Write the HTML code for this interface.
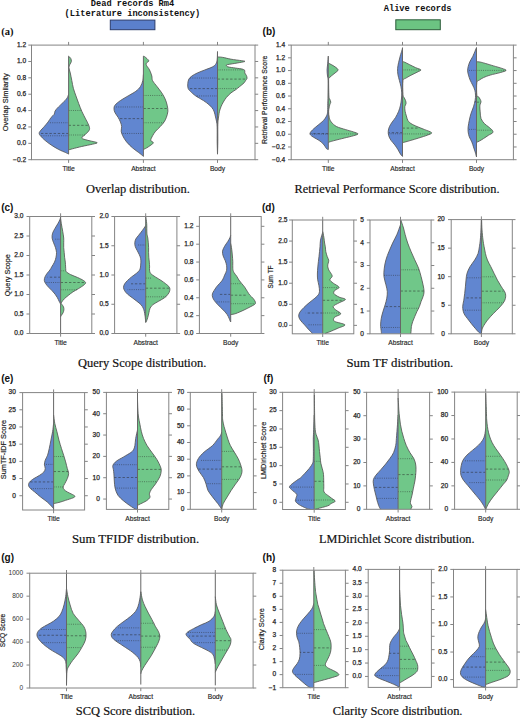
<!DOCTYPE html>
<html><head><meta charset="utf-8"><style>
html,body{margin:0;padding:0;background:#fff;width:520px;height:718px;overflow:hidden}
svg{display:block}
.tk{font-family:"Liberation Sans",sans-serif;font-size:6.6px;fill:#262626;stroke:#262626;stroke-width:0.25px}
.ct{font-family:"Liberation Sans",sans-serif;font-size:6.7px;fill:#262626;stroke:#262626;stroke-width:0.15px}
.tkl{font-family:"Liberation Sans",sans-serif;font-size:6.6px;fill:#333}
.yl{font-family:"Liberation Sans",sans-serif;font-size:7.2px;fill:#262626;stroke:#262626;stroke-width:0.2px}
.pl{font-family:"Liberation Sans",sans-serif;font-size:10px;font-weight:bold;fill:#111}
.pls{font-family:"Liberation Serif",serif;font-size:10.5px;font-weight:bold;fill:#111}
.cap{font-family:"Liberation Serif",serif;font-size:12.8px;fill:#111;stroke:#111;stroke-width:0.2px}
.hd{font-family:"Liberation Mono",monospace;font-size:8.7px;font-weight:bold;fill:#111}
</style></head><body>
<svg width="520" height="718" viewBox="0 0 520 718">
<rect width="520" height="718" fill="#fff"/>
<path d="M68.6,94.41 L68.6,94.41 C68.24,95.18 67.83,97.22 66.46,99 C65.08,100.79 61.86,103.6 60.33,105.13 C58.8,106.66 58.16,107.17 57.27,108.19 C56.37,109.21 55.48,110.23 54.97,111.26 C54.46,112.28 54.84,113.3 54.2,114.32 C53.57,115.34 52.16,116.11 51.14,117.38 C50.12,118.66 49.23,120.44 48.08,121.98 C46.93,123.51 45.58,125.04 44.25,126.57 C42.92,128.1 40.96,130.02 40.12,131.16 C39.27,132.31 39.15,132.7 39.2,133.46 C39.25,134.23 39.45,134.61 40.42,135.76 C41.39,136.91 43.23,138.82 45.02,140.35 C46.8,141.88 48.85,143.42 51.14,144.95 C53.44,146.48 56.37,148.26 58.8,149.54 C61.22,150.82 64.06,151.84 65.69,152.6 C67.32,153.37 68.12,153.88 68.6,154.13 L68.6,154.13 Z" fill="#6186d0"/>
<path d="M68.6,94.41 C68.24,95.18 67.83,97.22 66.46,99 C65.08,100.79 61.86,103.6 60.33,105.13 C58.8,106.66 58.16,107.17 57.27,108.19 C56.37,109.21 55.48,110.23 54.97,111.26 C54.46,112.28 54.84,113.3 54.2,114.32 C53.57,115.34 52.16,116.11 51.14,117.38 C50.12,118.66 49.23,120.44 48.08,121.98 C46.93,123.51 45.58,125.04 44.25,126.57 C42.92,128.1 40.96,130.02 40.12,131.16 C39.27,132.31 39.15,132.7 39.2,133.46 C39.25,134.23 39.45,134.61 40.42,135.76 C41.39,136.91 43.23,138.82 45.02,140.35 C46.8,141.88 48.85,143.42 51.14,144.95 C53.44,146.48 56.37,148.26 58.8,149.54 C61.22,150.82 64.06,151.84 65.69,152.6 C67.32,153.37 68.12,153.88 68.6,154.13" fill="none" stroke="#555555" stroke-width="0.85" stroke-linejoin="round"/>
<line x1="68.6" y1="122.74" x2="49.61" y2="122.74" stroke="#2a2a2a" stroke-opacity="0.62" stroke-width="0.85" stroke-dasharray="0.9,1.3"/>
<line x1="68.6" y1="133.46" x2="39.2" y2="133.46" stroke="#2a2a2a" stroke-opacity="0.62" stroke-width="0.85" stroke-dasharray="2.4,1.8"/>
<line x1="68.6" y1="135.76" x2="40.42" y2="135.76" stroke="#2a2a2a" stroke-opacity="0.62" stroke-width="0.85" stroke-dasharray="0.9,1.3"/>
<path d="M68.6,56.13 L68.6,56.13 C68.96,56.51 70.28,57.53 70.74,58.42 C71.2,59.32 71.51,60.46 71.36,61.49 C71.2,62.51 70.23,63.53 69.83,64.55 C69.42,65.57 68.83,66.21 68.91,67.61 C68.98,69.01 69.8,70.8 70.28,72.97 C70.77,75.14 71.31,78.08 71.82,80.63 C72.33,83.18 72.66,85.73 73.35,88.28 C74.04,90.84 75.06,93.39 75.95,95.94 C76.84,98.49 77.74,101.05 78.71,103.6 C79.68,106.15 80.62,108.7 81.77,111.26 C82.92,113.81 84.45,116.62 85.6,118.91 C86.75,121.21 88.02,123.25 88.66,125.04 C89.3,126.82 89.94,128.1 89.43,129.63 C88.92,131.16 86.87,132.82 85.6,134.23 C84.32,135.63 81.39,137.03 81.77,138.06 C82.15,139.08 85.34,139.59 87.9,140.35 C90.45,141.12 96.32,142.01 97.08,142.65 C97.85,143.29 95.04,143.54 92.49,144.18 C89.94,144.82 85.09,145.71 81.77,146.48 C78.45,147.24 74.78,148.21 72.58,148.77 C70.39,149.34 69.26,149.67 68.6,149.85 L68.6,149.85 Z" fill="#70c789"/>
<path d="M68.6,56.13 C68.96,56.51 70.28,57.53 70.74,58.42 C71.2,59.32 71.51,60.46 71.36,61.49 C71.2,62.51 70.23,63.53 69.83,64.55 C69.42,65.57 68.83,66.21 68.91,67.61 C68.98,69.01 69.8,70.8 70.28,72.97 C70.77,75.14 71.31,78.08 71.82,80.63 C72.33,83.18 72.66,85.73 73.35,88.28 C74.04,90.84 75.06,93.39 75.95,95.94 C76.84,98.49 77.74,101.05 78.71,103.6 C79.68,106.15 80.62,108.7 81.77,111.26 C82.92,113.81 84.45,116.62 85.6,118.91 C86.75,121.21 88.02,123.25 88.66,125.04 C89.3,126.82 89.94,128.1 89.43,129.63 C88.92,131.16 86.87,132.82 85.6,134.23 C84.32,135.63 81.39,137.03 81.77,138.06 C82.15,139.08 85.34,139.59 87.9,140.35 C90.45,141.12 96.32,142.01 97.08,142.65 C97.85,143.29 95.04,143.54 92.49,144.18 C89.94,144.82 85.09,145.71 81.77,146.48 C78.45,147.24 74.78,148.21 72.58,148.77 C70.39,149.34 69.26,149.67 68.6,149.85" fill="none" stroke="#555555" stroke-width="0.85" stroke-linejoin="round"/>
<line x1="68.6" y1="110.49" x2="81.46" y2="110.49" stroke="#2a2a2a" stroke-opacity="0.62" stroke-width="0.85" stroke-dasharray="0.9,1.3"/>
<line x1="68.6" y1="125.34" x2="88.66" y2="125.34" stroke="#2a2a2a" stroke-opacity="0.62" stroke-width="0.85" stroke-dasharray="2.4,1.8"/>
<line x1="68.6" y1="134.99" x2="85.14" y2="134.99" stroke="#2a2a2a" stroke-opacity="0.62" stroke-width="0.85" stroke-dasharray="0.9,1.3"/>
<line x1="68.6" y1="56.13" x2="68.6" y2="154.13" stroke="#666666" stroke-width="1"/>
<path d="M143.4,74.5 L143.4,74.5 C143.3,75.52 143.3,78.59 142.79,80.63 C142.28,82.67 141.51,84.97 140.34,86.75 C139.16,88.54 137.78,89.82 135.74,91.35 C133.7,92.88 130.64,94.41 128.09,95.94 C125.53,97.47 122.6,99 120.43,100.54 C118.26,102.07 116.14,103.73 115.07,105.13 C114,106.53 114,107.68 114,108.96 C114,110.23 114.38,111.38 115.07,112.79 C115.76,114.19 117.24,115.85 118.13,117.38 C119.03,118.91 119.84,120.44 120.43,121.98 C121.02,123.51 121.53,125.04 121.65,126.57 C121.78,128.1 121.02,129.63 121.19,131.16 C121.37,132.7 121.83,133.97 122.73,135.76 C123.62,137.54 124.9,139.84 126.55,141.88 C128.21,143.93 130.64,146.22 132.68,148.01 C134.72,149.8 137.15,151.33 138.81,152.6 C140.46,153.88 141.87,155.03 142.63,155.67 C143.4,156.3 143.27,156.3 143.4,156.43 L143.4,156.43 Z" fill="#6186d0"/>
<path d="M143.4,74.5 C143.3,75.52 143.3,78.59 142.79,80.63 C142.28,82.67 141.51,84.97 140.34,86.75 C139.16,88.54 137.78,89.82 135.74,91.35 C133.7,92.88 130.64,94.41 128.09,95.94 C125.53,97.47 122.6,99 120.43,100.54 C118.26,102.07 116.14,103.73 115.07,105.13 C114,106.53 114,107.68 114,108.96 C114,110.23 114.38,111.38 115.07,112.79 C115.76,114.19 117.24,115.85 118.13,117.38 C119.03,118.91 119.84,120.44 120.43,121.98 C121.02,123.51 121.53,125.04 121.65,126.57 C121.78,128.1 121.02,129.63 121.19,131.16 C121.37,132.7 121.83,133.97 122.73,135.76 C123.62,137.54 124.9,139.84 126.55,141.88 C128.21,143.93 130.64,146.22 132.68,148.01 C134.72,149.8 137.15,151.33 138.81,152.6 C140.46,153.88 141.87,155.03 142.63,155.67 C143.4,156.3 143.27,156.3 143.4,156.43" fill="none" stroke="#555555" stroke-width="0.85" stroke-linejoin="round"/>
<line x1="143.4" y1="106.97" x2="114.61" y2="106.97" stroke="#2a2a2a" stroke-opacity="0.62" stroke-width="0.85" stroke-dasharray="0.9,1.3"/>
<line x1="143.4" y1="118.61" x2="119.2" y2="118.61" stroke="#2a2a2a" stroke-opacity="0.62" stroke-width="0.85" stroke-dasharray="2.4,1.8"/>
<line x1="143.4" y1="133.46" x2="121.35" y2="133.46" stroke="#2a2a2a" stroke-opacity="0.62" stroke-width="0.85" stroke-dasharray="0.9,1.3"/>
<path d="M143.4,56.13 L143.4,56.13 C143.66,56.25 144.04,56.13 144.93,56.89 C145.82,57.66 148.5,59.7 148.76,60.72 C149.02,61.74 146.85,62.25 146.46,63.02 C146.08,63.78 145.95,64.17 146.46,65.31 C146.97,66.46 148.63,68.12 149.53,69.91 C150.42,71.69 151.31,74.25 151.82,76.03 C152.33,77.82 151.7,78.84 152.59,80.63 C153.48,82.41 155.65,84.71 157.18,86.75 C158.71,88.8 160.45,90.84 161.78,92.88 C163.1,94.92 164.25,96.96 165.15,99 C166.04,101.05 166.68,103.09 167.14,105.13 C167.6,107.17 168.03,109.21 167.9,111.26 C167.77,113.3 167.01,115.59 166.37,117.38 C165.73,119.17 165.09,120.44 164.07,121.98 C163.05,123.51 161.65,125.04 160.25,126.57 C158.84,128.1 156.93,129.63 155.65,131.16 C154.37,132.7 153.41,134.23 152.59,135.76 C151.77,137.29 150.62,139.2 150.75,140.35 C150.88,141.5 153.3,141.88 153.35,142.65 C153.41,143.42 152.21,144.05 151.06,144.95 C149.91,145.84 147.74,147.24 146.46,148.01 C145.19,148.77 143.91,149.29 143.4,149.54 L143.4,149.54 Z" fill="#70c789"/>
<path d="M143.4,56.13 C143.66,56.25 144.04,56.13 144.93,56.89 C145.82,57.66 148.5,59.7 148.76,60.72 C149.02,61.74 146.85,62.25 146.46,63.02 C146.08,63.78 145.95,64.17 146.46,65.31 C146.97,66.46 148.63,68.12 149.53,69.91 C150.42,71.69 151.31,74.25 151.82,76.03 C152.33,77.82 151.7,78.84 152.59,80.63 C153.48,82.41 155.65,84.71 157.18,86.75 C158.71,88.8 160.45,90.84 161.78,92.88 C163.1,94.92 164.25,96.96 165.15,99 C166.04,101.05 166.68,103.09 167.14,105.13 C167.6,107.17 168.03,109.21 167.9,111.26 C167.77,113.3 167.01,115.59 166.37,117.38 C165.73,119.17 165.09,120.44 164.07,121.98 C163.05,123.51 161.65,125.04 160.25,126.57 C158.84,128.1 156.93,129.63 155.65,131.16 C154.37,132.7 153.41,134.23 152.59,135.76 C151.77,137.29 150.62,139.2 150.75,140.35 C150.88,141.5 153.3,141.88 153.35,142.65 C153.41,143.42 152.21,144.05 151.06,144.95 C149.91,145.84 147.74,147.24 146.46,148.01 C145.19,148.77 143.91,149.29 143.4,149.54" fill="none" stroke="#555555" stroke-width="0.85" stroke-linejoin="round"/>
<line x1="143.4" y1="95.48" x2="163.31" y2="95.48" stroke="#2a2a2a" stroke-opacity="0.62" stroke-width="0.85" stroke-dasharray="0.9,1.3"/>
<line x1="143.4" y1="108.5" x2="167.6" y2="108.5" stroke="#2a2a2a" stroke-opacity="0.62" stroke-width="0.85" stroke-dasharray="2.4,1.8"/>
<line x1="143.4" y1="122.74" x2="163.61" y2="122.74" stroke="#2a2a2a" stroke-opacity="0.62" stroke-width="0.85" stroke-dasharray="0.9,1.3"/>
<line x1="143.4" y1="56.13" x2="143.4" y2="156.43" stroke="#666666" stroke-width="1"/>
<path d="M217.5,51.53 L217.5,51.53 C217.45,52.81 217.45,57.15 217.19,59.19 C216.94,61.23 216.73,62.51 215.97,63.78 C215.2,65.06 214.44,65.82 212.6,66.85 C210.76,67.87 207.49,68.89 204.94,69.91 C202.39,70.93 199.46,71.95 197.29,72.97 C195.12,73.99 193.33,75.01 191.93,76.03 C190.52,77.05 189.55,77.82 188.86,79.1 C188.17,80.37 187.92,82.16 187.79,83.69 C187.66,85.22 187.66,87.01 188.1,88.28 C188.53,89.56 189.12,90.07 190.39,91.35 C191.67,92.62 193.58,94.41 195.75,95.94 C197.92,97.47 201.11,99 203.41,100.54 C205.71,102.07 207.88,103.6 209.54,105.13 C211.2,106.66 212.47,108.19 213.37,109.72 C214.26,111.26 214.46,112.79 214.9,114.32 C215.33,115.85 215.64,117.38 215.97,118.91 C216.3,120.44 216.68,121.72 216.89,123.51 C217.09,125.29 217.14,126.57 217.19,129.63 C217.24,132.7 217.14,137.8 217.19,141.88 C217.24,145.97 217.45,152.09 217.5,154.13 L217.5,154.13 Z" fill="#6186d0"/>
<path d="M217.5,51.53 C217.45,52.81 217.45,57.15 217.19,59.19 C216.94,61.23 216.73,62.51 215.97,63.78 C215.2,65.06 214.44,65.82 212.6,66.85 C210.76,67.87 207.49,68.89 204.94,69.91 C202.39,70.93 199.46,71.95 197.29,72.97 C195.12,73.99 193.33,75.01 191.93,76.03 C190.52,77.05 189.55,77.82 188.86,79.1 C188.17,80.37 187.92,82.16 187.79,83.69 C187.66,85.22 187.66,87.01 188.1,88.28 C188.53,89.56 189.12,90.07 190.39,91.35 C191.67,92.62 193.58,94.41 195.75,95.94 C197.92,97.47 201.11,99 203.41,100.54 C205.71,102.07 207.88,103.6 209.54,105.13 C211.2,106.66 212.47,108.19 213.37,109.72 C214.26,111.26 214.46,112.79 214.9,114.32 C215.33,115.85 215.64,117.38 215.97,118.91 C216.3,120.44 216.68,121.72 216.89,123.51 C217.09,125.29 217.14,126.57 217.19,129.63 C217.24,132.7 217.14,137.8 217.19,141.88 C217.24,145.97 217.45,152.09 217.5,154.13" fill="none" stroke="#555555" stroke-width="0.85" stroke-linejoin="round"/>
<line x1="217.5" y1="78.02" x2="189.02" y2="78.02" stroke="#2a2a2a" stroke-opacity="0.62" stroke-width="0.85" stroke-dasharray="0.9,1.3"/>
<line x1="217.5" y1="88.59" x2="188.1" y2="88.59" stroke="#2a2a2a" stroke-opacity="0.62" stroke-width="0.85" stroke-dasharray="2.4,1.8"/>
<line x1="217.5" y1="95.94" x2="196.52" y2="95.94" stroke="#2a2a2a" stroke-opacity="0.62" stroke-width="0.85" stroke-dasharray="0.9,1.3"/>
<path d="M217.5,56.89 L217.5,56.89 C218.34,56.97 220.31,56.97 222.55,57.35 C224.8,57.73 227.79,58.63 230.98,59.19 C234.17,59.75 239.4,60.34 241.7,60.72 C243.99,61.1 245.52,61.1 244.76,61.49 C243.99,61.87 239.91,62.51 237.1,63.02 C234.29,63.53 229.7,64.17 227.91,64.55 C226.13,64.93 226.38,64.93 226.38,65.31 C226.38,65.7 226.38,66.39 227.91,66.85 C229.44,67.3 233.15,67.69 235.57,68.07 C238,68.45 240.93,68.71 242.46,69.14 C243.99,69.58 244.38,70.04 244.76,70.67 C245.14,71.31 244.5,72.21 244.76,72.97 C245.01,73.74 245.91,74.37 246.29,75.27 C246.67,76.16 247.18,77.44 247.06,78.33 C246.93,79.22 246.03,79.86 245.52,80.63 C245.01,81.39 245.01,81.9 243.99,82.92 C242.97,83.95 240.8,85.6 239.4,86.75 C238,87.9 236.97,88.8 235.57,89.82 C234.17,90.84 232.51,91.6 230.98,92.88 C229.44,94.16 227.66,95.94 226.38,97.47 C225.11,99 224.21,100.54 223.32,102.07 C222.43,103.6 221.66,105.13 221.02,106.66 C220.38,108.19 219.87,109.72 219.49,111.26 C219.11,112.79 218.95,114.32 218.73,115.85 C218.5,117.38 218.27,118.66 218.11,120.44 C217.96,122.23 217.86,123 217.81,126.57 C217.76,130.14 217.86,137.29 217.81,141.88 C217.76,146.48 217.55,152.09 217.5,154.13 L217.5,154.13 Z" fill="#70c789"/>
<path d="M217.5,56.89 C218.34,56.97 220.31,56.97 222.55,57.35 C224.8,57.73 227.79,58.63 230.98,59.19 C234.17,59.75 239.4,60.34 241.7,60.72 C243.99,61.1 245.52,61.1 244.76,61.49 C243.99,61.87 239.91,62.51 237.1,63.02 C234.29,63.53 229.7,64.17 227.91,64.55 C226.13,64.93 226.38,64.93 226.38,65.31 C226.38,65.7 226.38,66.39 227.91,66.85 C229.44,67.3 233.15,67.69 235.57,68.07 C238,68.45 240.93,68.71 242.46,69.14 C243.99,69.58 244.38,70.04 244.76,70.67 C245.14,71.31 244.5,72.21 244.76,72.97 C245.01,73.74 245.91,74.37 246.29,75.27 C246.67,76.16 247.18,77.44 247.06,78.33 C246.93,79.22 246.03,79.86 245.52,80.63 C245.01,81.39 245.01,81.9 243.99,82.92 C242.97,83.95 240.8,85.6 239.4,86.75 C238,87.9 236.97,88.8 235.57,89.82 C234.17,90.84 232.51,91.6 230.98,92.88 C229.44,94.16 227.66,95.94 226.38,97.47 C225.11,99 224.21,100.54 223.32,102.07 C222.43,103.6 221.66,105.13 221.02,106.66 C220.38,108.19 219.87,109.72 219.49,111.26 C219.11,112.79 218.95,114.32 218.73,115.85 C218.5,117.38 218.27,118.66 218.11,120.44 C217.96,122.23 217.86,123 217.81,126.57 C217.76,130.14 217.86,137.29 217.81,141.88 C217.76,146.48 217.55,152.09 217.5,154.13" fill="none" stroke="#555555" stroke-width="0.85" stroke-linejoin="round"/>
<line x1="217.5" y1="69.91" x2="244.45" y2="69.91" stroke="#2a2a2a" stroke-opacity="0.62" stroke-width="0.85" stroke-dasharray="0.9,1.3"/>
<line x1="217.5" y1="79.1" x2="246.6" y2="79.1" stroke="#2a2a2a" stroke-opacity="0.62" stroke-width="0.85" stroke-dasharray="2.4,1.8"/>
<line x1="217.5" y1="88.59" x2="236.34" y2="88.59" stroke="#2a2a2a" stroke-opacity="0.62" stroke-width="0.85" stroke-dasharray="0.9,1.3"/>
<line x1="217.5" y1="51.53" x2="217.5" y2="154.13" stroke="#666666" stroke-width="1"/>
<path d="M328.3,56.13 L328.3,56.13 C328.2,57.4 327.89,61.49 327.69,63.78 C327.48,66.08 327.1,67.87 327.07,69.91 C327.05,71.95 327.33,74.25 327.53,76.03 C327.74,77.82 328.2,77.31 328.3,80.63 C328.4,83.95 328.22,92.11 328.15,95.94 C328.07,99.77 327.92,101.05 327.84,103.6 C327.76,106.15 327.89,109.21 327.69,111.26 C327.48,113.3 327.3,114.32 326.62,115.85 C325.93,117.38 324.96,118.91 323.55,120.44 C322.15,121.98 319.85,123.63 318.19,125.04 C316.53,126.44 314.93,127.59 313.6,128.87 C312.27,130.14 310.74,131.67 310.23,132.7 C309.72,133.72 309.97,134.23 310.54,134.99 C311.1,135.76 312.19,136.4 313.6,137.29 C315,138.18 317.43,139.33 318.96,140.35 C320.49,141.37 321.77,142.39 322.79,143.42 C323.81,144.44 324.45,145.58 325.08,146.48 C325.72,147.37 326.08,148.26 326.62,148.77 C327.15,149.29 328.02,149.41 328.3,149.54 L328.3,149.54 Z" fill="#6186d0"/>
<path d="M328.3,56.13 C328.2,57.4 327.89,61.49 327.69,63.78 C327.48,66.08 327.1,67.87 327.07,69.91 C327.05,71.95 327.33,74.25 327.53,76.03 C327.74,77.82 328.2,77.31 328.3,80.63 C328.4,83.95 328.22,92.11 328.15,95.94 C328.07,99.77 327.92,101.05 327.84,103.6 C327.76,106.15 327.89,109.21 327.69,111.26 C327.48,113.3 327.3,114.32 326.62,115.85 C325.93,117.38 324.96,118.91 323.55,120.44 C322.15,121.98 319.85,123.63 318.19,125.04 C316.53,126.44 314.93,127.59 313.6,128.87 C312.27,130.14 310.74,131.67 310.23,132.7 C309.72,133.72 309.97,134.23 310.54,134.99 C311.1,135.76 312.19,136.4 313.6,137.29 C315,138.18 317.43,139.33 318.96,140.35 C320.49,141.37 321.77,142.39 322.79,143.42 C323.81,144.44 324.45,145.58 325.08,146.48 C325.72,147.37 326.08,148.26 326.62,148.77 C327.15,149.29 328.02,149.41 328.3,149.54" fill="none" stroke="#555555" stroke-width="0.85" stroke-linejoin="round"/>
<line x1="328.3" y1="133.61" x2="310.54" y2="133.61" stroke="#2a2a2a" stroke-opacity="0.62" stroke-width="0.85" stroke-dasharray="2.4,1.8"/>
<line x1="328.3" y1="134.07" x2="310.84" y2="134.07" stroke="#2a2a2a" stroke-opacity="0.62" stroke-width="0.85" stroke-dasharray="0.9,1.3"/>
<path d="M328.3,63.02 L328.3,63.02 C328.78,63.27 330.09,63.91 331.21,64.55 C332.33,65.19 333.89,65.95 335.04,66.85 C336.19,67.74 338.1,68.89 338.1,69.91 C338.1,70.93 336.19,71.95 335.04,72.97 C333.89,73.99 332.23,75.14 331.21,76.03 C330.19,76.93 329.35,77.57 328.91,78.33 C328.48,79.1 328.61,77.69 328.61,80.63 C328.61,83.56 328.73,92.88 328.91,95.94 C329.09,99 329.37,97.98 329.68,99 C329.98,100.03 330.75,101.05 330.75,102.07 C330.75,103.09 330.04,103.6 329.68,105.13 C329.32,106.66 328.68,109.21 328.61,111.26 C328.53,113.3 328.78,115.59 329.22,117.38 C329.65,119.17 329.98,120.44 331.21,121.98 C332.43,123.51 334.14,125.29 336.57,126.57 C338.99,127.85 342.95,128.74 345.76,129.63 C348.57,130.53 351.37,131.21 353.41,131.93 C355.46,132.64 358.01,133.28 358.01,133.92 C358.01,134.56 355.71,135.07 353.41,135.76 C351.12,136.45 347.29,137.29 344.23,138.06 C341.16,138.82 337.46,139.71 335.04,140.35 C332.61,140.99 330.8,141.5 329.68,141.88 C328.56,142.27 328.53,142.52 328.3,142.65 L328.3,142.65 Z" fill="#70c789"/>
<path d="M328.3,63.02 C328.78,63.27 330.09,63.91 331.21,64.55 C332.33,65.19 333.89,65.95 335.04,66.85 C336.19,67.74 338.1,68.89 338.1,69.91 C338.1,70.93 336.19,71.95 335.04,72.97 C333.89,73.99 332.23,75.14 331.21,76.03 C330.19,76.93 329.35,77.57 328.91,78.33 C328.48,79.1 328.61,77.69 328.61,80.63 C328.61,83.56 328.73,92.88 328.91,95.94 C329.09,99 329.37,97.98 329.68,99 C329.98,100.03 330.75,101.05 330.75,102.07 C330.75,103.09 330.04,103.6 329.68,105.13 C329.32,106.66 328.68,109.21 328.61,111.26 C328.53,113.3 328.78,115.59 329.22,117.38 C329.65,119.17 329.98,120.44 331.21,121.98 C332.43,123.51 334.14,125.29 336.57,126.57 C338.99,127.85 342.95,128.74 345.76,129.63 C348.57,130.53 351.37,131.21 353.41,131.93 C355.46,132.64 358.01,133.28 358.01,133.92 C358.01,134.56 355.71,135.07 353.41,135.76 C351.12,136.45 347.29,137.29 344.23,138.06 C341.16,138.82 337.46,139.71 335.04,140.35 C332.61,140.99 330.8,141.5 329.68,141.88 C328.56,142.27 328.53,142.52 328.3,142.65" fill="none" stroke="#555555" stroke-width="0.85" stroke-linejoin="round"/>
<line x1="328.3" y1="133.92" x2="357.24" y2="133.92" stroke="#2a2a2a" stroke-opacity="0.62" stroke-width="0.85" stroke-dasharray="0.9,1.3"/>
<line x1="328.3" y1="56.13" x2="328.3" y2="149.54" stroke="#666666" stroke-width="1"/>
<path d="M402.5,47.7 L402.5,47.7 C402.42,48.09 402.42,48.6 402.04,50 C401.66,51.4 400.76,54.08 400.2,56.13 C399.64,58.17 399.11,60.21 398.67,62.25 C398.24,64.29 397.73,66.33 397.6,68.38 C397.47,70.42 397.6,72.46 397.91,74.5 C398.21,76.54 398.93,78.59 399.44,80.63 C399.95,82.67 400.59,84.71 400.97,86.75 C401.35,88.8 401.66,90.84 401.73,92.88 C401.81,94.92 401.63,96.96 401.43,99 C401.22,101.05 400.97,103.09 400.51,105.13 C400.05,107.17 399.49,109.21 398.67,111.26 C397.85,113.3 396.68,115.59 395.61,117.38 C394.54,119.17 393.26,120.44 392.24,121.98 C391.22,123.51 390.15,125.04 389.48,126.57 C388.82,128.1 388.39,129.63 388.26,131.16 C388.13,132.7 388.26,134.23 388.72,135.76 C389.18,137.29 389.99,138.82 391.01,140.35 C392.04,141.88 393.69,143.42 394.84,144.95 C395.99,146.48 396.96,148.01 397.91,149.54 C398.85,151.07 399.74,152.99 400.51,154.13 C401.27,155.28 402.17,156.05 402.5,156.43 L402.5,156.43 Z" fill="#6186d0"/>
<path d="M402.5,47.7 C402.42,48.09 402.42,48.6 402.04,50 C401.66,51.4 400.76,54.08 400.2,56.13 C399.64,58.17 399.11,60.21 398.67,62.25 C398.24,64.29 397.73,66.33 397.6,68.38 C397.47,70.42 397.6,72.46 397.91,74.5 C398.21,76.54 398.93,78.59 399.44,80.63 C399.95,82.67 400.59,84.71 400.97,86.75 C401.35,88.8 401.66,90.84 401.73,92.88 C401.81,94.92 401.63,96.96 401.43,99 C401.22,101.05 400.97,103.09 400.51,105.13 C400.05,107.17 399.49,109.21 398.67,111.26 C397.85,113.3 396.68,115.59 395.61,117.38 C394.54,119.17 393.26,120.44 392.24,121.98 C391.22,123.51 390.15,125.04 389.48,126.57 C388.82,128.1 388.39,129.63 388.26,131.16 C388.13,132.7 388.26,134.23 388.72,135.76 C389.18,137.29 389.99,138.82 391.01,140.35 C392.04,141.88 393.69,143.42 394.84,144.95 C395.99,146.48 396.96,148.01 397.91,149.54 C398.85,151.07 399.74,152.99 400.51,154.13 C401.27,155.28 402.17,156.05 402.5,156.43" fill="none" stroke="#555555" stroke-width="0.85" stroke-linejoin="round"/>
<line x1="402.5" y1="132.7" x2="388.72" y2="132.7" stroke="#2a2a2a" stroke-opacity="0.62" stroke-width="0.85" stroke-dasharray="2.4,1.8"/>
<line x1="402.5" y1="133.77" x2="388.56" y2="133.77" stroke="#2a2a2a" stroke-opacity="0.62" stroke-width="0.85" stroke-dasharray="0.9,1.3"/>
<path d="M402.5,61.49 L402.5,61.49 C402.88,61.61 403.65,61.74 404.8,62.25 C405.95,62.76 407.6,63.65 409.39,64.55 C411.18,65.44 413.6,66.72 415.52,67.61 C417.43,68.5 420.62,69.14 420.88,69.91 C421.13,70.67 418.71,71.31 417.05,72.21 C415.39,73.1 412.84,74.25 410.92,75.27 C409.01,76.29 406.89,77.44 405.56,78.33 C404.24,79.22 403.39,77.95 402.96,80.63 C402.53,83.31 402.78,91.6 402.96,94.41 C403.14,97.22 403.6,96.45 404.03,97.47 C404.47,98.49 405.23,99.52 405.56,100.54 C405.89,101.56 406.15,102.58 406.02,103.6 C405.89,104.62 404.95,105.39 404.8,106.66 C404.64,107.94 404.85,109.72 405.1,111.26 C405.36,112.79 405.87,114.32 406.33,115.85 C406.79,117.38 407.09,119.17 407.86,120.44 C408.63,121.72 409.39,122.49 410.92,123.51 C412.45,124.53 414.75,125.55 417.05,126.57 C419.35,127.59 422.28,128.61 424.71,129.63 C427.13,130.65 431.09,131.8 431.6,132.7 C432.11,133.59 429.94,134.1 427.77,134.99 C425.6,135.89 421.39,137.16 418.58,138.06 C415.77,138.95 413.09,139.71 410.92,140.35 C408.75,140.99 406.97,141.5 405.56,141.88 C404.16,142.27 403.01,142.52 402.5,142.65 L402.5,142.65 Z" fill="#70c789"/>
<path d="M402.5,61.49 C402.88,61.61 403.65,61.74 404.8,62.25 C405.95,62.76 407.6,63.65 409.39,64.55 C411.18,65.44 413.6,66.72 415.52,67.61 C417.43,68.5 420.62,69.14 420.88,69.91 C421.13,70.67 418.71,71.31 417.05,72.21 C415.39,73.1 412.84,74.25 410.92,75.27 C409.01,76.29 406.89,77.44 405.56,78.33 C404.24,79.22 403.39,77.95 402.96,80.63 C402.53,83.31 402.78,91.6 402.96,94.41 C403.14,97.22 403.6,96.45 404.03,97.47 C404.47,98.49 405.23,99.52 405.56,100.54 C405.89,101.56 406.15,102.58 406.02,103.6 C405.89,104.62 404.95,105.39 404.8,106.66 C404.64,107.94 404.85,109.72 405.1,111.26 C405.36,112.79 405.87,114.32 406.33,115.85 C406.79,117.38 407.09,119.17 407.86,120.44 C408.63,121.72 409.39,122.49 410.92,123.51 C412.45,124.53 414.75,125.55 417.05,126.57 C419.35,127.59 422.28,128.61 424.71,129.63 C427.13,130.65 431.09,131.8 431.6,132.7 C432.11,133.59 429.94,134.1 427.77,134.99 C425.6,135.89 421.39,137.16 418.58,138.06 C415.77,138.95 413.09,139.71 410.92,140.35 C408.75,140.99 406.97,141.5 405.56,141.88 C404.16,142.27 403.01,142.52 402.5,142.65" fill="none" stroke="#555555" stroke-width="0.85" stroke-linejoin="round"/>
<line x1="402.5" y1="69.91" x2="420.11" y2="69.91" stroke="#2a2a2a" stroke-opacity="0.62" stroke-width="0.85" stroke-dasharray="0.9,1.3"/>
<line x1="402.5" y1="128.1" x2="418.58" y2="128.1" stroke="#2a2a2a" stroke-opacity="0.62" stroke-width="0.85" stroke-dasharray="2.4,1.8"/>
<line x1="402.5" y1="133.92" x2="430.07" y2="133.92" stroke="#2a2a2a" stroke-opacity="0.62" stroke-width="0.85" stroke-dasharray="0.9,1.3"/>
<line x1="402.5" y1="47.7" x2="402.5" y2="156.43" stroke="#666666" stroke-width="1"/>
<path d="M476.5,47.52 L476.5,47.52 C476.33,47.94 476.14,48.49 475.5,50.02 C474.86,51.55 473.6,54.76 472.66,56.71 C471.71,58.65 470.57,60.05 469.82,61.72 C469.07,63.39 468.51,65.2 468.15,66.73 C467.79,68.26 467.59,69.51 467.65,70.91 C467.7,72.3 468.06,73.55 468.48,75.08 C468.9,76.61 469.46,78.42 470.15,80.09 C470.85,81.76 471.88,83.43 472.66,85.11 C473.44,86.78 474.36,88.45 474.83,90.12 C475.3,91.79 475.44,93.46 475.5,95.13 C475.55,96.8 475.5,98.19 475.16,100.14 C474.83,102.09 474.19,104.6 473.49,106.82 C472.8,109.05 471.68,111.28 470.99,113.5 C470.29,115.73 469.79,117.96 469.32,120.19 C468.84,122.41 468.34,124.92 468.15,126.87 C467.95,128.82 467.95,130.21 468.15,131.88 C468.34,133.55 468.7,135.22 469.32,136.89 C469.93,138.56 471.13,140.23 471.82,141.9 C472.52,143.58 472.94,145.25 473.49,146.92 C474.05,148.59 474.66,150.26 475.16,151.93 C475.66,153.6 476.28,156.1 476.5,156.94 L476.5,156.94 Z" fill="#6186d0"/>
<path d="M476.5,47.52 C476.33,47.94 476.14,48.49 475.5,50.02 C474.86,51.55 473.6,54.76 472.66,56.71 C471.71,58.65 470.57,60.05 469.82,61.72 C469.07,63.39 468.51,65.2 468.15,66.73 C467.79,68.26 467.59,69.51 467.65,70.91 C467.7,72.3 468.06,73.55 468.48,75.08 C468.9,76.61 469.46,78.42 470.15,80.09 C470.85,81.76 471.88,83.43 472.66,85.11 C473.44,86.78 474.36,88.45 474.83,90.12 C475.3,91.79 475.44,93.46 475.5,95.13 C475.55,96.8 475.5,98.19 475.16,100.14 C474.83,102.09 474.19,104.6 473.49,106.82 C472.8,109.05 471.68,111.28 470.99,113.5 C470.29,115.73 469.79,117.96 469.32,120.19 C468.84,122.41 468.34,124.92 468.15,126.87 C467.95,128.82 467.95,130.21 468.15,131.88 C468.34,133.55 468.7,135.22 469.32,136.89 C469.93,138.56 471.13,140.23 471.82,141.9 C472.52,143.58 472.94,145.25 473.49,146.92 C474.05,148.59 474.66,150.26 475.16,151.93 C475.66,153.6 476.28,156.1 476.5,156.94" fill="none" stroke="#555555" stroke-width="0.85" stroke-linejoin="round"/>
<line x1="476.5" y1="70.4" x2="467.81" y2="70.4" stroke="#2a2a2a" stroke-opacity="0.62" stroke-width="0.85" stroke-dasharray="0.9,1.3"/>
<line x1="476.5" y1="101.81" x2="474.83" y2="101.81" stroke="#2a2a2a" stroke-opacity="0.62" stroke-width="0.85" stroke-dasharray="2.4,1.8"/>
<line x1="476.5" y1="129.38" x2="468.15" y2="129.38" stroke="#2a2a2a" stroke-opacity="0.62" stroke-width="0.85" stroke-dasharray="0.9,1.3"/>
<path d="M476.5,61.72 L476.5,61.72 C477.11,61.77 478.73,61.77 480.18,62.05 C481.62,62.33 482.96,62.75 485.19,63.39 C487.41,64.03 490.76,65.06 493.54,65.89 C496.32,66.73 499.8,67.65 501.89,68.4 C503.98,69.15 506.35,69.71 506.07,70.4 C505.79,71.1 502.87,71.8 500.22,72.58 C497.58,73.36 492.98,74.25 490.2,75.08 C487.41,75.92 485.33,76.75 483.52,77.59 C481.71,78.42 480.45,79.26 479.34,80.09 C478.23,80.93 477.25,80.09 476.83,82.6 C476.42,85.11 476.56,92.76 476.83,95.13 C477.11,97.5 477.95,96.1 478.5,96.8 C479.06,97.5 479.76,98.47 480.18,99.31 C480.59,100.14 481.01,100.98 481.01,101.81 C481.01,102.65 480.37,103.48 480.18,104.32 C479.98,105.15 479.84,105.57 479.84,106.82 C479.84,108.08 479.98,109.89 480.18,111.83 C480.37,113.78 480.31,116.57 481.01,118.52 C481.71,120.47 483.1,122.14 484.35,123.53 C485.6,124.92 487.22,125.76 488.53,126.87 C489.84,127.98 491.51,129.24 492.2,130.21 C492.9,131.18 493.32,131.88 492.7,132.72 C492.09,133.55 490.06,134.25 488.53,135.22 C487,136.2 485.05,137.59 483.52,138.56 C481.99,139.54 480.45,140.46 479.34,141.07 C478.23,141.68 477.25,142.04 476.83,142.24 L476.5,142.24 Z" fill="#70c789"/>
<path d="M476.5,61.72 C477.11,61.77 478.73,61.77 480.18,62.05 C481.62,62.33 482.96,62.75 485.19,63.39 C487.41,64.03 490.76,65.06 493.54,65.89 C496.32,66.73 499.8,67.65 501.89,68.4 C503.98,69.15 506.35,69.71 506.07,70.4 C505.79,71.1 502.87,71.8 500.22,72.58 C497.58,73.36 492.98,74.25 490.2,75.08 C487.41,75.92 485.33,76.75 483.52,77.59 C481.71,78.42 480.45,79.26 479.34,80.09 C478.23,80.93 477.25,80.09 476.83,82.6 C476.42,85.11 476.56,92.76 476.83,95.13 C477.11,97.5 477.95,96.1 478.5,96.8 C479.06,97.5 479.76,98.47 480.18,99.31 C480.59,100.14 481.01,100.98 481.01,101.81 C481.01,102.65 480.37,103.48 480.18,104.32 C479.98,105.15 479.84,105.57 479.84,106.82 C479.84,108.08 479.98,109.89 480.18,111.83 C480.37,113.78 480.31,116.57 481.01,118.52 C481.71,120.47 483.1,122.14 484.35,123.53 C485.6,124.92 487.22,125.76 488.53,126.87 C489.84,127.98 491.51,129.24 492.2,130.21 C492.9,131.18 493.32,131.88 492.7,132.72 C492.09,133.55 490.06,134.25 488.53,135.22 C487,136.2 485.05,137.59 483.52,138.56 C481.99,139.54 480.45,140.46 479.34,141.07 C478.23,141.68 477.25,142.04 476.83,142.24" fill="none" stroke="#555555" stroke-width="0.85" stroke-linejoin="round"/>
<line x1="476.5" y1="70.4" x2="505.57" y2="70.4" stroke="#2a2a2a" stroke-opacity="0.62" stroke-width="0.85" stroke-dasharray="0.9,1.3"/>
<line x1="476.5" y1="102.15" x2="480.18" y2="102.15" stroke="#2a2a2a" stroke-opacity="0.62" stroke-width="0.85" stroke-dasharray="2.4,1.8"/>
<line x1="476.5" y1="130.21" x2="492.2" y2="130.21" stroke="#2a2a2a" stroke-opacity="0.62" stroke-width="0.85" stroke-dasharray="0.9,1.3"/>
<line x1="476.5" y1="47.52" x2="476.5" y2="156.94" stroke="#666666" stroke-width="1"/>
<path d="M60.6,217.4 L60.6,217.4 C60.47,217.8 60.25,218.77 59.8,219.8 C59.35,220.83 58.7,222.17 57.9,223.6 C57.1,225.03 55.88,226.8 55,228.4 C54.12,230 53.08,231.6 52.6,233.2 C52.12,234.8 51.93,236.4 52.1,238 C52.27,239.6 53.03,241.18 53.6,242.8 C54.17,244.42 55.02,246.08 55.5,247.7 C55.98,249.32 56.42,250.9 56.5,252.5 C56.58,254.1 56.33,255.7 56,257.3 C55.67,258.9 55.22,260.5 54.5,262.1 C53.78,263.7 52.47,265.58 51.7,266.9 C50.93,268.22 50.68,268.9 49.9,270 C49.12,271.1 47.82,272.35 47,273.5 C46.18,274.65 45.45,275.75 45,276.9 C44.55,278.05 44.17,279.25 44.3,280.4 C44.43,281.55 45.07,282.65 45.8,283.8 C46.53,284.95 47.63,286.13 48.7,287.3 C49.77,288.47 51.13,289.65 52.2,290.8 C53.27,291.95 54.23,293.05 55.1,294.2 C55.97,295.35 56.73,296.53 57.4,297.7 C58.07,298.87 58.62,300.23 59.1,301.2 C59.58,302.17 60.05,303.03 60.3,303.5 C60.55,303.97 60.55,303.92 60.6,304 L60.6,304 Z" fill="#6186d0"/>
<path d="M60.6,217.4 C60.47,217.8 60.25,218.77 59.8,219.8 C59.35,220.83 58.7,222.17 57.9,223.6 C57.1,225.03 55.88,226.8 55,228.4 C54.12,230 53.08,231.6 52.6,233.2 C52.12,234.8 51.93,236.4 52.1,238 C52.27,239.6 53.03,241.18 53.6,242.8 C54.17,244.42 55.02,246.08 55.5,247.7 C55.98,249.32 56.42,250.9 56.5,252.5 C56.58,254.1 56.33,255.7 56,257.3 C55.67,258.9 55.22,260.5 54.5,262.1 C53.78,263.7 52.47,265.58 51.7,266.9 C50.93,268.22 50.68,268.9 49.9,270 C49.12,271.1 47.82,272.35 47,273.5 C46.18,274.65 45.45,275.75 45,276.9 C44.55,278.05 44.17,279.25 44.3,280.4 C44.43,281.55 45.07,282.65 45.8,283.8 C46.53,284.95 47.63,286.13 48.7,287.3 C49.77,288.47 51.13,289.65 52.2,290.8 C53.27,291.95 54.23,293.05 55.1,294.2 C55.97,295.35 56.73,296.53 57.4,297.7 C58.07,298.87 58.62,300.23 59.1,301.2 C59.58,302.17 60.05,303.03 60.3,303.5 C60.55,303.97 60.55,303.92 60.6,304" fill="none" stroke="#555555" stroke-width="0.85" stroke-linejoin="round"/>
<line x1="60.6" y1="239.2" x2="54.6" y2="239.2" stroke="#2a2a2a" stroke-opacity="0.62" stroke-width="0.85" stroke-dasharray="0.9,1.3"/>
<line x1="60.6" y1="277.2" x2="47.6" y2="277.2" stroke="#2a2a2a" stroke-opacity="0.62" stroke-width="0.85" stroke-dasharray="2.4,1.8"/>
<line x1="60.6" y1="282.5" x2="45.1" y2="282.5" stroke="#2a2a2a" stroke-opacity="0.62" stroke-width="0.85" stroke-dasharray="0.9,1.3"/>
<path d="M60.6,218.8 L60.6,218.8 C60.72,219.6 60.95,221.52 61.3,223.6 C61.65,225.68 62.3,228.9 62.7,231.3 C63.1,233.7 63.53,236.08 63.7,238 C63.87,239.92 63.7,241.18 63.7,242.8 C63.7,244.42 63.62,246.08 63.7,247.7 C63.78,249.32 64.05,250.9 64.2,252.5 C64.35,254.1 64.42,255.7 64.6,257.3 C64.78,258.9 65.13,260.5 65.3,262.1 C65.47,263.7 65.52,265.58 65.6,266.9 C65.68,268.22 65.7,269.2 65.8,270 C65.9,270.8 65.4,270.93 66.2,271.7 C67,272.47 68.7,273.63 70.6,274.6 C72.5,275.57 75.48,276.53 77.6,277.5 C79.72,278.47 81.97,279.53 83.3,280.4 C84.63,281.27 85.5,281.93 85.6,282.7 C85.7,283.47 85.05,284.03 83.9,285 C82.75,285.97 80.53,287.35 78.7,288.5 C76.87,289.65 74.63,290.75 72.9,291.9 C71.17,293.05 69.73,294.25 68.3,295.4 C66.87,296.55 65.35,297.75 64.3,298.8 C63.25,299.85 62.52,300.92 62,301.7 C61.48,302.48 61.2,303.02 61.2,303.5 C61.2,303.98 61.62,304.03 62,304.6 C62.38,305.17 63.18,306.03 63.5,306.9 C63.82,307.77 63.97,308.83 63.9,309.8 C63.83,310.77 63.48,311.83 63.1,312.7 C62.72,313.57 61.98,314.42 61.6,315 C61.22,315.58 60.97,315.87 60.8,316.2 C60.63,316.53 60.63,316.87 60.6,317 L60.6,317 Z" fill="#70c789"/>
<path d="M60.6,218.8 C60.72,219.6 60.95,221.52 61.3,223.6 C61.65,225.68 62.3,228.9 62.7,231.3 C63.1,233.7 63.53,236.08 63.7,238 C63.87,239.92 63.7,241.18 63.7,242.8 C63.7,244.42 63.62,246.08 63.7,247.7 C63.78,249.32 64.05,250.9 64.2,252.5 C64.35,254.1 64.42,255.7 64.6,257.3 C64.78,258.9 65.13,260.5 65.3,262.1 C65.47,263.7 65.52,265.58 65.6,266.9 C65.68,268.22 65.7,269.2 65.8,270 C65.9,270.8 65.4,270.93 66.2,271.7 C67,272.47 68.7,273.63 70.6,274.6 C72.5,275.57 75.48,276.53 77.6,277.5 C79.72,278.47 81.97,279.53 83.3,280.4 C84.63,281.27 85.5,281.93 85.6,282.7 C85.7,283.47 85.05,284.03 83.9,285 C82.75,285.97 80.53,287.35 78.7,288.5 C76.87,289.65 74.63,290.75 72.9,291.9 C71.17,293.05 69.73,294.25 68.3,295.4 C66.87,296.55 65.35,297.75 64.3,298.8 C63.25,299.85 62.52,300.92 62,301.7 C61.48,302.48 61.2,303.02 61.2,303.5 C61.2,303.98 61.62,304.03 62,304.6 C62.38,305.17 63.18,306.03 63.5,306.9 C63.82,307.77 63.97,308.83 63.9,309.8 C63.83,310.77 63.48,311.83 63.1,312.7 C62.72,313.57 61.98,314.42 61.6,315 C61.22,315.58 60.97,315.87 60.8,316.2 C60.63,316.53 60.63,316.87 60.6,317" fill="none" stroke="#555555" stroke-width="0.85" stroke-linejoin="round"/>
<line x1="60.6" y1="270.8" x2="65.4" y2="270.8" stroke="#2a2a2a" stroke-opacity="0.62" stroke-width="0.85" stroke-dasharray="0.9,1.3"/>
<line x1="60.6" y1="282.5" x2="85.1" y2="282.5" stroke="#2a2a2a" stroke-opacity="0.62" stroke-width="0.85" stroke-dasharray="2.4,1.8"/>
<line x1="60.6" y1="289.8" x2="77.6" y2="289.8" stroke="#2a2a2a" stroke-opacity="0.62" stroke-width="0.85" stroke-dasharray="0.9,1.3"/>
<line x1="60.6" y1="216.5" x2="60.6" y2="333.5" stroke="#666666" stroke-width="1"/>
<path d="M145.7,225.5 L145.7,225.5 C145.6,225.67 145.63,225.7 145.1,226.5 C144.57,227.3 143.57,228.85 142.5,230.3 C141.43,231.75 139.82,233.75 138.7,235.2 C137.58,236.65 136.45,237.73 135.8,239 C135.15,240.27 134.88,241.52 134.8,242.8 C134.72,244.08 134.9,245.42 135.3,246.7 C135.7,247.98 136.55,249.22 137.2,250.5 C137.85,251.78 138.63,253.12 139.2,254.4 C139.77,255.68 140.32,256.92 140.6,258.2 C140.88,259.48 140.9,260.82 140.9,262.1 C140.9,263.38 140.8,264.58 140.6,265.9 C140.4,267.22 140.43,268.73 139.7,270 C138.97,271.27 137.55,272.35 136.2,273.5 C134.85,274.65 133.03,275.75 131.6,276.9 C130.17,278.05 128.75,279.25 127.6,280.4 C126.45,281.55 125.38,282.65 124.7,283.8 C124.02,284.95 123.5,286.13 123.5,287.3 C123.5,288.47 124.02,289.65 124.7,290.8 C125.38,291.95 126.35,293.05 127.6,294.2 C128.85,295.35 130.67,296.53 132.2,297.7 C133.73,298.87 135.35,300.05 136.8,301.2 C138.25,302.35 139.83,303.45 140.9,304.6 C141.97,305.75 142.63,306.95 143.2,308.1 C143.77,309.25 143.98,310.15 144.3,311.5 C144.62,312.85 144.87,314.47 145.1,316.2 C145.33,317.93 145.6,320.95 145.7,321.9 L145.7,321.9 Z" fill="#6186d0"/>
<path d="M145.7,225.5 C145.6,225.67 145.63,225.7 145.1,226.5 C144.57,227.3 143.57,228.85 142.5,230.3 C141.43,231.75 139.82,233.75 138.7,235.2 C137.58,236.65 136.45,237.73 135.8,239 C135.15,240.27 134.88,241.52 134.8,242.8 C134.72,244.08 134.9,245.42 135.3,246.7 C135.7,247.98 136.55,249.22 137.2,250.5 C137.85,251.78 138.63,253.12 139.2,254.4 C139.77,255.68 140.32,256.92 140.6,258.2 C140.88,259.48 140.9,260.82 140.9,262.1 C140.9,263.38 140.8,264.58 140.6,265.9 C140.4,267.22 140.43,268.73 139.7,270 C138.97,271.27 137.55,272.35 136.2,273.5 C134.85,274.65 133.03,275.75 131.6,276.9 C130.17,278.05 128.75,279.25 127.6,280.4 C126.45,281.55 125.38,282.65 124.7,283.8 C124.02,284.95 123.5,286.13 123.5,287.3 C123.5,288.47 124.02,289.65 124.7,290.8 C125.38,291.95 126.35,293.05 127.6,294.2 C128.85,295.35 130.67,296.53 132.2,297.7 C133.73,298.87 135.35,300.05 136.8,301.2 C138.25,302.35 139.83,303.45 140.9,304.6 C141.97,305.75 142.63,306.95 143.2,308.1 C143.77,309.25 143.98,310.15 144.3,311.5 C144.62,312.85 144.87,314.47 145.1,316.2 C145.33,317.93 145.6,320.95 145.7,321.9" fill="none" stroke="#555555" stroke-width="0.85" stroke-linejoin="round"/>
<line x1="145.7" y1="245" x2="137.2" y2="245" stroke="#2a2a2a" stroke-opacity="0.62" stroke-width="0.85" stroke-dasharray="0.9,1.3"/>
<line x1="145.7" y1="283.8" x2="131" y2="283.8" stroke="#2a2a2a" stroke-opacity="0.62" stroke-width="0.85" stroke-dasharray="2.4,1.8"/>
<line x1="145.7" y1="289.6" x2="127.7" y2="289.6" stroke="#2a2a2a" stroke-opacity="0.62" stroke-width="0.85" stroke-dasharray="0.9,1.3"/>
<path d="M145.7,216.9 L145.7,216.9 C145.87,218.02 146.5,220.88 146.7,223.6 C146.9,226.32 146.72,230.8 146.9,233.2 C147.08,235.6 147.57,236.4 147.8,238 C148.03,239.6 148.17,241.18 148.3,242.8 C148.43,244.42 148.55,246.08 148.6,247.7 C148.65,249.32 148.57,250.9 148.6,252.5 C148.63,254.1 148.68,255.7 148.8,257.3 C148.92,258.9 149.17,260.5 149.3,262.1 C149.43,263.7 149.57,265.58 149.6,266.9 C149.63,268.22 149.32,268.9 149.5,270 C149.68,271.1 149.73,272.35 150.7,273.5 C151.67,274.65 153.58,275.75 155.3,276.9 C157.02,278.05 159.27,279.25 161,280.4 C162.73,281.55 164.3,282.65 165.7,283.8 C167.1,284.95 168.73,286.13 169.4,287.3 C170.07,288.47 169.93,289.65 169.7,290.8 C169.47,291.95 168.87,293.05 168,294.2 C167.13,295.35 166.05,296.53 164.5,297.7 C162.95,298.87 160.62,300.05 158.7,301.2 C156.78,302.35 154.43,303.45 153,304.6 C151.57,305.75 150.78,306.75 150.1,308.1 C149.42,309.45 149.28,311.17 148.9,312.7 C148.52,314.23 148.18,315.95 147.8,317.3 C147.42,318.65 146.95,319.93 146.6,320.8 C146.25,321.67 145.85,322.22 145.7,322.5 L145.7,322.5 Z" fill="#70c789"/>
<path d="M145.7,216.9 C145.87,218.02 146.5,220.88 146.7,223.6 C146.9,226.32 146.72,230.8 146.9,233.2 C147.08,235.6 147.57,236.4 147.8,238 C148.03,239.6 148.17,241.18 148.3,242.8 C148.43,244.42 148.55,246.08 148.6,247.7 C148.65,249.32 148.57,250.9 148.6,252.5 C148.63,254.1 148.68,255.7 148.8,257.3 C148.92,258.9 149.17,260.5 149.3,262.1 C149.43,263.7 149.57,265.58 149.6,266.9 C149.63,268.22 149.32,268.9 149.5,270 C149.68,271.1 149.73,272.35 150.7,273.5 C151.67,274.65 153.58,275.75 155.3,276.9 C157.02,278.05 159.27,279.25 161,280.4 C162.73,281.55 164.3,282.65 165.7,283.8 C167.1,284.95 168.73,286.13 169.4,287.3 C170.07,288.47 169.93,289.65 169.7,290.8 C169.47,291.95 168.87,293.05 168,294.2 C167.13,295.35 166.05,296.53 164.5,297.7 C162.95,298.87 160.62,300.05 158.7,301.2 C156.78,302.35 154.43,303.45 153,304.6 C151.57,305.75 150.78,306.75 150.1,308.1 C149.42,309.45 149.28,311.17 148.9,312.7 C148.52,314.23 148.18,315.95 147.8,317.3 C147.42,318.65 146.95,319.93 146.6,320.8 C146.25,321.67 145.85,322.22 145.7,322.5" fill="none" stroke="#555555" stroke-width="0.85" stroke-linejoin="round"/>
<line x1="145.7" y1="278.1" x2="151.7" y2="278.1" stroke="#2a2a2a" stroke-opacity="0.62" stroke-width="0.85" stroke-dasharray="0.9,1.3"/>
<line x1="145.7" y1="288.2" x2="169.7" y2="288.2" stroke="#2a2a2a" stroke-opacity="0.62" stroke-width="0.85" stroke-dasharray="2.4,1.8"/>
<line x1="145.7" y1="296.8" x2="166.7" y2="296.8" stroke="#2a2a2a" stroke-opacity="0.62" stroke-width="0.85" stroke-dasharray="0.9,1.3"/>
<line x1="145.7" y1="216.5" x2="145.7" y2="322.5" stroke="#666666" stroke-width="1"/>
<path d="M230.7,235.3 L230.7,235.3 C230.57,235.7 230.38,236.67 229.9,237.7 C229.42,238.73 228.68,240.07 227.8,241.5 C226.92,242.93 225.48,244.68 224.6,246.3 C223.72,247.92 222.73,249.58 222.5,251.2 C222.27,252.82 222.73,254.4 223.2,256 C223.67,257.6 224.73,259.2 225.3,260.8 C225.87,262.4 226.38,264 226.6,265.6 C226.82,267.2 226.93,268.8 226.6,270.4 C226.27,272 225.28,273.6 224.6,275.2 C223.92,276.8 223.35,278.62 222.5,280 C221.65,281.38 220.5,282.35 219.5,283.5 C218.5,284.65 217.38,285.75 216.5,286.9 C215.62,288.05 214.88,289.25 214.2,290.4 C213.52,291.55 212.67,292.65 212.4,293.8 C212.13,294.95 212.25,296.13 212.6,297.3 C212.95,298.47 213.7,299.65 214.5,300.8 C215.3,301.95 216.33,303.05 217.4,304.2 C218.47,305.35 219.73,306.53 220.9,307.7 C222.07,308.87 223.35,310.05 224.4,311.2 C225.45,312.35 226.43,313.45 227.2,314.6 C227.97,315.75 228.55,317.13 229,318.1 C229.45,319.07 229.62,319.75 229.9,320.4 C230.18,321.05 230.57,321.73 230.7,322 L230.7,322 Z" fill="#6186d0"/>
<path d="M230.7,235.3 C230.57,235.7 230.38,236.67 229.9,237.7 C229.42,238.73 228.68,240.07 227.8,241.5 C226.92,242.93 225.48,244.68 224.6,246.3 C223.72,247.92 222.73,249.58 222.5,251.2 C222.27,252.82 222.73,254.4 223.2,256 C223.67,257.6 224.73,259.2 225.3,260.8 C225.87,262.4 226.38,264 226.6,265.6 C226.82,267.2 226.93,268.8 226.6,270.4 C226.27,272 225.28,273.6 224.6,275.2 C223.92,276.8 223.35,278.62 222.5,280 C221.65,281.38 220.5,282.35 219.5,283.5 C218.5,284.65 217.38,285.75 216.5,286.9 C215.62,288.05 214.88,289.25 214.2,290.4 C213.52,291.55 212.67,292.65 212.4,293.8 C212.13,294.95 212.25,296.13 212.6,297.3 C212.95,298.47 213.7,299.65 214.5,300.8 C215.3,301.95 216.33,303.05 217.4,304.2 C218.47,305.35 219.73,306.53 220.9,307.7 C222.07,308.87 223.35,310.05 224.4,311.2 C225.45,312.35 226.43,313.45 227.2,314.6 C227.97,315.75 228.55,317.13 229,318.1 C229.45,319.07 229.62,319.75 229.9,320.4 C230.18,321.05 230.57,321.73 230.7,322" fill="none" stroke="#555555" stroke-width="0.85" stroke-linejoin="round"/>
<line x1="230.7" y1="294.4" x2="218.7" y2="294.4" stroke="#2a2a2a" stroke-opacity="0.62" stroke-width="0.85" stroke-dasharray="2.4,1.8"/>
<line x1="230.7" y1="301.9" x2="216.7" y2="301.9" stroke="#2a2a2a" stroke-opacity="0.62" stroke-width="0.85" stroke-dasharray="0.9,1.3"/>
<path d="M230.7,243.5 L230.7,243.5 C230.87,244.45 231.43,247.28 231.7,249.2 C231.97,251.12 232.12,252.92 232.3,255 C232.48,257.08 232.72,259.45 232.8,261.7 C232.88,263.95 232.63,266.73 232.8,268.5 C232.97,270.27 233.15,271.02 233.8,272.3 C234.45,273.58 235.85,274.92 236.7,276.2 C237.55,277.48 238.07,278.78 238.9,280 C239.73,281.22 240.77,282.35 241.7,283.5 C242.63,284.65 243.55,285.57 244.5,286.9 C245.45,288.23 246.53,290.15 247.4,291.5 C248.27,292.85 248.73,293.83 249.7,295 C250.67,296.17 252.27,297.35 253.2,298.5 C254.13,299.65 255.02,300.95 255.3,301.9 C255.58,302.85 255.63,303.43 254.9,304.2 C254.17,304.97 252.72,305.53 250.9,306.5 C249.08,307.47 246.5,308.83 244,310 C241.5,311.17 238.07,312.73 235.9,313.5 C233.73,314.27 231.87,314.35 231,314.6 C230.13,314.85 230.75,314.93 230.7,315 L230.7,315 Z" fill="#70c789"/>
<path d="M230.7,243.5 C230.87,244.45 231.43,247.28 231.7,249.2 C231.97,251.12 232.12,252.92 232.3,255 C232.48,257.08 232.72,259.45 232.8,261.7 C232.88,263.95 232.63,266.73 232.8,268.5 C232.97,270.27 233.15,271.02 233.8,272.3 C234.45,273.58 235.85,274.92 236.7,276.2 C237.55,277.48 238.07,278.78 238.9,280 C239.73,281.22 240.77,282.35 241.7,283.5 C242.63,284.65 243.55,285.57 244.5,286.9 C245.45,288.23 246.53,290.15 247.4,291.5 C248.27,292.85 248.73,293.83 249.7,295 C250.67,296.17 252.27,297.35 253.2,298.5 C254.13,299.65 255.02,300.95 255.3,301.9 C255.58,302.85 255.63,303.43 254.9,304.2 C254.17,304.97 252.72,305.53 250.9,306.5 C249.08,307.47 246.5,308.83 244,310 C241.5,311.17 238.07,312.73 235.9,313.5 C233.73,314.27 231.87,314.35 231,314.6 C230.13,314.85 230.75,314.93 230.7,315" fill="none" stroke="#555555" stroke-width="0.85" stroke-linejoin="round"/>
<line x1="230.7" y1="283.7" x2="240.7" y2="283.7" stroke="#2a2a2a" stroke-opacity="0.62" stroke-width="0.85" stroke-dasharray="0.9,1.3"/>
<line x1="230.7" y1="295.2" x2="245.7" y2="295.2" stroke="#2a2a2a" stroke-opacity="0.62" stroke-width="0.85" stroke-dasharray="2.4,1.8"/>
<line x1="230.7" y1="303.7" x2="253.7" y2="303.7" stroke="#2a2a2a" stroke-opacity="0.62" stroke-width="0.85" stroke-dasharray="0.9,1.3"/>
<line x1="230.7" y1="216.5" x2="230.7" y2="322" stroke="#666666" stroke-width="1"/>
<path d="M322.7,232.4 L322.7,232.4 C322.33,233.68 320.95,237.7 320.5,240.1 C320.05,242.5 320.25,244.07 320,246.8 C319.75,249.53 319.35,253.28 319,256.5 C318.65,259.72 318.17,263.18 317.9,266.1 C317.63,269.02 317.43,271.72 317.4,274 C317.37,276.28 317.45,277.88 317.7,279.8 C317.95,281.72 318.6,283.58 318.9,285.5 C319.2,287.42 319.6,289.75 319.5,291.3 C319.4,292.85 319.07,293.65 318.3,294.8 C317.53,295.95 316.43,296.87 314.9,298.2 C313.37,299.53 310.93,301.25 309.1,302.8 C307.27,304.35 305.43,305.95 303.9,307.5 C302.37,309.05 300.77,310.67 299.9,312.1 C299.03,313.53 298.62,314.75 298.7,316.1 C298.78,317.45 299.43,318.75 300.4,320.2 C301.37,321.65 303.15,323.27 304.5,324.8 C305.85,326.33 307.17,327.97 308.5,329.4 C309.83,330.83 311.83,332.73 312.5,333.4 L322.7,333.4 Z" fill="#6186d0"/>
<path d="M322.7,232.4 C322.33,233.68 320.95,237.7 320.5,240.1 C320.05,242.5 320.25,244.07 320,246.8 C319.75,249.53 319.35,253.28 319,256.5 C318.65,259.72 318.17,263.18 317.9,266.1 C317.63,269.02 317.43,271.72 317.4,274 C317.37,276.28 317.45,277.88 317.7,279.8 C317.95,281.72 318.6,283.58 318.9,285.5 C319.2,287.42 319.6,289.75 319.5,291.3 C319.4,292.85 319.07,293.65 318.3,294.8 C317.53,295.95 316.43,296.87 314.9,298.2 C313.37,299.53 310.93,301.25 309.1,302.8 C307.27,304.35 305.43,305.95 303.9,307.5 C302.37,309.05 300.77,310.67 299.9,312.1 C299.03,313.53 298.62,314.75 298.7,316.1 C298.78,317.45 299.43,318.75 300.4,320.2 C301.37,321.65 303.15,323.27 304.5,324.8 C305.85,326.33 307.17,327.97 308.5,329.4 C309.83,330.83 311.83,332.73 312.5,333.4" fill="none" stroke="#555555" stroke-width="0.85" stroke-linejoin="round"/>
<line x1="322.7" y1="313" x2="305.7" y2="313" stroke="#2a2a2a" stroke-opacity="0.62" stroke-width="0.85" stroke-dasharray="2.4,1.8"/>
<line x1="322.7" y1="324.8" x2="307.4" y2="324.8" stroke="#2a2a2a" stroke-opacity="0.62" stroke-width="0.85" stroke-dasharray="0.9,1.3"/>
<path d="M322.7,231.5 L322.7,231.5 C322.89,232.45 323.53,235.28 323.85,237.2 C324.17,239.12 324.36,241.4 324.6,243 C324.84,244.6 325.1,245.35 325.3,246.8 C325.5,248.25 325.48,250.08 325.8,251.7 C326.12,253.32 326.72,255.07 327.2,256.5 C327.68,257.93 328.53,259.18 328.7,260.3 C328.87,261.42 328.37,262.23 328.2,263.2 C328.03,264.17 327.62,264.98 327.7,266.1 C327.78,267.22 328.22,268.78 328.7,269.9 C329.18,271.02 330.02,271.73 330.6,272.8 C331.18,273.87 332.32,275.13 332.2,276.3 C332.08,277.47 329.72,278.65 329.9,279.8 C330.08,280.95 331.77,281.95 333.3,283.2 C334.83,284.45 338.82,286.13 339.1,287.3 C339.38,288.47 335.87,289.15 335,290.2 C334.13,291.25 333.22,292.45 333.9,293.6 C334.58,294.75 337.18,296.13 339.1,297.1 C341.02,298.07 345.4,298.45 345.4,299.4 C345.4,300.35 341.12,301.65 339.1,302.8 C337.08,303.95 333.88,305.13 333.3,306.3 C332.72,307.47 334.35,308.55 335.6,309.8 C336.85,311.05 340.98,312.55 340.8,313.8 C340.62,315.05 335.55,316.05 334.5,317.3 C333.45,318.55 332.77,320.05 334.5,321.3 C336.23,322.55 344.33,323.65 344.9,324.8 C345.47,325.95 340.4,327.05 337.9,328.2 C335.4,329.35 332.02,330.83 329.9,331.7 C327.78,332.57 325.98,333.12 325.2,333.4 L322.7,333.4 Z" fill="#70c789"/>
<path d="M322.7,231.5 C322.89,232.45 323.53,235.28 323.85,237.2 C324.17,239.12 324.36,241.4 324.6,243 C324.84,244.6 325.1,245.35 325.3,246.8 C325.5,248.25 325.48,250.08 325.8,251.7 C326.12,253.32 326.72,255.07 327.2,256.5 C327.68,257.93 328.53,259.18 328.7,260.3 C328.87,261.42 328.37,262.23 328.2,263.2 C328.03,264.17 327.62,264.98 327.7,266.1 C327.78,267.22 328.22,268.78 328.7,269.9 C329.18,271.02 330.02,271.73 330.6,272.8 C331.18,273.87 332.32,275.13 332.2,276.3 C332.08,277.47 329.72,278.65 329.9,279.8 C330.08,280.95 331.77,281.95 333.3,283.2 C334.83,284.45 338.82,286.13 339.1,287.3 C339.38,288.47 335.87,289.15 335,290.2 C334.13,291.25 333.22,292.45 333.9,293.6 C334.58,294.75 337.18,296.13 339.1,297.1 C341.02,298.07 345.4,298.45 345.4,299.4 C345.4,300.35 341.12,301.65 339.1,302.8 C337.08,303.95 333.88,305.13 333.3,306.3 C332.72,307.47 334.35,308.55 335.6,309.8 C336.85,311.05 340.98,312.55 340.8,313.8 C340.62,315.05 335.55,316.05 334.5,317.3 C333.45,318.55 332.77,320.05 334.5,321.3 C336.23,322.55 344.33,323.65 344.9,324.8 C345.47,325.95 340.4,327.05 337.9,328.2 C335.4,329.35 332.02,330.83 329.9,331.7 C327.78,332.57 325.98,333.12 325.2,333.4" fill="none" stroke="#555555" stroke-width="0.85" stroke-linejoin="round"/>
<line x1="322.7" y1="287.6" x2="337.2" y2="287.6" stroke="#2a2a2a" stroke-opacity="0.62" stroke-width="0.85" stroke-dasharray="0.9,1.3"/>
<line x1="322.7" y1="300.3" x2="341.7" y2="300.3" stroke="#2a2a2a" stroke-opacity="0.62" stroke-width="0.85" stroke-dasharray="2.4,1.8"/>
<line x1="322.7" y1="313" x2="339.2" y2="313" stroke="#2a2a2a" stroke-opacity="0.62" stroke-width="0.85" stroke-dasharray="0.9,1.3"/>
<line x1="322.7" y1="220" x2="322.7" y2="333.8" stroke="#666666" stroke-width="1"/>
<path d="M400.5,224.69 L400.5,224.69 C400.31,225.24 399.94,226.36 399.33,228.03 C398.72,229.7 397.94,232.21 396.82,234.71 C395.71,237.22 393.95,240.29 392.64,243.07 C391.34,245.86 390.08,248.64 388.97,251.43 C387.85,254.21 386.74,257 385.96,259.79 C385.18,262.57 384.62,265.36 384.29,268.14 C383.95,270.93 383.67,273.71 383.95,276.5 C384.23,279.28 385.4,282.35 385.96,284.86 C386.52,287.36 387.16,289.31 387.3,291.54 C387.44,293.77 387.16,296 386.79,298.23 C386.43,300.46 385.76,302.68 385.12,304.91 C384.48,307.14 383.59,309.37 382.95,311.6 C382.31,313.83 381.67,316.06 381.28,318.28 C380.89,320.51 380.61,322.74 380.61,324.97 C380.61,327.2 381.14,330.18 381.28,331.66 C381.42,333.13 381.42,333.47 381.45,333.83 L400.5,333.83 Z" fill="#6186d0"/>
<path d="M400.5,224.69 C400.31,225.24 399.94,226.36 399.33,228.03 C398.72,229.7 397.94,232.21 396.82,234.71 C395.71,237.22 393.95,240.29 392.64,243.07 C391.34,245.86 390.08,248.64 388.97,251.43 C387.85,254.21 386.74,257 385.96,259.79 C385.18,262.57 384.62,265.36 384.29,268.14 C383.95,270.93 383.67,273.71 383.95,276.5 C384.23,279.28 385.4,282.35 385.96,284.86 C386.52,287.36 387.16,289.31 387.3,291.54 C387.44,293.77 387.16,296 386.79,298.23 C386.43,300.46 385.76,302.68 385.12,304.91 C384.48,307.14 383.59,309.37 382.95,311.6 C382.31,313.83 381.67,316.06 381.28,318.28 C380.89,320.51 380.61,322.74 380.61,324.97 C380.61,327.2 381.14,330.18 381.28,331.66 C381.42,333.13 381.42,333.47 381.45,333.83" fill="none" stroke="#555555" stroke-width="0.85" stroke-linejoin="round"/>
<line x1="400.5" y1="275.33" x2="384.12" y2="275.33" stroke="#2a2a2a" stroke-opacity="0.62" stroke-width="0.85" stroke-dasharray="0.9,1.3"/>
<line x1="400.5" y1="306.58" x2="385.62" y2="306.58" stroke="#2a2a2a" stroke-opacity="0.62" stroke-width="0.85" stroke-dasharray="2.4,1.8"/>
<line x1="400.5" y1="327.48" x2="380.61" y2="327.48" stroke="#2a2a2a" stroke-opacity="0.62" stroke-width="0.85" stroke-dasharray="0.9,1.3"/>
<path d="M400.5,220.01 L401,220.01 C401.14,220.51 401.42,221.68 401.84,223.01 C402.25,224.35 402.95,226.08 403.51,228.03 C404.07,229.98 404.48,232.21 405.18,234.71 C405.88,237.22 406.71,240.29 407.69,243.07 C408.66,245.86 409.86,248.64 411.03,251.43 C412.2,254.21 413.45,257 414.71,259.79 C415.96,262.57 417.49,265.36 418.55,268.14 C419.61,270.93 420.31,273.71 421.06,276.5 C421.81,279.28 422.56,282.35 423.06,284.86 C423.57,287.36 424.07,289.59 424.07,291.54 C424.07,293.49 423.57,294.88 423.06,296.56 C422.56,298.23 421.67,299.9 421.06,301.57 C420.45,303.24 420.08,304.91 419.39,306.58 C418.69,308.26 417.66,309.93 416.88,311.6 C416.1,313.27 415.4,314.94 414.71,316.61 C414.01,318.28 413.26,319.96 412.7,321.63 C412.14,323.3 411.64,324.97 411.36,326.64 C411.09,328.31 411.14,330.46 411.03,331.66 C410.92,332.85 410.75,333.47 410.7,333.83 L400.5,333.83 Z" fill="#70c789"/>
<path d="M401,220.01 C401.14,220.51 401.42,221.68 401.84,223.01 C402.25,224.35 402.95,226.08 403.51,228.03 C404.07,229.98 404.48,232.21 405.18,234.71 C405.88,237.22 406.71,240.29 407.69,243.07 C408.66,245.86 409.86,248.64 411.03,251.43 C412.2,254.21 413.45,257 414.71,259.79 C415.96,262.57 417.49,265.36 418.55,268.14 C419.61,270.93 420.31,273.71 421.06,276.5 C421.81,279.28 422.56,282.35 423.06,284.86 C423.57,287.36 424.07,289.59 424.07,291.54 C424.07,293.49 423.57,294.88 423.06,296.56 C422.56,298.23 421.67,299.9 421.06,301.57 C420.45,303.24 420.08,304.91 419.39,306.58 C418.69,308.26 417.66,309.93 416.88,311.6 C416.1,313.27 415.4,314.94 414.71,316.61 C414.01,318.28 413.26,319.96 412.7,321.63 C412.14,323.3 411.64,324.97 411.36,326.64 C411.09,328.31 411.14,330.46 411.03,331.66 C410.92,332.85 410.75,333.47 410.7,333.83" fill="none" stroke="#555555" stroke-width="0.85" stroke-linejoin="round"/>
<line x1="400.5" y1="269.81" x2="419.05" y2="269.81" stroke="#2a2a2a" stroke-opacity="0.62" stroke-width="0.85" stroke-dasharray="0.9,1.3"/>
<line x1="400.5" y1="291.04" x2="423.9" y2="291.04" stroke="#2a2a2a" stroke-opacity="0.62" stroke-width="0.85" stroke-dasharray="2.4,1.8"/>
<line x1="400.5" y1="308.26" x2="418.55" y2="308.26" stroke="#2a2a2a" stroke-opacity="0.62" stroke-width="0.85" stroke-dasharray="0.9,1.3"/>
<line x1="400.5" y1="220.01" x2="400.5" y2="333.8" stroke="#666666" stroke-width="1"/>
<path d="M481.4,219.7 L481.4,219.7 C481.33,221.42 481.18,226.62 481,230 C480.82,233.38 480.57,237.22 480.3,240 C480.03,242.78 479.77,244.47 479.4,246.7 C479.03,248.93 478.88,251.18 478.1,253.4 C477.32,255.62 476.05,257.78 474.7,260 C473.35,262.22 471.28,264.47 470,266.7 C468.72,268.93 467.67,271.17 467,273.4 C466.33,275.63 466.27,277.87 466,280.1 C465.73,282.33 465.62,284.57 465.4,286.8 C465.18,289.03 464.97,291.27 464.7,293.5 C464.43,295.73 464.13,297.98 463.8,300.2 C463.47,302.42 462.67,304.58 462.7,306.8 C462.73,309.02 463,311.27 464,313.5 C465,315.73 467.03,317.97 468.7,320.2 C470.37,322.43 472.33,324.9 474,326.9 C475.67,328.9 477.58,331.08 478.7,332.2 C479.82,333.32 480.25,333.33 480.7,333.6 C481.15,333.87 481.28,333.77 481.4,333.8 L481.4,333.8 Z" fill="#6186d0"/>
<path d="M481.4,219.7 C481.33,221.42 481.18,226.62 481,230 C480.82,233.38 480.57,237.22 480.3,240 C480.03,242.78 479.77,244.47 479.4,246.7 C479.03,248.93 478.88,251.18 478.1,253.4 C477.32,255.62 476.05,257.78 474.7,260 C473.35,262.22 471.28,264.47 470,266.7 C468.72,268.93 467.67,271.17 467,273.4 C466.33,275.63 466.27,277.87 466,280.1 C465.73,282.33 465.62,284.57 465.4,286.8 C465.18,289.03 464.97,291.27 464.7,293.5 C464.43,295.73 464.13,297.98 463.8,300.2 C463.47,302.42 462.67,304.58 462.7,306.8 C462.73,309.02 463,311.27 464,313.5 C465,315.73 467.03,317.97 468.7,320.2 C470.37,322.43 472.33,324.9 474,326.9 C475.67,328.9 477.58,331.08 478.7,332.2 C479.82,333.32 480.25,333.33 480.7,333.6 C481.15,333.87 481.28,333.77 481.4,333.8" fill="none" stroke="#555555" stroke-width="0.85" stroke-linejoin="round"/>
<line x1="481.4" y1="277.8" x2="466.6" y2="277.8" stroke="#2a2a2a" stroke-opacity="0.62" stroke-width="0.85" stroke-dasharray="0.9,1.3"/>
<line x1="481.4" y1="297.9" x2="464.7" y2="297.9" stroke="#2a2a2a" stroke-opacity="0.62" stroke-width="0.85" stroke-dasharray="2.4,1.8"/>
<line x1="481.4" y1="310.2" x2="463.4" y2="310.2" stroke="#2a2a2a" stroke-opacity="0.62" stroke-width="0.85" stroke-dasharray="0.9,1.3"/>
<path d="M481.4,219.7 L481.6,219.7 C481.67,221.42 481.77,226.62 482,230 C482.23,233.38 482.65,237.22 483,240 C483.35,242.78 483.7,244.47 484.1,246.7 C484.5,248.93 484.85,251.18 485.4,253.4 C485.95,255.62 486.5,257.78 487.4,260 C488.3,262.22 489.68,264.47 490.8,266.7 C491.92,268.93 493,271.17 494.1,273.4 C495.2,275.63 496.18,277.87 497.4,280.1 C498.62,282.33 500.07,284.57 501.4,286.8 C502.73,289.03 504.83,291.27 505.4,293.5 C505.97,295.73 505.68,297.98 504.8,300.2 C503.92,302.42 502,304.58 500.1,306.8 C498.2,309.02 495.52,311.27 493.4,313.5 C491.28,315.73 489.13,317.97 487.4,320.2 C485.67,322.43 483.95,325.12 483,326.9 C482.05,328.68 481.97,329.75 481.7,330.9 C481.43,332.05 481.45,333.32 481.4,333.8 L481.4,333.8 Z" fill="#70c789"/>
<path d="M481.6,219.7 C481.67,221.42 481.77,226.62 482,230 C482.23,233.38 482.65,237.22 483,240 C483.35,242.78 483.7,244.47 484.1,246.7 C484.5,248.93 484.85,251.18 485.4,253.4 C485.95,255.62 486.5,257.78 487.4,260 C488.3,262.22 489.68,264.47 490.8,266.7 C491.92,268.93 493,271.17 494.1,273.4 C495.2,275.63 496.18,277.87 497.4,280.1 C498.62,282.33 500.07,284.57 501.4,286.8 C502.73,289.03 504.83,291.27 505.4,293.5 C505.97,295.73 505.68,297.98 504.8,300.2 C503.92,302.42 502,304.58 500.1,306.8 C498.2,309.02 495.52,311.27 493.4,313.5 C491.28,315.73 489.13,317.97 487.4,320.2 C485.67,322.43 483.95,325.12 483,326.9 C482.05,328.68 481.97,329.75 481.7,330.9 C481.43,332.05 481.45,333.32 481.4,333.8" fill="none" stroke="#555555" stroke-width="0.85" stroke-linejoin="round"/>
<line x1="481.4" y1="276.8" x2="494.4" y2="276.8" stroke="#2a2a2a" stroke-opacity="0.62" stroke-width="0.85" stroke-dasharray="0.9,1.3"/>
<line x1="481.4" y1="291.2" x2="503.4" y2="291.2" stroke="#2a2a2a" stroke-opacity="0.62" stroke-width="0.85" stroke-dasharray="2.4,1.8"/>
<line x1="481.4" y1="302.8" x2="503.4" y2="302.8" stroke="#2a2a2a" stroke-opacity="0.62" stroke-width="0.85" stroke-dasharray="0.9,1.3"/>
<line x1="481.4" y1="219.6" x2="481.4" y2="333.8" stroke="#666666" stroke-width="1"/>
<path d="M53.6,423.43 L53.6,423.43 C53.43,424.82 53.04,429 52.6,431.79 C52.15,434.57 51.48,437.36 50.93,440.14 C50.37,442.93 49.81,445.99 49.25,448.5 C48.7,451.01 48.25,453.23 47.58,455.18 C46.91,457.13 45.77,458.67 45.24,460.2 C44.71,461.73 44.41,462.98 44.41,464.38 C44.41,465.77 45.33,467.3 45.24,468.56 C45.16,469.81 44.83,470.78 43.91,471.9 C42.99,473.01 41.4,474.13 39.73,475.24 C38.06,476.36 35.55,477.47 33.88,478.58 C32.21,479.7 30.59,480.81 29.7,481.93 C28.81,483.04 28.39,484.16 28.53,485.27 C28.67,486.38 29.5,487.5 30.53,488.61 C31.57,489.73 33.04,490.56 34.71,491.96 C36.38,493.35 38.47,495.3 40.56,496.97 C42.65,498.64 45.44,500.45 47.25,501.98 C49.06,503.52 50.37,505.05 51.43,506.16 C52.49,507.28 53.24,508.25 53.6,508.67 L53.6,508.67 Z" fill="#6186d0"/>
<path d="M53.6,423.43 C53.43,424.82 53.04,429 52.6,431.79 C52.15,434.57 51.48,437.36 50.93,440.14 C50.37,442.93 49.81,445.99 49.25,448.5 C48.7,451.01 48.25,453.23 47.58,455.18 C46.91,457.13 45.77,458.67 45.24,460.2 C44.71,461.73 44.41,462.98 44.41,464.38 C44.41,465.77 45.33,467.3 45.24,468.56 C45.16,469.81 44.83,470.78 43.91,471.9 C42.99,473.01 41.4,474.13 39.73,475.24 C38.06,476.36 35.55,477.47 33.88,478.58 C32.21,479.7 30.59,480.81 29.7,481.93 C28.81,483.04 28.39,484.16 28.53,485.27 C28.67,486.38 29.5,487.5 30.53,488.61 C31.57,489.73 33.04,490.56 34.71,491.96 C36.38,493.35 38.47,495.3 40.56,496.97 C42.65,498.64 45.44,500.45 47.25,501.98 C49.06,503.52 50.37,505.05 51.43,506.16 C52.49,507.28 53.24,508.25 53.6,508.67" fill="none" stroke="#555555" stroke-width="0.85" stroke-linejoin="round"/>
<line x1="53.6" y1="464.38" x2="44.41" y2="464.38" stroke="#2a2a2a" stroke-opacity="0.62" stroke-width="0.85" stroke-dasharray="0.9,1.3"/>
<line x1="53.6" y1="481.93" x2="29.7" y2="481.93" stroke="#2a2a2a" stroke-opacity="0.62" stroke-width="0.85" stroke-dasharray="2.4,1.8"/>
<line x1="53.6" y1="488.61" x2="30.53" y2="488.61" stroke="#2a2a2a" stroke-opacity="0.62" stroke-width="0.85" stroke-dasharray="0.9,1.3"/>
<path d="M53.6,415.07 L53.6,415.07 C53.79,416.46 54.21,420.64 54.77,423.43 C55.33,426.21 56.25,429 56.94,431.79 C57.64,434.57 58.2,437.36 58.95,440.14 C59.7,442.93 60.68,445.99 61.46,448.5 C62.24,451.01 62.93,452.96 63.63,455.18 C64.32,457.41 65.02,459.64 65.63,461.87 C66.25,464.1 66.8,466.61 67.31,468.56 C67.81,470.51 68.64,471.9 68.64,473.57 C68.64,475.24 67.95,476.91 67.31,478.58 C66.66,480.26 65.49,482.21 64.8,483.6 C64.1,484.99 63.27,485.97 63.13,486.94 C62.99,487.92 63.27,488.61 63.96,489.45 C64.66,490.28 65.91,491.12 67.31,491.96 C68.7,492.79 71.07,493.77 72.32,494.46 C73.57,495.16 74.69,495.58 74.83,496.13 C74.97,496.69 74.69,497.11 73.16,497.81 C71.62,498.5 67.72,499.62 65.63,500.31 C63.54,501.01 62.01,501.57 60.62,501.98 C59.23,502.4 58.45,502.54 57.28,502.82 C56.11,503.1 54.21,503.52 53.6,503.66 L53.6,503.66 Z" fill="#70c789"/>
<path d="M53.6,415.07 C53.79,416.46 54.21,420.64 54.77,423.43 C55.33,426.21 56.25,429 56.94,431.79 C57.64,434.57 58.2,437.36 58.95,440.14 C59.7,442.93 60.68,445.99 61.46,448.5 C62.24,451.01 62.93,452.96 63.63,455.18 C64.32,457.41 65.02,459.64 65.63,461.87 C66.25,464.1 66.8,466.61 67.31,468.56 C67.81,470.51 68.64,471.9 68.64,473.57 C68.64,475.24 67.95,476.91 67.31,478.58 C66.66,480.26 65.49,482.21 64.8,483.6 C64.1,484.99 63.27,485.97 63.13,486.94 C62.99,487.92 63.27,488.61 63.96,489.45 C64.66,490.28 65.91,491.12 67.31,491.96 C68.7,492.79 71.07,493.77 72.32,494.46 C73.57,495.16 74.69,495.58 74.83,496.13 C74.97,496.69 74.69,497.11 73.16,497.81 C71.62,498.5 67.72,499.62 65.63,500.31 C63.54,501.01 62.01,501.57 60.62,501.98 C59.23,502.4 58.45,502.54 57.28,502.82 C56.11,503.1 54.21,503.52 53.6,503.66" fill="none" stroke="#555555" stroke-width="0.85" stroke-linejoin="round"/>
<line x1="53.6" y1="456.52" x2="63.96" y2="456.52" stroke="#2a2a2a" stroke-opacity="0.62" stroke-width="0.85" stroke-dasharray="0.9,1.3"/>
<line x1="53.6" y1="471.56" x2="68.31" y2="471.56" stroke="#2a2a2a" stroke-opacity="0.62" stroke-width="0.85" stroke-dasharray="2.4,1.8"/>
<line x1="53.6" y1="486.94" x2="63.13" y2="486.94" stroke="#2a2a2a" stroke-opacity="0.62" stroke-width="0.85" stroke-dasharray="0.9,1.3"/>
<line x1="53.6" y1="392.6" x2="53.6" y2="510" stroke="#666666" stroke-width="1"/>
<path d="M137.5,430 L137.5,430 C137.2,431.4 136.13,435.82 135.7,438.4 C135.27,440.98 135.27,443.6 134.9,445.5 C134.53,447.4 134.2,448.62 133.5,449.8 C132.8,450.98 132.35,451.42 130.7,452.6 C129.05,453.78 125.97,455.48 123.6,456.9 C121.23,458.32 118.28,459.68 116.5,461.1 C114.72,462.52 113.42,463.97 112.9,465.4 C112.38,466.83 113.23,468.28 113.4,469.7 C113.57,471.12 113.75,472.02 113.9,473.9 C114.05,475.78 114.1,478.63 114.3,481 C114.5,483.37 114.5,485.73 115.1,488.1 C115.7,490.47 116.48,493.07 117.9,495.2 C119.32,497.33 121.7,499.23 123.6,500.9 C125.5,502.57 127.65,504.02 129.3,505.2 C130.95,506.38 132.32,507.3 133.5,508 C134.68,508.7 135.73,509.13 136.4,509.4 C137.07,509.67 137.32,509.57 137.5,509.6 L137.5,509.6 Z" fill="#6186d0"/>
<path d="M137.5,430 C137.2,431.4 136.13,435.82 135.7,438.4 C135.27,440.98 135.27,443.6 134.9,445.5 C134.53,447.4 134.2,448.62 133.5,449.8 C132.8,450.98 132.35,451.42 130.7,452.6 C129.05,453.78 125.97,455.48 123.6,456.9 C121.23,458.32 118.28,459.68 116.5,461.1 C114.72,462.52 113.42,463.97 112.9,465.4 C112.38,466.83 113.23,468.28 113.4,469.7 C113.57,471.12 113.75,472.02 113.9,473.9 C114.05,475.78 114.1,478.63 114.3,481 C114.5,483.37 114.5,485.73 115.1,488.1 C115.7,490.47 116.48,493.07 117.9,495.2 C119.32,497.33 121.7,499.23 123.6,500.9 C125.5,502.57 127.65,504.02 129.3,505.2 C130.95,506.38 132.32,507.3 133.5,508 C134.68,508.7 135.73,509.13 136.4,509.4 C137.07,509.67 137.32,509.57 137.5,509.6" fill="none" stroke="#555555" stroke-width="0.85" stroke-linejoin="round"/>
<line x1="137.5" y1="464.7" x2="113" y2="464.7" stroke="#2a2a2a" stroke-opacity="0.62" stroke-width="0.85" stroke-dasharray="0.9,1.3"/>
<line x1="137.5" y1="477.5" x2="114.2" y2="477.5" stroke="#2a2a2a" stroke-opacity="0.62" stroke-width="0.85" stroke-dasharray="2.4,1.8"/>
<line x1="137.5" y1="488.1" x2="115.1" y2="488.1" stroke="#2a2a2a" stroke-opacity="0.62" stroke-width="0.85" stroke-dasharray="0.9,1.3"/>
<path d="M137.5,400 L137.5,400 C137.57,401.67 137.73,407.15 137.9,410 C138.07,412.85 138.17,414.73 138.5,417.1 C138.83,419.47 139.43,421.83 139.9,424.2 C140.37,426.57 140.7,428.93 141.3,431.3 C141.9,433.67 142.55,436.03 143.5,438.4 C144.45,440.77 145.58,443.13 147,445.5 C148.42,447.87 150.33,450.23 152,452.6 C153.67,454.97 155.58,457.33 157,459.7 C158.42,462.07 159.8,464.9 160.5,466.8 C161.2,468.7 161.32,469.43 161.2,471.1 C161.08,472.77 160.75,474.67 159.8,476.8 C158.85,478.93 156.92,481.78 155.5,483.9 C154.08,486.02 152.32,487.85 151.3,489.5 C150.28,491.15 149.63,492.48 149.4,493.8 C149.17,495.12 150.42,496.22 149.9,497.4 C149.38,498.58 147.85,499.83 146.3,500.9 C144.75,501.97 142.02,503.08 140.6,503.8 C139.18,504.52 138.32,504.92 137.8,505.2 C137.28,505.48 137.55,505.45 137.5,505.5 L137.5,505.5 Z" fill="#70c789"/>
<path d="M137.5,400 C137.57,401.67 137.73,407.15 137.9,410 C138.07,412.85 138.17,414.73 138.5,417.1 C138.83,419.47 139.43,421.83 139.9,424.2 C140.37,426.57 140.7,428.93 141.3,431.3 C141.9,433.67 142.55,436.03 143.5,438.4 C144.45,440.77 145.58,443.13 147,445.5 C148.42,447.87 150.33,450.23 152,452.6 C153.67,454.97 155.58,457.33 157,459.7 C158.42,462.07 159.8,464.9 160.5,466.8 C161.2,468.7 161.32,469.43 161.2,471.1 C161.08,472.77 160.75,474.67 159.8,476.8 C158.85,478.93 156.92,481.78 155.5,483.9 C154.08,486.02 152.32,487.85 151.3,489.5 C150.28,491.15 149.63,492.48 149.4,493.8 C149.17,495.12 150.42,496.22 149.9,497.4 C149.38,498.58 147.85,499.83 146.3,500.9 C144.75,501.97 142.02,503.08 140.6,503.8 C139.18,504.52 138.32,504.92 137.8,505.2 C137.28,505.48 137.55,505.45 137.5,505.5" fill="none" stroke="#555555" stroke-width="0.85" stroke-linejoin="round"/>
<line x1="137.5" y1="456.6" x2="154.5" y2="456.6" stroke="#2a2a2a" stroke-opacity="0.62" stroke-width="0.85" stroke-dasharray="0.9,1.3"/>
<line x1="137.5" y1="469.4" x2="161" y2="469.4" stroke="#2a2a2a" stroke-opacity="0.62" stroke-width="0.85" stroke-dasharray="2.4,1.8"/>
<line x1="137.5" y1="481.7" x2="157" y2="481.7" stroke="#2a2a2a" stroke-opacity="0.62" stroke-width="0.85" stroke-dasharray="0.9,1.3"/>
<line x1="137.5" y1="392.4" x2="137.5" y2="509.4" stroke="#666666" stroke-width="1"/>
<path d="M221.7,432 L221.7,432 C221.62,432.35 221.53,433.32 221.2,434.1 C220.87,434.88 220.3,435.85 219.7,436.7 C219.1,437.55 218.8,437.72 217.6,439.2 C216.4,440.68 214.75,443.45 212.5,445.6 C210.25,447.75 206.45,449.95 204.1,452.1 C201.75,454.25 199.68,456.37 198.4,458.5 C197.12,460.63 196.3,462.77 196.4,464.9 C196.5,467.03 197.82,469.17 199,471.3 C200.18,473.43 202.32,475.57 203.5,477.7 C204.68,479.83 205.35,481.97 206.1,484.1 C206.85,486.23 206.93,488.37 208,490.5 C209.07,492.63 210.9,494.77 212.5,496.9 C214.1,499.03 216.15,501.37 217.6,503.3 C219.05,505.23 220.52,507.52 221.2,508.5 C221.88,509.48 221.62,509.08 221.7,509.2 L221.7,509.2 Z" fill="#6186d0"/>
<path d="M221.7,432 C221.62,432.35 221.53,433.32 221.2,434.1 C220.87,434.88 220.3,435.85 219.7,436.7 C219.1,437.55 218.8,437.72 217.6,439.2 C216.4,440.68 214.75,443.45 212.5,445.6 C210.25,447.75 206.45,449.95 204.1,452.1 C201.75,454.25 199.68,456.37 198.4,458.5 C197.12,460.63 196.3,462.77 196.4,464.9 C196.5,467.03 197.82,469.17 199,471.3 C200.18,473.43 202.32,475.57 203.5,477.7 C204.68,479.83 205.35,481.97 206.1,484.1 C206.85,486.23 206.93,488.37 208,490.5 C209.07,492.63 210.9,494.77 212.5,496.9 C214.1,499.03 216.15,501.37 217.6,503.3 C219.05,505.23 220.52,507.52 221.2,508.5 C221.88,509.48 221.62,509.08 221.7,509.2" fill="none" stroke="#555555" stroke-width="0.85" stroke-linejoin="round"/>
<line x1="221.7" y1="460.4" x2="199.7" y2="460.4" stroke="#2a2a2a" stroke-opacity="0.62" stroke-width="0.85" stroke-dasharray="0.9,1.3"/>
<line x1="221.7" y1="469.1" x2="198.2" y2="469.1" stroke="#2a2a2a" stroke-opacity="0.62" stroke-width="0.85" stroke-dasharray="2.4,1.8"/>
<line x1="221.7" y1="483.7" x2="206.2" y2="483.7" stroke="#2a2a2a" stroke-opacity="0.62" stroke-width="0.85" stroke-dasharray="0.9,1.3"/>
<path d="M221.7,393.3 L222,393.3 C222.05,395.53 222.22,403.08 222.3,406.7 C222.38,410.32 222.43,412.78 222.5,415 C222.57,417.22 222.45,418.1 222.7,420 C222.95,421.9 223.47,424.27 224,426.4 C224.53,428.53 225.25,430.67 225.9,432.8 C226.55,434.93 227.15,437.07 227.9,439.2 C228.65,441.33 229.33,443.45 230.4,445.6 C231.47,447.75 233.02,449.95 234.3,452.1 C235.58,454.25 237.03,456.37 238.1,458.5 C239.17,460.63 240.05,462.77 240.7,464.9 C241.35,467.03 242.12,469.17 242,471.3 C241.88,473.43 241.08,475.57 240,477.7 C238.92,479.83 236.98,481.97 235.5,484.1 C234.02,486.23 232.48,488.37 231.1,490.5 C229.72,492.63 228.48,494.77 227.2,496.9 C225.92,499.03 224.3,501.37 223.4,503.3 C222.5,505.23 222.08,507.52 221.8,508.5 C221.52,509.48 221.72,509.08 221.7,509.2 L221.7,509.2 Z" fill="#70c789"/>
<path d="M222,393.3 C222.05,395.53 222.22,403.08 222.3,406.7 C222.38,410.32 222.43,412.78 222.5,415 C222.57,417.22 222.45,418.1 222.7,420 C222.95,421.9 223.47,424.27 224,426.4 C224.53,428.53 225.25,430.67 225.9,432.8 C226.55,434.93 227.15,437.07 227.9,439.2 C228.65,441.33 229.33,443.45 230.4,445.6 C231.47,447.75 233.02,449.95 234.3,452.1 C235.58,454.25 237.03,456.37 238.1,458.5 C239.17,460.63 240.05,462.77 240.7,464.9 C241.35,467.03 242.12,469.17 242,471.3 C241.88,473.43 241.08,475.57 240,477.7 C238.92,479.83 236.98,481.97 235.5,484.1 C234.02,486.23 232.48,488.37 231.1,490.5 C229.72,492.63 228.48,494.77 227.2,496.9 C225.92,499.03 224.3,501.37 223.4,503.3 C222.5,505.23 222.08,507.52 221.8,508.5 C221.52,509.48 221.72,509.08 221.7,509.2" fill="none" stroke="#555555" stroke-width="0.85" stroke-linejoin="round"/>
<line x1="221.7" y1="451.4" x2="234.9" y2="451.4" stroke="#2a2a2a" stroke-opacity="0.62" stroke-width="0.85" stroke-dasharray="0.9,1.3"/>
<line x1="221.7" y1="466.8" x2="241.2" y2="466.8" stroke="#2a2a2a" stroke-opacity="0.62" stroke-width="0.85" stroke-dasharray="2.4,1.8"/>
<line x1="221.7" y1="479.4" x2="239.2" y2="479.4" stroke="#2a2a2a" stroke-opacity="0.62" stroke-width="0.85" stroke-dasharray="0.9,1.3"/>
<line x1="221.7" y1="392.4" x2="221.7" y2="509.3" stroke="#666666" stroke-width="1"/>
<path d="M314.2,415 L314.2,415 C314.12,417.43 313.85,425.57 313.7,429.6 C313.55,433.63 313.35,436 313.3,439.2 C313.25,442.4 313.4,445.58 313.4,448.8 C313.4,452.02 313.42,456.1 313.3,458.5 C313.18,460.9 313.38,461.53 312.7,463.2 C312.02,464.87 310.53,466.78 309.2,468.5 C307.87,470.22 306.12,471.97 304.7,473.5 C303.28,475.03 302.03,476.55 300.7,477.7 C299.37,478.85 298.53,478.98 296.7,480.4 C294.87,481.82 290.57,484.67 289.7,486.2 C288.83,487.73 290.33,488.27 291.5,489.6 C292.67,490.93 295.93,492.85 296.7,494.2 C297.47,495.55 296.3,496.53 296.1,497.7 C295.9,498.87 295.02,500.05 295.5,501.2 C295.98,502.35 297.27,503.45 299,504.6 C300.73,505.75 303.98,507.3 305.9,508.1 C307.82,508.9 309.73,509.18 310.5,509.4 L314.2,509.4 Z" fill="#6186d0"/>
<path d="M314.2,415 C314.12,417.43 313.85,425.57 313.7,429.6 C313.55,433.63 313.35,436 313.3,439.2 C313.25,442.4 313.4,445.58 313.4,448.8 C313.4,452.02 313.42,456.1 313.3,458.5 C313.18,460.9 313.38,461.53 312.7,463.2 C312.02,464.87 310.53,466.78 309.2,468.5 C307.87,470.22 306.12,471.97 304.7,473.5 C303.28,475.03 302.03,476.55 300.7,477.7 C299.37,478.85 298.53,478.98 296.7,480.4 C294.87,481.82 290.57,484.67 289.7,486.2 C288.83,487.73 290.33,488.27 291.5,489.6 C292.67,490.93 295.93,492.85 296.7,494.2 C297.47,495.55 296.3,496.53 296.1,497.7 C295.9,498.87 295.02,500.05 295.5,501.2 C295.98,502.35 297.27,503.45 299,504.6 C300.73,505.75 303.98,507.3 305.9,508.1 C307.82,508.9 309.73,509.18 310.5,509.4" fill="none" stroke="#555555" stroke-width="0.85" stroke-linejoin="round"/>
<line x1="314.2" y1="487.1" x2="290.2" y2="487.1" stroke="#2a2a2a" stroke-opacity="0.62" stroke-width="0.85" stroke-dasharray="0.9,1.3"/>
<line x1="314.2" y1="500.2" x2="295.5" y2="500.2" stroke="#2a2a2a" stroke-opacity="0.62" stroke-width="0.85" stroke-dasharray="0.9,1.3"/>
<path d="M314.2,395 L314.4,395 C314.42,396.95 314.47,403.53 314.5,406.7 C314.53,409.87 314.57,411.78 314.6,414 C314.63,416.22 314.6,417.4 314.7,420 C314.8,422.6 314.97,427.2 315.2,429.6 C315.43,432 315.62,432.67 316.1,434.4 C316.58,436.13 317.63,438.23 318.1,440 C318.57,441.77 318.67,443.08 318.9,445 C319.13,446.92 319.28,449.45 319.5,451.5 C319.72,453.55 319.98,455.37 320.2,457.3 C320.42,459.23 320.45,461.18 320.8,463.1 C321.15,465.02 321.85,466.88 322.3,468.8 C322.75,470.72 323.25,471.7 323.5,474.6 C323.75,477.5 323.72,483.32 323.8,486.2 C323.88,489.08 323.33,490.37 324,491.9 C324.67,493.43 326.52,494.33 327.8,495.4 C329.08,496.47 330.47,497.33 331.7,498.3 C332.93,499.27 335.28,500.33 335.2,501.2 C335.12,502.07 332.43,502.73 331.2,503.5 C329.97,504.27 330.1,504.93 327.8,505.8 C325.5,506.67 319.58,508.1 317.4,508.7 C315.22,509.3 315.15,509.28 314.7,509.4 L314.2,509.4 Z" fill="#70c789"/>
<path d="M314.4,395 C314.42,396.95 314.47,403.53 314.5,406.7 C314.53,409.87 314.57,411.78 314.6,414 C314.63,416.22 314.6,417.4 314.7,420 C314.8,422.6 314.97,427.2 315.2,429.6 C315.43,432 315.62,432.67 316.1,434.4 C316.58,436.13 317.63,438.23 318.1,440 C318.57,441.77 318.67,443.08 318.9,445 C319.13,446.92 319.28,449.45 319.5,451.5 C319.72,453.55 319.98,455.37 320.2,457.3 C320.42,459.23 320.45,461.18 320.8,463.1 C321.15,465.02 321.85,466.88 322.3,468.8 C322.75,470.72 323.25,471.7 323.5,474.6 C323.75,477.5 323.72,483.32 323.8,486.2 C323.88,489.08 323.33,490.37 324,491.9 C324.67,493.43 326.52,494.33 327.8,495.4 C329.08,496.47 330.47,497.33 331.7,498.3 C332.93,499.27 335.28,500.33 335.2,501.2 C335.12,502.07 332.43,502.73 331.2,503.5 C329.97,504.27 330.1,504.93 327.8,505.8 C325.5,506.67 319.58,508.1 317.4,508.7 C315.22,509.3 315.15,509.28 314.7,509.4" fill="none" stroke="#555555" stroke-width="0.85" stroke-linejoin="round"/>
<line x1="314.2" y1="461.3" x2="320.7" y2="461.3" stroke="#2a2a2a" stroke-opacity="0.62" stroke-width="0.85" stroke-dasharray="0.9,1.3"/>
<line x1="314.2" y1="481.3" x2="323.8" y2="481.3" stroke="#2a2a2a" stroke-opacity="0.62" stroke-width="0.85" stroke-dasharray="2.4,1.8"/>
<line x1="314.2" y1="500" x2="334.2" y2="500" stroke="#2a2a2a" stroke-opacity="0.62" stroke-width="0.85" stroke-dasharray="0.9,1.3"/>
<line x1="314.2" y1="392.3" x2="314.2" y2="509.5" stroke="#666666" stroke-width="1"/>
<path d="M398.1,415 L398.1,415 C398,416.53 397.78,420.3 397.5,424.2 C397.22,428.1 396.7,434.85 396.4,438.4 C396.1,441.95 396.17,443.13 395.7,445.5 C395.23,447.87 394.55,450.47 393.6,452.6 C392.65,454.73 391.32,456.4 390,458.3 C388.68,460.2 387.23,462.1 385.7,464 C384.17,465.9 382.45,467.82 380.8,469.7 C379.15,471.58 377.03,473.65 375.8,475.3 C374.57,476.95 373.8,478.17 373.4,479.6 C373,481.03 373.23,482.25 373.4,483.9 C373.57,485.55 374,487.62 374.4,489.5 C374.8,491.38 375.33,493.3 375.8,495.2 C376.27,497.1 376.65,499 377.2,500.9 C377.75,502.8 378.53,505.2 379.1,506.6 C379.67,508 380.35,508.85 380.6,509.3 L398.1,509.3 Z" fill="#6186d0"/>
<path d="M398.1,415 C398,416.53 397.78,420.3 397.5,424.2 C397.22,428.1 396.7,434.85 396.4,438.4 C396.1,441.95 396.17,443.13 395.7,445.5 C395.23,447.87 394.55,450.47 393.6,452.6 C392.65,454.73 391.32,456.4 390,458.3 C388.68,460.2 387.23,462.1 385.7,464 C384.17,465.9 382.45,467.82 380.8,469.7 C379.15,471.58 377.03,473.65 375.8,475.3 C374.57,476.95 373.8,478.17 373.4,479.6 C373,481.03 373.23,482.25 373.4,483.9 C373.57,485.55 374,487.62 374.4,489.5 C374.8,491.38 375.33,493.3 375.8,495.2 C376.27,497.1 376.65,499 377.2,500.9 C377.75,502.8 378.53,505.2 379.1,506.6 C379.67,508 380.35,508.85 380.6,509.3" fill="none" stroke="#555555" stroke-width="0.85" stroke-linejoin="round"/>
<line x1="398.1" y1="478.2" x2="374.1" y2="478.2" stroke="#2a2a2a" stroke-opacity="0.62" stroke-width="0.85" stroke-dasharray="0.9,1.3"/>
<line x1="398.1" y1="487.4" x2="374.1" y2="487.4" stroke="#2a2a2a" stroke-opacity="0.62" stroke-width="0.85" stroke-dasharray="2.4,1.8"/>
<line x1="398.1" y1="498.4" x2="376.6" y2="498.4" stroke="#2a2a2a" stroke-opacity="0.62" stroke-width="0.85" stroke-dasharray="0.9,1.3"/>
<path d="M398.1,398 L398.1,398 C398.17,399 398.38,402 398.5,404 C398.62,406 398.63,407.82 398.8,410 C398.97,412.18 399.23,414.73 399.5,417.1 C399.77,419.47 400.02,421.83 400.4,424.2 C400.78,426.57 401.23,428.93 401.8,431.3 C402.37,433.67 403.05,436.03 403.8,438.4 C404.55,440.77 405.28,443.13 406.3,445.5 C407.32,447.87 408.67,450.47 409.9,452.6 C411.13,454.73 412.75,456.4 413.7,458.3 C414.65,460.2 415.22,462.1 415.6,464 C415.98,465.9 416,467.82 416,469.7 C416,471.58 415.78,473.42 415.6,475.3 C415.42,477.18 415.27,478.87 414.9,481 C414.53,483.13 413.88,485.73 413.4,488.1 C412.92,490.47 412.47,493.07 412,495.2 C411.53,497.33 410.83,499.47 410.6,500.9 C410.37,502.33 410.37,502.85 410.6,503.8 C410.83,504.75 412,505.68 412,506.6 C412,507.52 410.83,508.85 410.6,509.3 L398.1,509.3 Z" fill="#70c789"/>
<path d="M398.1,398 C398.17,399 398.38,402 398.5,404 C398.62,406 398.63,407.82 398.8,410 C398.97,412.18 399.23,414.73 399.5,417.1 C399.77,419.47 400.02,421.83 400.4,424.2 C400.78,426.57 401.23,428.93 401.8,431.3 C402.37,433.67 403.05,436.03 403.8,438.4 C404.55,440.77 405.28,443.13 406.3,445.5 C407.32,447.87 408.67,450.47 409.9,452.6 C411.13,454.73 412.75,456.4 413.7,458.3 C414.65,460.2 415.22,462.1 415.6,464 C415.98,465.9 416,467.82 416,469.7 C416,471.58 415.78,473.42 415.6,475.3 C415.42,477.18 415.27,478.87 414.9,481 C414.53,483.13 413.88,485.73 413.4,488.1 C412.92,490.47 412.47,493.07 412,495.2 C411.53,497.33 410.83,499.47 410.6,500.9 C410.37,502.33 410.37,502.85 410.6,503.8 C410.83,504.75 412,505.68 412,506.6 C412,507.52 410.83,508.85 410.6,509.3" fill="none" stroke="#555555" stroke-width="0.85" stroke-linejoin="round"/>
<line x1="398.1" y1="458.7" x2="413.7" y2="458.7" stroke="#2a2a2a" stroke-opacity="0.62" stroke-width="0.85" stroke-dasharray="0.9,1.3"/>
<line x1="398.1" y1="474.6" x2="415.6" y2="474.6" stroke="#2a2a2a" stroke-opacity="0.62" stroke-width="0.85" stroke-dasharray="2.4,1.8"/>
<line x1="398.1" y1="491.7" x2="412.7" y2="491.7" stroke="#2a2a2a" stroke-opacity="0.62" stroke-width="0.85" stroke-dasharray="0.9,1.3"/>
<line x1="398.1" y1="392.3" x2="398.1" y2="509.3" stroke="#666666" stroke-width="1"/>
<path d="M485.7,428.44 L485.7,428.44 C485.53,429.56 485.2,433.18 484.7,435.13 C484.2,437.08 483.72,438.47 482.69,440.14 C481.66,441.81 480.18,443.48 478.51,445.16 C476.84,446.83 474.61,448.5 472.66,450.17 C470.71,451.84 468.43,453.51 466.81,455.18 C465.2,456.86 463.89,458.53 462.97,460.2 C462.05,461.87 461.69,463.54 461.3,465.21 C460.91,466.88 460.68,468.56 460.63,470.23 C460.57,471.9 460.49,473.57 460.96,475.24 C461.44,476.91 462.36,478.58 463.47,480.26 C464.58,481.93 466.26,483.6 467.65,485.27 C469.04,486.94 470.43,488.61 471.83,490.28 C473.22,491.96 474.61,493.63 476.01,495.3 C477.4,496.97 478.93,498.64 480.18,500.31 C481.44,501.98 482.69,503.93 483.53,505.33 C484.36,506.72 484.84,507.89 485.2,508.67 C485.56,509.45 485.62,509.78 485.7,510.01 L485.7,510.01 Z" fill="#6186d0"/>
<path d="M485.7,428.44 C485.53,429.56 485.2,433.18 484.7,435.13 C484.2,437.08 483.72,438.47 482.69,440.14 C481.66,441.81 480.18,443.48 478.51,445.16 C476.84,446.83 474.61,448.5 472.66,450.17 C470.71,451.84 468.43,453.51 466.81,455.18 C465.2,456.86 463.89,458.53 462.97,460.2 C462.05,461.87 461.69,463.54 461.3,465.21 C460.91,466.88 460.68,468.56 460.63,470.23 C460.57,471.9 460.49,473.57 460.96,475.24 C461.44,476.91 462.36,478.58 463.47,480.26 C464.58,481.93 466.26,483.6 467.65,485.27 C469.04,486.94 470.43,488.61 471.83,490.28 C473.22,491.96 474.61,493.63 476.01,495.3 C477.4,496.97 478.93,498.64 480.18,500.31 C481.44,501.98 482.69,503.93 483.53,505.33 C484.36,506.72 484.84,507.89 485.2,508.67 C485.56,509.45 485.62,509.78 485.7,510.01" fill="none" stroke="#555555" stroke-width="0.85" stroke-linejoin="round"/>
<line x1="485.7" y1="460.8" x2="464.2" y2="460.8" stroke="#2a2a2a" stroke-opacity="0.62" stroke-width="0.85" stroke-dasharray="0.9,1.3"/>
<line x1="485.7" y1="472.3" x2="460.7" y2="472.3" stroke="#2a2a2a" stroke-opacity="0.62" stroke-width="0.85" stroke-dasharray="2.4,1.8"/>
<line x1="485.7" y1="482.6" x2="468.2" y2="482.6" stroke="#2a2a2a" stroke-opacity="0.62" stroke-width="0.85" stroke-dasharray="0.9,1.3"/>
<path d="M485.7,393.3 L485.7,393.3 C485.78,395.53 486.07,403.08 486.2,406.7 C486.33,410.32 486.42,412.78 486.5,415 C486.58,417.22 486.55,418.1 486.7,420 C486.85,421.9 487.08,424.27 487.4,426.4 C487.72,428.53 488.07,430.67 488.6,432.8 C489.13,434.93 489.73,437.07 490.6,439.2 C491.47,441.33 492.52,443.45 493.8,445.6 C495.08,447.75 496.8,449.95 498.3,452.1 C499.8,454.25 501.42,456.37 502.8,458.5 C504.18,460.63 505.53,462.77 506.6,464.9 C507.67,467.03 508.88,469.6 509.2,471.3 C509.52,473 508.93,473.6 508.5,475.1 C508.07,476.6 507.45,478.8 506.6,480.3 C505.75,481.8 504.78,482.4 503.4,484.1 C502.02,485.8 500.02,488.37 498.3,490.5 C496.58,492.63 494.72,494.77 493.1,496.9 C491.48,499.03 489.77,501.37 488.6,503.3 C487.43,505.23 486.58,507.55 486.1,508.5 C485.62,509.45 485.77,508.92 485.7,509 L485.7,509 Z" fill="#70c789"/>
<path d="M485.7,393.3 C485.78,395.53 486.07,403.08 486.2,406.7 C486.33,410.32 486.42,412.78 486.5,415 C486.58,417.22 486.55,418.1 486.7,420 C486.85,421.9 487.08,424.27 487.4,426.4 C487.72,428.53 488.07,430.67 488.6,432.8 C489.13,434.93 489.73,437.07 490.6,439.2 C491.47,441.33 492.52,443.45 493.8,445.6 C495.08,447.75 496.8,449.95 498.3,452.1 C499.8,454.25 501.42,456.37 502.8,458.5 C504.18,460.63 505.53,462.77 506.6,464.9 C507.67,467.03 508.88,469.6 509.2,471.3 C509.52,473 508.93,473.6 508.5,475.1 C508.07,476.6 507.45,478.8 506.6,480.3 C505.75,481.8 504.78,482.4 503.4,484.1 C502.02,485.8 500.02,488.37 498.3,490.5 C496.58,492.63 494.72,494.77 493.1,496.9 C491.48,499.03 489.77,501.37 488.6,503.3 C487.43,505.23 486.58,507.55 486.1,508.5 C485.62,509.45 485.77,508.92 485.7,509" fill="none" stroke="#555555" stroke-width="0.85" stroke-linejoin="round"/>
<line x1="485.7" y1="456.3" x2="499.7" y2="456.3" stroke="#2a2a2a" stroke-opacity="0.62" stroke-width="0.85" stroke-dasharray="0.9,1.3"/>
<line x1="485.7" y1="469.1" x2="508.5" y2="469.1" stroke="#2a2a2a" stroke-opacity="0.62" stroke-width="0.85" stroke-dasharray="2.4,1.8"/>
<line x1="485.7" y1="480" x2="506.7" y2="480" stroke="#2a2a2a" stroke-opacity="0.62" stroke-width="0.85" stroke-dasharray="0.9,1.3"/>
<line x1="485.7" y1="392.51" x2="485.7" y2="509.3" stroke="#666666" stroke-width="1"/>
<path d="M66.5,588.43 L66.5,588.43 C66.36,589.8 66.09,593.91 65.68,596.65 C65.27,599.39 64.67,602.4 64.04,604.86 C63.41,607.33 62.72,609.52 61.9,611.43 C61.08,613.35 60.53,614.72 59.11,616.36 C57.68,618.01 55.27,619.92 53.36,621.29 C51.44,622.66 49.52,623.48 47.6,624.58 C45.69,625.68 43.41,626.77 41.85,627.87 C40.29,628.96 39.06,630.06 38.24,631.15 C37.42,632.25 37.01,633.34 36.92,634.44 C36.84,635.53 37.2,636.63 37.75,637.72 C38.29,638.82 39.25,639.92 40.21,641.01 C41.17,642.11 42.26,643.2 43.5,644.3 C44.73,645.39 46.1,646.49 47.6,647.58 C49.11,648.68 50.75,649.77 52.53,650.87 C54.31,651.96 56.5,653.06 58.28,654.16 C60.06,655.25 61.98,656.21 63.21,657.44 C64.45,658.67 65.19,659.91 65.68,661.55 C66.17,663.19 66.03,665.25 66.17,667.3 C66.31,669.35 66.45,672.78 66.5,673.87 L66.5,673.87 Z" fill="#6186d0"/>
<path d="M66.5,588.43 C66.36,589.8 66.09,593.91 65.68,596.65 C65.27,599.39 64.67,602.4 64.04,604.86 C63.41,607.33 62.72,609.52 61.9,611.43 C61.08,613.35 60.53,614.72 59.11,616.36 C57.68,618.01 55.27,619.92 53.36,621.29 C51.44,622.66 49.52,623.48 47.6,624.58 C45.69,625.68 43.41,626.77 41.85,627.87 C40.29,628.96 39.06,630.06 38.24,631.15 C37.42,632.25 37.01,633.34 36.92,634.44 C36.84,635.53 37.2,636.63 37.75,637.72 C38.29,638.82 39.25,639.92 40.21,641.01 C41.17,642.11 42.26,643.2 43.5,644.3 C44.73,645.39 46.1,646.49 47.6,647.58 C49.11,648.68 50.75,649.77 52.53,650.87 C54.31,651.96 56.5,653.06 58.28,654.16 C60.06,655.25 61.98,656.21 63.21,657.44 C64.45,658.67 65.19,659.91 65.68,661.55 C66.17,663.19 66.03,665.25 66.17,667.3 C66.31,669.35 66.45,672.78 66.5,673.87" fill="none" stroke="#555555" stroke-width="0.85" stroke-linejoin="round"/>
<line x1="66.5" y1="629.51" x2="40.21" y2="629.51" stroke="#2a2a2a" stroke-opacity="0.62" stroke-width="0.85" stroke-dasharray="0.9,1.3"/>
<line x1="66.5" y1="635.26" x2="37.25" y2="635.26" stroke="#2a2a2a" stroke-opacity="0.62" stroke-width="0.85" stroke-dasharray="2.4,1.8"/>
<line x1="66.5" y1="642.65" x2="40.54" y2="642.65" stroke="#2a2a2a" stroke-opacity="0.62" stroke-width="0.85" stroke-dasharray="0.9,1.3"/>
<path d="M66.5,588.4 L66.5,588.4 C66.73,589.77 67.3,593.85 67.9,596.6 C68.5,599.35 69.22,602.08 70.1,604.9 C70.98,607.72 71.78,610.95 73.2,613.5 C74.62,616.05 76.8,617.97 78.6,620.2 C80.4,622.43 82.77,624.67 84,626.9 C85.23,629.13 85.78,631.35 86,633.6 C86.22,635.85 85.97,638.15 85.3,640.4 C84.63,642.65 83.23,644.87 82,647.1 C80.77,649.33 79.48,651.55 77.9,653.8 C76.32,656.05 74.12,658.35 72.5,660.6 C70.88,662.85 69.12,665.57 68.2,667.3 C67.28,669.03 67.25,669.38 67,671 C66.75,672.62 66.78,674.6 66.7,677 C66.62,679.4 66.53,684 66.5,685.4 L66.5,685.4 Z" fill="#70c789"/>
<path d="M66.5,588.4 C66.73,589.77 67.3,593.85 67.9,596.6 C68.5,599.35 69.22,602.08 70.1,604.9 C70.98,607.72 71.78,610.95 73.2,613.5 C74.62,616.05 76.8,617.97 78.6,620.2 C80.4,622.43 82.77,624.67 84,626.9 C85.23,629.13 85.78,631.35 86,633.6 C86.22,635.85 85.97,638.15 85.3,640.4 C84.63,642.65 83.23,644.87 82,647.1 C80.77,649.33 79.48,651.55 77.9,653.8 C76.32,656.05 74.12,658.35 72.5,660.6 C70.88,662.85 69.12,665.57 68.2,667.3 C67.28,669.03 67.25,669.38 67,671 C66.75,672.62 66.78,674.6 66.7,677 C66.62,679.4 66.53,684 66.5,685.4" fill="none" stroke="#555555" stroke-width="0.85" stroke-linejoin="round"/>
<line x1="66.5" y1="624.25" x2="81.29" y2="624.25" stroke="#2a2a2a" stroke-opacity="0.62" stroke-width="0.85" stroke-dasharray="0.9,1.3"/>
<line x1="66.5" y1="635.75" x2="86.22" y2="635.75" stroke="#2a2a2a" stroke-opacity="0.62" stroke-width="0.85" stroke-dasharray="2.4,1.8"/>
<line x1="66.5" y1="647.58" x2="81.29" y2="647.58" stroke="#2a2a2a" stroke-opacity="0.62" stroke-width="0.85" stroke-dasharray="0.9,1.3"/>
<line x1="66.5" y1="573.2" x2="66.5" y2="685.4" stroke="#666666" stroke-width="1"/>
<path d="M140.8,591.72 L140.8,591.72 C140.61,593.09 140.12,597.47 139.65,599.93 C139.18,602.4 138.69,604.59 138.01,606.51 C137.32,608.42 136.77,609.79 135.54,611.43 C134.31,613.08 132.53,614.72 130.61,616.36 C128.7,618.01 126.23,619.65 124.04,621.29 C121.85,622.94 119.33,624.58 117.47,626.22 C115.61,627.87 113.91,629.78 112.87,631.15 C111.83,632.52 111.33,633.34 111.22,634.44 C111.11,635.53 111.44,636.63 112.21,637.72 C112.98,638.82 114.4,639.92 115.82,641.01 C117.25,642.11 119.11,643.2 120.75,644.3 C122.4,645.39 124.04,646.49 125.68,647.58 C127.33,648.68 129.11,649.77 130.61,650.87 C132.12,651.96 133.49,653.06 134.72,654.16 C135.95,655.25 137.1,656.21 138.01,657.44 C138.91,658.67 139.68,659.91 140.14,661.55 C140.61,663.19 140.69,666.34 140.8,667.3 L140.8,667.3 Z" fill="#6186d0"/>
<path d="M140.8,591.72 C140.61,593.09 140.12,597.47 139.65,599.93 C139.18,602.4 138.69,604.59 138.01,606.51 C137.32,608.42 136.77,609.79 135.54,611.43 C134.31,613.08 132.53,614.72 130.61,616.36 C128.7,618.01 126.23,619.65 124.04,621.29 C121.85,622.94 119.33,624.58 117.47,626.22 C115.61,627.87 113.91,629.78 112.87,631.15 C111.83,632.52 111.33,633.34 111.22,634.44 C111.11,635.53 111.44,636.63 112.21,637.72 C112.98,638.82 114.4,639.92 115.82,641.01 C117.25,642.11 119.11,643.2 120.75,644.3 C122.4,645.39 124.04,646.49 125.68,647.58 C127.33,648.68 129.11,649.77 130.61,650.87 C132.12,651.96 133.49,653.06 134.72,654.16 C135.95,655.25 137.1,656.21 138.01,657.44 C138.91,658.67 139.68,659.91 140.14,661.55 C140.61,663.19 140.69,666.34 140.8,667.3" fill="none" stroke="#555555" stroke-width="0.85" stroke-linejoin="round"/>
<line x1="140.8" y1="627.87" x2="118.29" y2="627.87" stroke="#2a2a2a" stroke-opacity="0.62" stroke-width="0.85" stroke-dasharray="0.9,1.3"/>
<line x1="140.8" y1="634.77" x2="111.39" y2="634.77" stroke="#2a2a2a" stroke-opacity="0.62" stroke-width="0.85" stroke-dasharray="2.4,1.8"/>
<line x1="140.8" y1="640.68" x2="115.82" y2="640.68" stroke="#2a2a2a" stroke-opacity="0.62" stroke-width="0.85" stroke-dasharray="0.9,1.3"/>
<path d="M140.8,591.72 L140.8,591.72 C141.07,593.09 141.73,597.47 142.44,599.93 C143.16,602.4 144.09,604.31 145.07,606.51 C146.06,608.7 147.21,610.89 148.36,613.08 C149.51,615.27 150.82,617.46 151.97,619.65 C153.12,621.84 154.22,624.31 155.26,626.22 C156.3,628.14 157.45,629.51 158.22,631.15 C158.98,632.8 159.75,634.44 159.86,636.08 C159.97,637.72 159.42,639.37 158.87,641.01 C158.33,642.65 157.4,644.3 156.57,645.94 C155.75,647.58 154.85,649.23 153.94,650.87 C153.04,652.51 152.16,654.16 151.15,655.8 C150.14,657.44 148.96,659.09 147.87,660.73 C146.77,662.37 145.59,664.01 144.58,665.66 C143.57,667.3 142.42,669.22 141.79,670.59 C141.16,671.96 140.96,673.33 140.8,673.87 L140.8,673.87 Z" fill="#70c789"/>
<path d="M140.8,591.72 C141.07,593.09 141.73,597.47 142.44,599.93 C143.16,602.4 144.09,604.31 145.07,606.51 C146.06,608.7 147.21,610.89 148.36,613.08 C149.51,615.27 150.82,617.46 151.97,619.65 C153.12,621.84 154.22,624.31 155.26,626.22 C156.3,628.14 157.45,629.51 158.22,631.15 C158.98,632.8 159.75,634.44 159.86,636.08 C159.97,637.72 159.42,639.37 158.87,641.01 C158.33,642.65 157.4,644.3 156.57,645.94 C155.75,647.58 154.85,649.23 153.94,650.87 C153.04,652.51 152.16,654.16 151.15,655.8 C150.14,657.44 148.96,659.09 147.87,660.73 C146.77,662.37 145.59,664.01 144.58,665.66 C143.57,667.3 142.42,669.22 141.79,670.59 C141.16,671.96 140.96,673.33 140.8,673.87" fill="none" stroke="#555555" stroke-width="0.85" stroke-linejoin="round"/>
<line x1="140.8" y1="623.27" x2="154.27" y2="623.27" stroke="#2a2a2a" stroke-opacity="0.62" stroke-width="0.85" stroke-dasharray="0.9,1.3"/>
<line x1="140.8" y1="636.08" x2="159.86" y2="636.08" stroke="#2a2a2a" stroke-opacity="0.62" stroke-width="0.85" stroke-dasharray="2.4,1.8"/>
<line x1="140.8" y1="647.25" x2="156.08" y2="647.25" stroke="#2a2a2a" stroke-opacity="0.62" stroke-width="0.85" stroke-dasharray="0.9,1.3"/>
<line x1="140.8" y1="573.2" x2="140.8" y2="684.55" stroke="#666666" stroke-width="1"/>
<path d="M215.3,611.43 L215.3,611.43 C215.08,612.26 215.03,614.72 213.99,616.36 C212.94,618.01 211.11,619.92 209.06,621.29 C207,622.66 204.26,623.35 201.66,624.58 C199.06,625.81 195.77,627.46 193.45,628.69 C191.12,629.92 188.93,631.02 187.7,631.97 C186.46,632.93 186.05,633.62 186.05,634.44 C186.05,635.26 187.01,636.08 187.7,636.9 C188.38,637.72 189.48,638.55 190.16,639.37 C190.84,640.19 190.98,641.01 191.8,641.83 C192.63,642.65 193.45,643.34 195.09,644.3 C196.73,645.26 199.47,646.49 201.66,647.58 C203.85,648.68 206.37,649.77 208.23,650.87 C210.1,651.96 211.79,652.79 212.84,654.16 C213.88,655.53 214.07,657.44 214.48,659.09 C214.89,660.73 215.16,663.19 215.3,664.01 L215.3,664.01 Z" fill="#6186d0"/>
<path d="M215.3,611.43 C215.08,612.26 215.03,614.72 213.99,616.36 C212.94,618.01 211.11,619.92 209.06,621.29 C207,622.66 204.26,623.35 201.66,624.58 C199.06,625.81 195.77,627.46 193.45,628.69 C191.12,629.92 188.93,631.02 187.7,631.97 C186.46,632.93 186.05,633.62 186.05,634.44 C186.05,635.26 187.01,636.08 187.7,636.9 C188.38,637.72 189.48,638.55 190.16,639.37 C190.84,640.19 190.98,641.01 191.8,641.83 C192.63,642.65 193.45,643.34 195.09,644.3 C196.73,645.26 199.47,646.49 201.66,647.58 C203.85,648.68 206.37,649.77 208.23,650.87 C210.1,651.96 211.79,652.79 212.84,654.16 C213.88,655.53 214.07,657.44 214.48,659.09 C214.89,660.73 215.16,663.19 215.3,664.01" fill="none" stroke="#555555" stroke-width="0.85" stroke-linejoin="round"/>
<line x1="215.3" y1="632.47" x2="187.7" y2="632.47" stroke="#2a2a2a" stroke-opacity="0.62" stroke-width="0.85" stroke-dasharray="0.9,1.3"/>
<line x1="215.3" y1="636.08" x2="188.85" y2="636.08" stroke="#2a2a2a" stroke-opacity="0.62" stroke-width="0.85" stroke-dasharray="2.4,1.8"/>
<line x1="215.3" y1="642.65" x2="194.27" y2="642.65" stroke="#2a2a2a" stroke-opacity="0.62" stroke-width="0.85" stroke-dasharray="0.9,1.3"/>
<path d="M215.3,596.65 L215.3,596.65 C215.49,598.02 215.77,602.12 216.45,604.86 C217.13,607.6 218.37,610.34 219.41,613.08 C220.45,615.82 221.6,618.55 222.69,621.29 C223.79,624.03 224.88,627.04 225.98,629.51 C227.08,631.97 228.44,634.44 229.27,636.08 C230.09,637.72 230.72,638 230.91,639.37 C231.1,640.74 230.91,642.65 230.42,644.3 C229.92,645.94 228.86,647.58 227.95,649.23 C227.05,650.87 225.95,652.51 224.99,654.16 C224.04,655.8 223.13,657.44 222.2,659.09 C221.27,660.73 220.31,662.37 219.41,664.01 C218.5,665.66 217.46,667.57 216.78,668.94 C216.09,670.31 215.55,671.68 215.3,672.23 L215.3,672.23 Z" fill="#70c789"/>
<path d="M215.3,596.65 C215.49,598.02 215.77,602.12 216.45,604.86 C217.13,607.6 218.37,610.34 219.41,613.08 C220.45,615.82 221.6,618.55 222.69,621.29 C223.79,624.03 224.88,627.04 225.98,629.51 C227.08,631.97 228.44,634.44 229.27,636.08 C230.09,637.72 230.72,638 230.91,639.37 C231.1,640.74 230.91,642.65 230.42,644.3 C229.92,645.94 228.86,647.58 227.95,649.23 C227.05,650.87 225.95,652.51 224.99,654.16 C224.04,655.8 223.13,657.44 222.2,659.09 C221.27,660.73 220.31,662.37 219.41,664.01 C218.5,665.66 217.46,667.57 216.78,668.94 C216.09,670.31 215.55,671.68 215.3,672.23" fill="none" stroke="#555555" stroke-width="0.85" stroke-linejoin="round"/>
<line x1="215.3" y1="628.69" x2="225.49" y2="628.69" stroke="#2a2a2a" stroke-opacity="0.62" stroke-width="0.85" stroke-dasharray="0.9,1.3"/>
<line x1="215.3" y1="640.68" x2="230.75" y2="640.68" stroke="#2a2a2a" stroke-opacity="0.62" stroke-width="0.85" stroke-dasharray="2.4,1.8"/>
<line x1="215.3" y1="650.05" x2="227.13" y2="650.05" stroke="#2a2a2a" stroke-opacity="0.62" stroke-width="0.85" stroke-dasharray="0.9,1.3"/>
<line x1="215.3" y1="573.2" x2="215.3" y2="685.37" stroke="#666666" stroke-width="1"/>
<path d="M313.8,603.5 L313.8,603.5 C313.67,603.97 313.37,605.35 313,606.3 C312.63,607.25 312.48,607.92 311.6,609.2 C310.72,610.48 309.07,612.4 307.7,614 C306.33,615.6 304.75,617.18 303.4,618.8 C302.05,620.42 300.63,622.08 299.6,623.7 C298.57,625.32 297.72,626.9 297.2,628.5 C296.68,630.1 296.48,631.7 296.5,633.3 C296.52,634.9 296.92,636.68 297.3,638.1 C297.68,639.52 298.4,640.23 298.8,641.8 C299.2,643.37 299.5,645.58 299.7,647.5 C299.9,649.42 300.05,651.37 300,653.3 C299.95,655.23 299.88,657.37 299.4,659.1 C298.92,660.83 298.07,662.17 297.1,663.7 C296.13,665.23 294.37,666.95 293.6,668.3 C292.83,669.65 292.3,670.65 292.5,671.8 C292.7,672.95 293.75,674.05 294.8,675.2 C295.85,676.35 297.47,677.53 298.8,678.7 C300.13,679.87 301.45,681.05 302.8,682.2 C304.15,683.35 305.65,684.68 306.9,685.6 C308.15,686.52 309.73,687.35 310.3,687.7 L313.8,687.7 Z" fill="#6186d0"/>
<path d="M313.8,603.5 C313.67,603.97 313.37,605.35 313,606.3 C312.63,607.25 312.48,607.92 311.6,609.2 C310.72,610.48 309.07,612.4 307.7,614 C306.33,615.6 304.75,617.18 303.4,618.8 C302.05,620.42 300.63,622.08 299.6,623.7 C298.57,625.32 297.72,626.9 297.2,628.5 C296.68,630.1 296.48,631.7 296.5,633.3 C296.52,634.9 296.92,636.68 297.3,638.1 C297.68,639.52 298.4,640.23 298.8,641.8 C299.2,643.37 299.5,645.58 299.7,647.5 C299.9,649.42 300.05,651.37 300,653.3 C299.95,655.23 299.88,657.37 299.4,659.1 C298.92,660.83 298.07,662.17 297.1,663.7 C296.13,665.23 294.37,666.95 293.6,668.3 C292.83,669.65 292.3,670.65 292.5,671.8 C292.7,672.95 293.75,674.05 294.8,675.2 C295.85,676.35 297.47,677.53 298.8,678.7 C300.13,679.87 301.45,681.05 302.8,682.2 C304.15,683.35 305.65,684.68 306.9,685.6 C308.15,686.52 309.73,687.35 310.3,687.7" fill="none" stroke="#555555" stroke-width="0.85" stroke-linejoin="round"/>
<line x1="313.8" y1="633.3" x2="296.5" y2="633.3" stroke="#2a2a2a" stroke-opacity="0.62" stroke-width="0.85" stroke-dasharray="0.9,1.3"/>
<line x1="313.8" y1="652.4" x2="300" y2="652.4" stroke="#2a2a2a" stroke-opacity="0.62" stroke-width="0.85" stroke-dasharray="2.4,1.8"/>
<line x1="313.8" y1="674.4" x2="294.3" y2="674.4" stroke="#2a2a2a" stroke-opacity="0.62" stroke-width="0.85" stroke-dasharray="0.9,1.3"/>
<path d="M313.8,570.5 L314.1,570.5 C314.18,572.08 314.38,576.75 314.6,580 C314.82,583.25 315.15,587.53 315.4,590 C315.65,592.47 315.85,593.2 316.1,594.8 C316.35,596.4 316.62,598 316.9,599.6 C317.18,601.2 317.4,602.8 317.8,604.4 C318.2,606 318.82,607.6 319.3,609.2 C319.78,610.8 320.22,612.4 320.7,614 C321.18,615.6 321.72,617.18 322.2,618.8 C322.68,620.42 323.05,622.08 323.6,623.7 C324.15,625.32 324.85,626.9 325.5,628.5 C326.15,630.1 326.95,631.97 327.5,633.3 C328.05,634.63 328.38,635.47 328.8,636.5 C329.22,637.53 329.65,638.43 330,639.5 C330.35,640.57 330.72,641.57 330.9,642.9 C331.08,644.23 331.17,645.95 331.1,647.5 C331.03,649.05 330.88,650.65 330.5,652.2 C330.12,653.75 329.47,655.27 328.8,656.8 C328.13,658.33 327.08,660.07 326.5,661.4 C325.92,662.73 325.12,663.75 325.3,664.8 C325.48,665.85 326.25,666.73 327.6,667.7 C328.95,668.67 331.75,669.73 333.4,670.6 C335.05,671.47 336.63,672.13 337.5,672.9 C338.37,673.67 339.47,674.43 338.6,675.2 C337.73,675.97 334.7,676.73 332.3,677.5 C329.9,678.27 327,679.02 324.2,679.8 C321.4,680.58 317.23,681.7 315.5,682.2 C313.77,682.7 314.08,682.7 313.8,682.8 L313.8,682.8 Z" fill="#70c789"/>
<path d="M314.1,570.5 C314.18,572.08 314.38,576.75 314.6,580 C314.82,583.25 315.15,587.53 315.4,590 C315.65,592.47 315.85,593.2 316.1,594.8 C316.35,596.4 316.62,598 316.9,599.6 C317.18,601.2 317.4,602.8 317.8,604.4 C318.2,606 318.82,607.6 319.3,609.2 C319.78,610.8 320.22,612.4 320.7,614 C321.18,615.6 321.72,617.18 322.2,618.8 C322.68,620.42 323.05,622.08 323.6,623.7 C324.15,625.32 324.85,626.9 325.5,628.5 C326.15,630.1 326.95,631.97 327.5,633.3 C328.05,634.63 328.38,635.47 328.8,636.5 C329.22,637.53 329.65,638.43 330,639.5 C330.35,640.57 330.72,641.57 330.9,642.9 C331.08,644.23 331.17,645.95 331.1,647.5 C331.03,649.05 330.88,650.65 330.5,652.2 C330.12,653.75 329.47,655.27 328.8,656.8 C328.13,658.33 327.08,660.07 326.5,661.4 C325.92,662.73 325.12,663.75 325.3,664.8 C325.48,665.85 326.25,666.73 327.6,667.7 C328.95,668.67 331.75,669.73 333.4,670.6 C335.05,671.47 336.63,672.13 337.5,672.9 C338.37,673.67 339.47,674.43 338.6,675.2 C337.73,675.97 334.7,676.73 332.3,677.5 C329.9,678.27 327,679.02 324.2,679.8 C321.4,680.58 317.23,681.7 315.5,682.2 C313.77,682.7 314.08,682.7 313.8,682.8" fill="none" stroke="#555555" stroke-width="0.85" stroke-linejoin="round"/>
<line x1="313.8" y1="629.6" x2="325.8" y2="629.6" stroke="#2a2a2a" stroke-opacity="0.62" stroke-width="0.85" stroke-dasharray="0.9,1.3"/>
<line x1="313.8" y1="647.9" x2="331.1" y2="647.9" stroke="#2a2a2a" stroke-opacity="0.62" stroke-width="0.85" stroke-dasharray="2.4,1.8"/>
<line x1="313.8" y1="665.4" x2="325.3" y2="665.4" stroke="#2a2a2a" stroke-opacity="0.62" stroke-width="0.85" stroke-dasharray="0.9,1.3"/>
<line x1="313.8" y1="570.2" x2="313.8" y2="687.7" stroke="#666666" stroke-width="1"/>
<path d="M399.6,628 L399.6,628 C399.5,628.33 399.48,629.08 399,630 C398.52,630.92 397.57,632.35 396.7,633.5 C395.83,634.65 394.67,635.75 393.8,636.9 C392.93,638.05 392.13,639.25 391.5,640.4 C390.87,641.55 390.32,642.65 390,643.8 C389.68,644.95 389.67,646.13 389.6,647.3 C389.53,648.47 389.67,649.65 389.6,650.8 C389.53,651.95 389.37,653.05 389.2,654.2 C389.03,655.35 388.88,656.53 388.6,657.7 C388.32,658.87 388.07,660.05 387.5,661.2 C386.93,662.35 386.27,663.45 385.2,664.6 C384.13,665.75 382.45,666.95 381.1,668.1 C379.75,669.25 378.15,670.45 377.1,671.5 C376.05,672.55 375.08,673.62 374.8,674.4 C374.52,675.18 374.63,675.52 375.4,676.2 C376.17,676.88 377.77,677.73 379.4,678.5 C381.03,679.27 383.28,680.03 385.2,680.8 C387.12,681.57 389.08,682.33 390.9,683.1 C392.72,683.87 394.75,684.73 396.1,685.4 C397.45,686.07 398.42,686.77 399,687.1 C399.58,687.43 399.5,687.35 399.6,687.4 L399.6,687.4 Z" fill="#6186d0"/>
<path d="M399.6,628 C399.5,628.33 399.48,629.08 399,630 C398.52,630.92 397.57,632.35 396.7,633.5 C395.83,634.65 394.67,635.75 393.8,636.9 C392.93,638.05 392.13,639.25 391.5,640.4 C390.87,641.55 390.32,642.65 390,643.8 C389.68,644.95 389.67,646.13 389.6,647.3 C389.53,648.47 389.67,649.65 389.6,650.8 C389.53,651.95 389.37,653.05 389.2,654.2 C389.03,655.35 388.88,656.53 388.6,657.7 C388.32,658.87 388.07,660.05 387.5,661.2 C386.93,662.35 386.27,663.45 385.2,664.6 C384.13,665.75 382.45,666.95 381.1,668.1 C379.75,669.25 378.15,670.45 377.1,671.5 C376.05,672.55 375.08,673.62 374.8,674.4 C374.52,675.18 374.63,675.52 375.4,676.2 C376.17,676.88 377.77,677.73 379.4,678.5 C381.03,679.27 383.28,680.03 385.2,680.8 C387.12,681.57 389.08,682.33 390.9,683.1 C392.72,683.87 394.75,684.73 396.1,685.4 C397.45,686.07 398.42,686.77 399,687.1 C399.58,687.43 399.5,687.35 399.6,687.4" fill="none" stroke="#555555" stroke-width="0.85" stroke-linejoin="round"/>
<line x1="399.6" y1="653.3" x2="389.3" y2="653.3" stroke="#2a2a2a" stroke-opacity="0.62" stroke-width="0.85" stroke-dasharray="2.4,1.8"/>
<line x1="399.6" y1="668.1" x2="381.1" y2="668.1" stroke="#2a2a2a" stroke-opacity="0.62" stroke-width="0.85" stroke-dasharray="0.9,1.3"/>
<line x1="399.6" y1="675.6" x2="375.1" y2="675.6" stroke="#2a2a2a" stroke-opacity="0.62" stroke-width="0.85" stroke-dasharray="0.9,1.3"/>
<path d="M399.6,590 L399.6,590 C399.67,591.12 399.85,594.1 400,596.7 C400.15,599.3 400.23,602.63 400.5,605.6 C400.77,608.57 401.18,611.52 401.6,614.5 C402.02,617.48 402.7,620.92 403,623.5 C403.3,626.08 403.27,628.33 403.4,630 C403.53,631.67 403.57,632.35 403.8,633.5 C404.03,634.65 404.45,635.75 404.8,636.9 C405.15,638.05 405.42,639.25 405.9,640.4 C406.38,641.55 407.12,642.65 407.7,643.8 C408.28,644.95 408.83,646.13 409.4,647.3 C409.97,648.47 410.52,649.65 411.1,650.8 C411.68,651.95 412.32,653.05 412.9,654.2 C413.48,655.35 414.07,656.53 414.6,657.7 C415.13,658.87 415.62,660.05 416.1,661.2 C416.58,662.35 417.22,663.45 417.5,664.6 C417.78,665.75 417.9,666.95 417.8,668.1 C417.7,669.25 417.72,670.35 416.9,671.5 C416.08,672.65 414.53,673.83 412.9,675 C411.27,676.17 408.83,677.45 407.1,678.5 C405.37,679.55 403.62,680.63 402.5,681.3 C401.38,681.97 400.88,682.22 400.4,682.5 C399.92,682.78 399.73,682.92 399.6,683 L399.6,683 Z" fill="#70c789"/>
<path d="M399.6,590 C399.67,591.12 399.85,594.1 400,596.7 C400.15,599.3 400.23,602.63 400.5,605.6 C400.77,608.57 401.18,611.52 401.6,614.5 C402.02,617.48 402.7,620.92 403,623.5 C403.3,626.08 403.27,628.33 403.4,630 C403.53,631.67 403.57,632.35 403.8,633.5 C404.03,634.65 404.45,635.75 404.8,636.9 C405.15,638.05 405.42,639.25 405.9,640.4 C406.38,641.55 407.12,642.65 407.7,643.8 C408.28,644.95 408.83,646.13 409.4,647.3 C409.97,648.47 410.52,649.65 411.1,650.8 C411.68,651.95 412.32,653.05 412.9,654.2 C413.48,655.35 414.07,656.53 414.6,657.7 C415.13,658.87 415.62,660.05 416.1,661.2 C416.58,662.35 417.22,663.45 417.5,664.6 C417.78,665.75 417.9,666.95 417.8,668.1 C417.7,669.25 417.72,670.35 416.9,671.5 C416.08,672.65 414.53,673.83 412.9,675 C411.27,676.17 408.83,677.45 407.1,678.5 C405.37,679.55 403.62,680.63 402.5,681.3 C401.38,681.97 400.88,682.22 400.4,682.5 C399.92,682.78 399.73,682.92 399.6,683" fill="none" stroke="#555555" stroke-width="0.85" stroke-linejoin="round"/>
<line x1="399.6" y1="646.2" x2="408.9" y2="646.2" stroke="#2a2a2a" stroke-opacity="0.62" stroke-width="0.85" stroke-dasharray="0.9,1.3"/>
<line x1="399.6" y1="659.4" x2="415.4" y2="659.4" stroke="#2a2a2a" stroke-opacity="0.62" stroke-width="0.85" stroke-dasharray="2.4,1.8"/>
<line x1="399.6" y1="668.7" x2="417.7" y2="668.7" stroke="#2a2a2a" stroke-opacity="0.62" stroke-width="0.85" stroke-dasharray="0.9,1.3"/>
<line x1="399.6" y1="569.4" x2="399.6" y2="687.4" stroke="#666666" stroke-width="1"/>
<path d="M485.6,618 L485.6,618 C485.55,618.33 485.58,619.08 485.3,620 C485.02,620.92 484.52,622.35 483.9,623.5 C483.28,624.65 482.37,625.57 481.6,626.9 C480.83,628.23 479.88,630.15 479.3,631.5 C478.72,632.85 478.33,633.83 478.1,635 C477.87,636.17 477.75,637.15 477.9,638.5 C478.05,639.85 478.77,641.77 479,643.1 C479.23,644.43 479.65,645.35 479.3,646.5 C478.95,647.65 477.87,648.83 476.9,650 C475.93,651.17 474.65,652.35 473.5,653.5 C472.35,654.65 471.07,655.75 470,656.9 C468.93,658.05 467.97,659.25 467.1,660.4 C466.23,661.55 465.57,662.65 464.8,663.8 C464.03,664.95 463.17,666.13 462.5,667.3 C461.83,668.47 461.12,669.65 460.8,670.8 C460.48,671.95 460.22,673.05 460.6,674.2 C460.98,675.35 461.72,676.53 463.1,677.7 C464.48,678.87 466.6,680.05 468.9,681.2 C471.2,682.35 474.6,683.65 476.9,684.6 C479.2,685.55 481.25,686.45 482.7,686.9 C484.15,687.35 485.12,687.23 485.6,687.3 L485.6,687.3 Z" fill="#6186d0"/>
<path d="M485.6,618 C485.55,618.33 485.58,619.08 485.3,620 C485.02,620.92 484.52,622.35 483.9,623.5 C483.28,624.65 482.37,625.57 481.6,626.9 C480.83,628.23 479.88,630.15 479.3,631.5 C478.72,632.85 478.33,633.83 478.1,635 C477.87,636.17 477.75,637.15 477.9,638.5 C478.05,639.85 478.77,641.77 479,643.1 C479.23,644.43 479.65,645.35 479.3,646.5 C478.95,647.65 477.87,648.83 476.9,650 C475.93,651.17 474.65,652.35 473.5,653.5 C472.35,654.65 471.07,655.75 470,656.9 C468.93,658.05 467.97,659.25 467.1,660.4 C466.23,661.55 465.57,662.65 464.8,663.8 C464.03,664.95 463.17,666.13 462.5,667.3 C461.83,668.47 461.12,669.65 460.8,670.8 C460.48,671.95 460.22,673.05 460.6,674.2 C460.98,675.35 461.72,676.53 463.1,677.7 C464.48,678.87 466.6,680.05 468.9,681.2 C471.2,682.35 474.6,683.65 476.9,684.6 C479.2,685.55 481.25,686.45 482.7,686.9 C484.15,687.35 485.12,687.23 485.6,687.3" fill="none" stroke="#555555" stroke-width="0.85" stroke-linejoin="round"/>
<line x1="485.6" y1="656.7" x2="470.1" y2="656.7" stroke="#2a2a2a" stroke-opacity="0.62" stroke-width="0.85" stroke-dasharray="0.9,1.3"/>
<line x1="485.6" y1="667.1" x2="462.6" y2="667.1" stroke="#2a2a2a" stroke-opacity="0.62" stroke-width="0.85" stroke-dasharray="2.4,1.8"/>
<line x1="485.6" y1="677.1" x2="462.6" y2="677.1" stroke="#2a2a2a" stroke-opacity="0.62" stroke-width="0.85" stroke-dasharray="0.9,1.3"/>
<path d="M485.6,609.5 L485.6,609.5 C485.73,610.42 486.15,613.25 486.4,615 C486.65,616.75 486.82,618.2 487.1,620 C487.38,621.8 487.68,623.88 488.1,625.8 C488.52,627.72 489.05,629.58 489.6,631.5 C490.15,633.42 490.78,635.37 491.4,637.3 C492.02,639.23 492.53,641.18 493.3,643.1 C494.07,645.02 494.98,646.88 496,648.8 C497.02,650.72 498.15,652.67 499.4,654.6 C500.65,656.53 502.25,658.67 503.5,660.4 C504.75,662.13 505.93,663.65 506.9,665 C507.87,666.35 508.75,667.35 509.3,668.5 C509.85,669.65 510.3,670.75 510.2,671.9 C510.1,673.05 509.63,674.43 508.7,675.4 C507.77,676.37 506.23,676.93 504.6,677.7 C502.97,678.47 501.02,679.23 498.9,680 C496.78,680.77 493.83,681.63 491.9,682.3 C489.97,682.97 488.35,683.63 487.3,684 C486.25,684.37 485.88,684.42 485.6,684.5 L485.6,684.5 Z" fill="#70c789"/>
<path d="M485.6,609.5 C485.73,610.42 486.15,613.25 486.4,615 C486.65,616.75 486.82,618.2 487.1,620 C487.38,621.8 487.68,623.88 488.1,625.8 C488.52,627.72 489.05,629.58 489.6,631.5 C490.15,633.42 490.78,635.37 491.4,637.3 C492.02,639.23 492.53,641.18 493.3,643.1 C494.07,645.02 494.98,646.88 496,648.8 C497.02,650.72 498.15,652.67 499.4,654.6 C500.65,656.53 502.25,658.67 503.5,660.4 C504.75,662.13 505.93,663.65 506.9,665 C507.87,666.35 508.75,667.35 509.3,668.5 C509.85,669.65 510.3,670.75 510.2,671.9 C510.1,673.05 509.63,674.43 508.7,675.4 C507.77,676.37 506.23,676.93 504.6,677.7 C502.97,678.47 501.02,679.23 498.9,680 C496.78,680.77 493.83,681.63 491.9,682.3 C489.97,682.97 488.35,683.63 487.3,684 C486.25,684.37 485.88,684.42 485.6,684.5" fill="none" stroke="#555555" stroke-width="0.85" stroke-linejoin="round"/>
<line x1="485.6" y1="648.8" x2="496" y2="648.8" stroke="#2a2a2a" stroke-opacity="0.62" stroke-width="0.85" stroke-dasharray="0.9,1.3"/>
<line x1="485.6" y1="662.1" x2="504.6" y2="662.1" stroke="#2a2a2a" stroke-opacity="0.62" stroke-width="0.85" stroke-dasharray="2.4,1.8"/>
<line x1="485.6" y1="670.4" x2="510.1" y2="670.4" stroke="#2a2a2a" stroke-opacity="0.62" stroke-width="0.85" stroke-dasharray="0.9,1.3"/>
<line x1="485.6" y1="569.4" x2="485.6" y2="687.3" stroke="#666666" stroke-width="1"/>
<rect x="31.5" y="45.1" width="223.5" height="114.6" fill="none" stroke="#848484" stroke-width="1"/>
<line x1="28.3" y1="159.7" x2="31.5" y2="159.7" stroke="#848484" stroke-width="1"/>
<line x1="255" y1="159.7" x2="258.2" y2="159.7" stroke="#848484" stroke-width="1"/>
<text x="26.1" y="161.55" class="tk" text-anchor="end">−0.2</text>
<line x1="28.3" y1="143.33" x2="31.5" y2="143.33" stroke="#848484" stroke-width="1"/>
<line x1="255" y1="143.33" x2="258.2" y2="143.33" stroke="#848484" stroke-width="1"/>
<text x="26.1" y="145.18" class="tk" text-anchor="end">0.0</text>
<line x1="28.3" y1="126.96" x2="31.5" y2="126.96" stroke="#848484" stroke-width="1"/>
<line x1="255" y1="126.96" x2="258.2" y2="126.96" stroke="#848484" stroke-width="1"/>
<text x="26.1" y="128.81" class="tk" text-anchor="end">0.2</text>
<line x1="28.3" y1="110.59" x2="31.5" y2="110.59" stroke="#848484" stroke-width="1"/>
<line x1="255" y1="110.59" x2="258.2" y2="110.59" stroke="#848484" stroke-width="1"/>
<text x="26.1" y="112.44" class="tk" text-anchor="end">0.4</text>
<line x1="28.3" y1="94.21" x2="31.5" y2="94.21" stroke="#848484" stroke-width="1"/>
<line x1="255" y1="94.21" x2="258.2" y2="94.21" stroke="#848484" stroke-width="1"/>
<text x="26.1" y="96.06" class="tk" text-anchor="end">0.6</text>
<line x1="28.3" y1="77.84" x2="31.5" y2="77.84" stroke="#848484" stroke-width="1"/>
<line x1="255" y1="77.84" x2="258.2" y2="77.84" stroke="#848484" stroke-width="1"/>
<text x="26.1" y="79.69" class="tk" text-anchor="end">0.8</text>
<line x1="28.3" y1="61.47" x2="31.5" y2="61.47" stroke="#848484" stroke-width="1"/>
<line x1="255" y1="61.47" x2="258.2" y2="61.47" stroke="#848484" stroke-width="1"/>
<text x="26.1" y="63.32" class="tk" text-anchor="end">1.0</text>
<line x1="28.3" y1="45.1" x2="31.5" y2="45.1" stroke="#848484" stroke-width="1"/>
<line x1="255" y1="45.1" x2="258.2" y2="45.1" stroke="#848484" stroke-width="1"/>
<text x="26.1" y="46.95" class="tk" text-anchor="end">1.2</text>
<line x1="68.6" y1="41.9" x2="68.6" y2="45.1" stroke="#848484" stroke-width="1"/>
<line x1="68.6" y1="159.7" x2="68.6" y2="162.9" stroke="#848484" stroke-width="1"/>
<text x="68.6" y="171" class="ct" text-anchor="middle">Title</text>
<line x1="143.4" y1="41.9" x2="143.4" y2="45.1" stroke="#848484" stroke-width="1"/>
<line x1="143.4" y1="159.7" x2="143.4" y2="162.9" stroke="#848484" stroke-width="1"/>
<text x="143.4" y="171" class="ct" text-anchor="middle">Abstract</text>
<line x1="217.5" y1="41.9" x2="217.5" y2="45.1" stroke="#848484" stroke-width="1"/>
<line x1="217.5" y1="159.7" x2="217.5" y2="162.9" stroke="#848484" stroke-width="1"/>
<text x="217.5" y="171" class="ct" text-anchor="middle">Body</text>
<rect x="291.2" y="45.1" width="222.2" height="114.6" fill="none" stroke="#848484" stroke-width="1"/>
<line x1="288" y1="159.7" x2="291.2" y2="159.7" stroke="#848484" stroke-width="1"/>
<line x1="513.4" y1="159.7" x2="516.6" y2="159.7" stroke="#848484" stroke-width="1"/>
<text x="285.1" y="161.55" class="tk" text-anchor="end">−0.4</text>
<line x1="288" y1="146.97" x2="291.2" y2="146.97" stroke="#848484" stroke-width="1"/>
<line x1="513.4" y1="146.97" x2="516.6" y2="146.97" stroke="#848484" stroke-width="1"/>
<text x="285.1" y="148.82" class="tk" text-anchor="end">−0.2</text>
<line x1="288" y1="134.23" x2="291.2" y2="134.23" stroke="#848484" stroke-width="1"/>
<line x1="513.4" y1="134.23" x2="516.6" y2="134.23" stroke="#848484" stroke-width="1"/>
<text x="285.1" y="136.08" class="tk" text-anchor="end">0.0</text>
<line x1="288" y1="121.5" x2="291.2" y2="121.5" stroke="#848484" stroke-width="1"/>
<line x1="513.4" y1="121.5" x2="516.6" y2="121.5" stroke="#848484" stroke-width="1"/>
<text x="285.1" y="123.35" class="tk" text-anchor="end">0.2</text>
<line x1="288" y1="108.77" x2="291.2" y2="108.77" stroke="#848484" stroke-width="1"/>
<line x1="513.4" y1="108.77" x2="516.6" y2="108.77" stroke="#848484" stroke-width="1"/>
<text x="285.1" y="110.62" class="tk" text-anchor="end">0.4</text>
<line x1="288" y1="96.03" x2="291.2" y2="96.03" stroke="#848484" stroke-width="1"/>
<line x1="513.4" y1="96.03" x2="516.6" y2="96.03" stroke="#848484" stroke-width="1"/>
<text x="285.1" y="97.88" class="tk" text-anchor="end">0.6</text>
<line x1="288" y1="83.3" x2="291.2" y2="83.3" stroke="#848484" stroke-width="1"/>
<line x1="513.4" y1="83.3" x2="516.6" y2="83.3" stroke="#848484" stroke-width="1"/>
<text x="285.1" y="85.15" class="tk" text-anchor="end">0.8</text>
<line x1="288" y1="70.57" x2="291.2" y2="70.57" stroke="#848484" stroke-width="1"/>
<line x1="513.4" y1="70.57" x2="516.6" y2="70.57" stroke="#848484" stroke-width="1"/>
<text x="285.1" y="72.42" class="tk" text-anchor="end">1.0</text>
<line x1="288" y1="57.83" x2="291.2" y2="57.83" stroke="#848484" stroke-width="1"/>
<line x1="513.4" y1="57.83" x2="516.6" y2="57.83" stroke="#848484" stroke-width="1"/>
<text x="285.1" y="59.68" class="tk" text-anchor="end">1.2</text>
<line x1="288" y1="45.1" x2="291.2" y2="45.1" stroke="#848484" stroke-width="1"/>
<line x1="513.4" y1="45.1" x2="516.6" y2="45.1" stroke="#848484" stroke-width="1"/>
<text x="285.1" y="46.95" class="tk" text-anchor="end">1.4</text>
<line x1="328.3" y1="41.9" x2="328.3" y2="45.1" stroke="#848484" stroke-width="1"/>
<line x1="328.3" y1="159.7" x2="328.3" y2="162.9" stroke="#848484" stroke-width="1"/>
<text x="328.3" y="171" class="ct" text-anchor="middle">Title</text>
<line x1="402.5" y1="41.9" x2="402.5" y2="45.1" stroke="#848484" stroke-width="1"/>
<line x1="402.5" y1="159.7" x2="402.5" y2="162.9" stroke="#848484" stroke-width="1"/>
<text x="402.5" y="171" class="ct" text-anchor="middle">Abstract</text>
<line x1="476.5" y1="41.9" x2="476.5" y2="45.1" stroke="#848484" stroke-width="1"/>
<line x1="476.5" y1="159.7" x2="476.5" y2="162.9" stroke="#848484" stroke-width="1"/>
<text x="476.5" y="171" class="ct" text-anchor="middle">Body</text>
<rect x="29.7" y="216.5" width="62.1" height="117" fill="none" stroke="#848484" stroke-width="1"/>
<line x1="26.5" y1="333.5" x2="29.7" y2="333.5" stroke="#848484" stroke-width="1"/>
<line x1="91.8" y1="333.5" x2="95" y2="333.5" stroke="#848484" stroke-width="1"/>
<text x="23.5" y="335.35" class="tk" text-anchor="end">0.0</text>
<line x1="26.5" y1="314" x2="29.7" y2="314" stroke="#848484" stroke-width="1"/>
<line x1="91.8" y1="314" x2="95" y2="314" stroke="#848484" stroke-width="1"/>
<text x="23.5" y="315.85" class="tk" text-anchor="end">0.5</text>
<line x1="26.5" y1="294.5" x2="29.7" y2="294.5" stroke="#848484" stroke-width="1"/>
<line x1="91.8" y1="294.5" x2="95" y2="294.5" stroke="#848484" stroke-width="1"/>
<text x="23.5" y="296.35" class="tk" text-anchor="end">1.0</text>
<line x1="26.5" y1="275" x2="29.7" y2="275" stroke="#848484" stroke-width="1"/>
<line x1="91.8" y1="275" x2="95" y2="275" stroke="#848484" stroke-width="1"/>
<text x="23.5" y="276.85" class="tk" text-anchor="end">1.5</text>
<line x1="26.5" y1="255.5" x2="29.7" y2="255.5" stroke="#848484" stroke-width="1"/>
<line x1="91.8" y1="255.5" x2="95" y2="255.5" stroke="#848484" stroke-width="1"/>
<text x="23.5" y="257.35" class="tk" text-anchor="end">2.0</text>
<line x1="26.5" y1="236" x2="29.7" y2="236" stroke="#848484" stroke-width="1"/>
<line x1="91.8" y1="236" x2="95" y2="236" stroke="#848484" stroke-width="1"/>
<text x="23.5" y="237.85" class="tk" text-anchor="end">2.5</text>
<line x1="26.5" y1="216.5" x2="29.7" y2="216.5" stroke="#848484" stroke-width="1"/>
<line x1="91.8" y1="216.5" x2="95" y2="216.5" stroke="#848484" stroke-width="1"/>
<text x="23.5" y="218.35" class="tk" text-anchor="end">3.0</text>
<line x1="60.6" y1="213.3" x2="60.6" y2="216.5" stroke="#848484" stroke-width="1"/>
<line x1="60.6" y1="333.5" x2="60.6" y2="336.7" stroke="#848484" stroke-width="1"/>
<text x="60.6" y="344.8" class="ct" text-anchor="middle">Title</text>
<rect x="114.6" y="216.5" width="62.3" height="117" fill="none" stroke="#848484" stroke-width="1"/>
<line x1="111.4" y1="333.5" x2="114.6" y2="333.5" stroke="#848484" stroke-width="1"/>
<line x1="176.9" y1="333.5" x2="180.1" y2="333.5" stroke="#848484" stroke-width="1"/>
<text x="108.6" y="335.35" class="tk" text-anchor="end">0.0</text>
<line x1="111.4" y1="304.25" x2="114.6" y2="304.25" stroke="#848484" stroke-width="1"/>
<line x1="176.9" y1="304.25" x2="180.1" y2="304.25" stroke="#848484" stroke-width="1"/>
<text x="108.6" y="306.1" class="tk" text-anchor="end">0.5</text>
<line x1="111.4" y1="275" x2="114.6" y2="275" stroke="#848484" stroke-width="1"/>
<line x1="176.9" y1="275" x2="180.1" y2="275" stroke="#848484" stroke-width="1"/>
<text x="108.6" y="276.85" class="tk" text-anchor="end">1.0</text>
<line x1="111.4" y1="245.75" x2="114.6" y2="245.75" stroke="#848484" stroke-width="1"/>
<line x1="176.9" y1="245.75" x2="180.1" y2="245.75" stroke="#848484" stroke-width="1"/>
<text x="108.6" y="247.6" class="tk" text-anchor="end">1.5</text>
<line x1="111.4" y1="216.5" x2="114.6" y2="216.5" stroke="#848484" stroke-width="1"/>
<line x1="176.9" y1="216.5" x2="180.1" y2="216.5" stroke="#848484" stroke-width="1"/>
<text x="108.6" y="218.35" class="tk" text-anchor="end">2.0</text>
<line x1="145.7" y1="213.3" x2="145.7" y2="216.5" stroke="#848484" stroke-width="1"/>
<line x1="145.7" y1="333.5" x2="145.7" y2="336.7" stroke="#848484" stroke-width="1"/>
<text x="145.7" y="344.8" class="ct" text-anchor="middle">Abstract</text>
<rect x="199.4" y="216.5" width="61.8" height="117" fill="none" stroke="#848484" stroke-width="1"/>
<line x1="196.2" y1="333.5" x2="199.4" y2="333.5" stroke="#848484" stroke-width="1"/>
<line x1="261.2" y1="333.5" x2="264.4" y2="333.5" stroke="#848484" stroke-width="1"/>
<text x="193.5" y="335.35" class="tk" text-anchor="end">0.0</text>
<line x1="196.2" y1="315.64" x2="199.4" y2="315.64" stroke="#848484" stroke-width="1"/>
<line x1="261.2" y1="315.64" x2="264.4" y2="315.64" stroke="#848484" stroke-width="1"/>
<text x="193.5" y="317.49" class="tk" text-anchor="end">0.2</text>
<line x1="196.2" y1="297.77" x2="199.4" y2="297.77" stroke="#848484" stroke-width="1"/>
<line x1="261.2" y1="297.77" x2="264.4" y2="297.77" stroke="#848484" stroke-width="1"/>
<text x="193.5" y="299.62" class="tk" text-anchor="end">0.4</text>
<line x1="196.2" y1="279.91" x2="199.4" y2="279.91" stroke="#848484" stroke-width="1"/>
<line x1="261.2" y1="279.91" x2="264.4" y2="279.91" stroke="#848484" stroke-width="1"/>
<text x="193.5" y="281.76" class="tk" text-anchor="end">0.6</text>
<line x1="196.2" y1="262.05" x2="199.4" y2="262.05" stroke="#848484" stroke-width="1"/>
<line x1="261.2" y1="262.05" x2="264.4" y2="262.05" stroke="#848484" stroke-width="1"/>
<text x="193.5" y="263.9" class="tk" text-anchor="end">0.8</text>
<line x1="196.2" y1="244.19" x2="199.4" y2="244.19" stroke="#848484" stroke-width="1"/>
<line x1="261.2" y1="244.19" x2="264.4" y2="244.19" stroke="#848484" stroke-width="1"/>
<text x="193.5" y="246.04" class="tk" text-anchor="end">1.0</text>
<line x1="196.2" y1="226.32" x2="199.4" y2="226.32" stroke="#848484" stroke-width="1"/>
<line x1="261.2" y1="226.32" x2="264.4" y2="226.32" stroke="#848484" stroke-width="1"/>
<text x="193.5" y="228.17" class="tk" text-anchor="end">1.2</text>
<line x1="230.7" y1="213.3" x2="230.7" y2="216.5" stroke="#848484" stroke-width="1"/>
<line x1="230.7" y1="333.5" x2="230.7" y2="336.7" stroke="#848484" stroke-width="1"/>
<text x="230.7" y="344.8" class="ct" text-anchor="middle">Body</text>
<rect x="292.3" y="220" width="61.5" height="113.8" fill="none" stroke="#848484" stroke-width="1"/>
<line x1="289.1" y1="325.37" x2="292.3" y2="325.37" stroke="#848484" stroke-width="1"/>
<line x1="353.8" y1="325.37" x2="357" y2="325.37" stroke="#848484" stroke-width="1"/>
<text x="287.4" y="327.22" class="tk" text-anchor="end">0.0</text>
<line x1="289.1" y1="304.3" x2="292.3" y2="304.3" stroke="#848484" stroke-width="1"/>
<line x1="353.8" y1="304.3" x2="357" y2="304.3" stroke="#848484" stroke-width="1"/>
<text x="287.4" y="306.15" class="tk" text-anchor="end">0.5</text>
<line x1="289.1" y1="283.22" x2="292.3" y2="283.22" stroke="#848484" stroke-width="1"/>
<line x1="353.8" y1="283.22" x2="357" y2="283.22" stroke="#848484" stroke-width="1"/>
<text x="287.4" y="285.07" class="tk" text-anchor="end">1.0</text>
<line x1="289.1" y1="262.15" x2="292.3" y2="262.15" stroke="#848484" stroke-width="1"/>
<line x1="353.8" y1="262.15" x2="357" y2="262.15" stroke="#848484" stroke-width="1"/>
<text x="287.4" y="264" class="tk" text-anchor="end">1.5</text>
<line x1="289.1" y1="241.07" x2="292.3" y2="241.07" stroke="#848484" stroke-width="1"/>
<line x1="353.8" y1="241.07" x2="357" y2="241.07" stroke="#848484" stroke-width="1"/>
<text x="287.4" y="242.92" class="tk" text-anchor="end">2.0</text>
<line x1="289.1" y1="220" x2="292.3" y2="220" stroke="#848484" stroke-width="1"/>
<line x1="353.8" y1="220" x2="357" y2="220" stroke="#848484" stroke-width="1"/>
<text x="287.4" y="221.85" class="tk" text-anchor="end">2.5</text>
<line x1="322.7" y1="216.8" x2="322.7" y2="220" stroke="#848484" stroke-width="1"/>
<line x1="322.7" y1="333.8" x2="322.7" y2="337" stroke="#848484" stroke-width="1"/>
<text x="322.7" y="345.1" class="ct" text-anchor="middle">Title</text>
<rect x="370" y="220" width="61.1" height="113.8" fill="none" stroke="#848484" stroke-width="1"/>
<line x1="366.8" y1="333.8" x2="370" y2="333.8" stroke="#848484" stroke-width="1"/>
<line x1="431.1" y1="333.8" x2="434.3" y2="333.8" stroke="#848484" stroke-width="1"/>
<text x="363.9" y="335.65" class="tk" text-anchor="end">0</text>
<line x1="366.8" y1="311.04" x2="370" y2="311.04" stroke="#848484" stroke-width="1"/>
<line x1="431.1" y1="311.04" x2="434.3" y2="311.04" stroke="#848484" stroke-width="1"/>
<text x="363.9" y="312.89" class="tk" text-anchor="end">1</text>
<line x1="366.8" y1="288.28" x2="370" y2="288.28" stroke="#848484" stroke-width="1"/>
<line x1="431.1" y1="288.28" x2="434.3" y2="288.28" stroke="#848484" stroke-width="1"/>
<text x="363.9" y="290.13" class="tk" text-anchor="end">2</text>
<line x1="366.8" y1="265.52" x2="370" y2="265.52" stroke="#848484" stroke-width="1"/>
<line x1="431.1" y1="265.52" x2="434.3" y2="265.52" stroke="#848484" stroke-width="1"/>
<text x="363.9" y="267.37" class="tk" text-anchor="end">3</text>
<line x1="366.8" y1="242.76" x2="370" y2="242.76" stroke="#848484" stroke-width="1"/>
<line x1="431.1" y1="242.76" x2="434.3" y2="242.76" stroke="#848484" stroke-width="1"/>
<text x="363.9" y="244.61" class="tk" text-anchor="end">4</text>
<line x1="366.8" y1="220" x2="370" y2="220" stroke="#848484" stroke-width="1"/>
<line x1="431.1" y1="220" x2="434.3" y2="220" stroke="#848484" stroke-width="1"/>
<text x="363.9" y="221.85" class="tk" text-anchor="end">5</text>
<line x1="400.5" y1="216.8" x2="400.5" y2="220" stroke="#848484" stroke-width="1"/>
<line x1="400.5" y1="333.8" x2="400.5" y2="337" stroke="#848484" stroke-width="1"/>
<text x="400.5" y="345.1" class="ct" text-anchor="middle">Abstract</text>
<rect x="451.2" y="219.6" width="61.1" height="114.2" fill="none" stroke="#848484" stroke-width="1"/>
<line x1="448" y1="333.8" x2="451.2" y2="333.8" stroke="#848484" stroke-width="1"/>
<line x1="512.3" y1="333.8" x2="515.5" y2="333.8" stroke="#848484" stroke-width="1"/>
<text x="444.8" y="335.65" class="tk" text-anchor="end">0</text>
<line x1="448" y1="305.25" x2="451.2" y2="305.25" stroke="#848484" stroke-width="1"/>
<line x1="512.3" y1="305.25" x2="515.5" y2="305.25" stroke="#848484" stroke-width="1"/>
<text x="444.8" y="307.1" class="tk" text-anchor="end">5</text>
<line x1="448" y1="276.7" x2="451.2" y2="276.7" stroke="#848484" stroke-width="1"/>
<line x1="512.3" y1="276.7" x2="515.5" y2="276.7" stroke="#848484" stroke-width="1"/>
<text x="444.8" y="278.55" class="tk" text-anchor="end">10</text>
<line x1="448" y1="248.15" x2="451.2" y2="248.15" stroke="#848484" stroke-width="1"/>
<line x1="512.3" y1="248.15" x2="515.5" y2="248.15" stroke="#848484" stroke-width="1"/>
<text x="444.8" y="250" class="tk" text-anchor="end">15</text>
<line x1="448" y1="219.6" x2="451.2" y2="219.6" stroke="#848484" stroke-width="1"/>
<line x1="512.3" y1="219.6" x2="515.5" y2="219.6" stroke="#848484" stroke-width="1"/>
<text x="444.8" y="221.45" class="tk" text-anchor="end">20</text>
<line x1="481.4" y1="216.4" x2="481.4" y2="219.6" stroke="#848484" stroke-width="1"/>
<line x1="481.4" y1="333.8" x2="481.4" y2="337" stroke="#848484" stroke-width="1"/>
<text x="481.4" y="345.1" class="ct" text-anchor="middle">Body</text>
<rect x="22.6" y="392.6" width="62" height="117.4" fill="none" stroke="#848484" stroke-width="1"/>
<line x1="19.4" y1="495.73" x2="22.6" y2="495.73" stroke="#848484" stroke-width="1"/>
<line x1="84.6" y1="495.73" x2="87.8" y2="495.73" stroke="#848484" stroke-width="1"/>
<text x="15.9" y="497.58" class="tk" text-anchor="end">0</text>
<line x1="19.4" y1="478.54" x2="22.6" y2="478.54" stroke="#848484" stroke-width="1"/>
<line x1="84.6" y1="478.54" x2="87.8" y2="478.54" stroke="#848484" stroke-width="1"/>
<text x="15.9" y="480.39" class="tk" text-anchor="end">5</text>
<line x1="19.4" y1="461.36" x2="22.6" y2="461.36" stroke="#848484" stroke-width="1"/>
<line x1="84.6" y1="461.36" x2="87.8" y2="461.36" stroke="#848484" stroke-width="1"/>
<text x="15.9" y="463.21" class="tk" text-anchor="end">10</text>
<line x1="19.4" y1="444.17" x2="22.6" y2="444.17" stroke="#848484" stroke-width="1"/>
<line x1="84.6" y1="444.17" x2="87.8" y2="444.17" stroke="#848484" stroke-width="1"/>
<text x="15.9" y="446.02" class="tk" text-anchor="end">15</text>
<line x1="19.4" y1="426.98" x2="22.6" y2="426.98" stroke="#848484" stroke-width="1"/>
<line x1="84.6" y1="426.98" x2="87.8" y2="426.98" stroke="#848484" stroke-width="1"/>
<text x="15.9" y="428.83" class="tk" text-anchor="end">20</text>
<line x1="19.4" y1="409.79" x2="22.6" y2="409.79" stroke="#848484" stroke-width="1"/>
<line x1="84.6" y1="409.79" x2="87.8" y2="409.79" stroke="#848484" stroke-width="1"/>
<text x="15.9" y="411.64" class="tk" text-anchor="end">25</text>
<line x1="19.4" y1="392.6" x2="22.6" y2="392.6" stroke="#848484" stroke-width="1"/>
<line x1="84.6" y1="392.6" x2="87.8" y2="392.6" stroke="#848484" stroke-width="1"/>
<text x="15.9" y="394.45" class="tk" text-anchor="end">30</text>
<line x1="53.6" y1="389.4" x2="53.6" y2="392.6" stroke="#848484" stroke-width="1"/>
<line x1="53.6" y1="510" x2="53.6" y2="513.2" stroke="#848484" stroke-width="1"/>
<text x="53.6" y="521.3" class="ct" text-anchor="middle">Title</text>
<rect x="106.4" y="392.4" width="62.4" height="117" fill="none" stroke="#848484" stroke-width="1"/>
<line x1="103.2" y1="499.05" x2="106.4" y2="499.05" stroke="#848484" stroke-width="1"/>
<line x1="168.8" y1="499.05" x2="172" y2="499.05" stroke="#848484" stroke-width="1"/>
<text x="99.9" y="500.9" class="tk" text-anchor="end">0</text>
<line x1="103.2" y1="477.72" x2="106.4" y2="477.72" stroke="#848484" stroke-width="1"/>
<line x1="168.8" y1="477.72" x2="172" y2="477.72" stroke="#848484" stroke-width="1"/>
<text x="99.9" y="479.57" class="tk" text-anchor="end">10</text>
<line x1="103.2" y1="456.39" x2="106.4" y2="456.39" stroke="#848484" stroke-width="1"/>
<line x1="168.8" y1="456.39" x2="172" y2="456.39" stroke="#848484" stroke-width="1"/>
<text x="99.9" y="458.24" class="tk" text-anchor="end">20</text>
<line x1="103.2" y1="435.06" x2="106.4" y2="435.06" stroke="#848484" stroke-width="1"/>
<line x1="168.8" y1="435.06" x2="172" y2="435.06" stroke="#848484" stroke-width="1"/>
<text x="99.9" y="436.91" class="tk" text-anchor="end">30</text>
<line x1="103.2" y1="413.73" x2="106.4" y2="413.73" stroke="#848484" stroke-width="1"/>
<line x1="168.8" y1="413.73" x2="172" y2="413.73" stroke="#848484" stroke-width="1"/>
<text x="99.9" y="415.58" class="tk" text-anchor="end">40</text>
<line x1="103.2" y1="392.4" x2="106.4" y2="392.4" stroke="#848484" stroke-width="1"/>
<line x1="168.8" y1="392.4" x2="172" y2="392.4" stroke="#848484" stroke-width="1"/>
<text x="99.9" y="394.25" class="tk" text-anchor="end">50</text>
<line x1="137.5" y1="389.2" x2="137.5" y2="392.4" stroke="#848484" stroke-width="1"/>
<line x1="137.5" y1="509.4" x2="137.5" y2="512.6" stroke="#848484" stroke-width="1"/>
<text x="137.5" y="520.7" class="ct" text-anchor="middle">Abstract</text>
<rect x="190.3" y="392.4" width="63.1" height="116.9" fill="none" stroke="#848484" stroke-width="1"/>
<line x1="187.1" y1="509.3" x2="190.3" y2="509.3" stroke="#848484" stroke-width="1"/>
<line x1="253.4" y1="509.3" x2="256.6" y2="509.3" stroke="#848484" stroke-width="1"/>
<text x="184.3" y="511.15" class="tk" text-anchor="end">0</text>
<line x1="187.1" y1="492.6" x2="190.3" y2="492.6" stroke="#848484" stroke-width="1"/>
<line x1="253.4" y1="492.6" x2="256.6" y2="492.6" stroke="#848484" stroke-width="1"/>
<text x="184.3" y="494.45" class="tk" text-anchor="end">10</text>
<line x1="187.1" y1="475.9" x2="190.3" y2="475.9" stroke="#848484" stroke-width="1"/>
<line x1="253.4" y1="475.9" x2="256.6" y2="475.9" stroke="#848484" stroke-width="1"/>
<text x="184.3" y="477.75" class="tk" text-anchor="end">20</text>
<line x1="187.1" y1="459.2" x2="190.3" y2="459.2" stroke="#848484" stroke-width="1"/>
<line x1="253.4" y1="459.2" x2="256.6" y2="459.2" stroke="#848484" stroke-width="1"/>
<text x="184.3" y="461.05" class="tk" text-anchor="end">30</text>
<line x1="187.1" y1="442.5" x2="190.3" y2="442.5" stroke="#848484" stroke-width="1"/>
<line x1="253.4" y1="442.5" x2="256.6" y2="442.5" stroke="#848484" stroke-width="1"/>
<text x="184.3" y="444.35" class="tk" text-anchor="end">40</text>
<line x1="187.1" y1="425.8" x2="190.3" y2="425.8" stroke="#848484" stroke-width="1"/>
<line x1="253.4" y1="425.8" x2="256.6" y2="425.8" stroke="#848484" stroke-width="1"/>
<text x="184.3" y="427.65" class="tk" text-anchor="end">50</text>
<line x1="187.1" y1="409.1" x2="190.3" y2="409.1" stroke="#848484" stroke-width="1"/>
<line x1="253.4" y1="409.1" x2="256.6" y2="409.1" stroke="#848484" stroke-width="1"/>
<text x="184.3" y="410.95" class="tk" text-anchor="end">60</text>
<line x1="187.1" y1="392.4" x2="190.3" y2="392.4" stroke="#848484" stroke-width="1"/>
<line x1="253.4" y1="392.4" x2="256.6" y2="392.4" stroke="#848484" stroke-width="1"/>
<text x="184.3" y="394.25" class="tk" text-anchor="end">70</text>
<line x1="221.7" y1="389.2" x2="221.7" y2="392.4" stroke="#848484" stroke-width="1"/>
<line x1="221.7" y1="509.3" x2="221.7" y2="512.5" stroke="#848484" stroke-width="1"/>
<text x="221.7" y="520.6" class="ct" text-anchor="middle">Body</text>
<rect x="282.6" y="392.3" width="62.8" height="117.2" fill="none" stroke="#848484" stroke-width="1"/>
<line x1="279.4" y1="502.31" x2="282.6" y2="502.31" stroke="#848484" stroke-width="1"/>
<line x1="345.4" y1="502.31" x2="348.6" y2="502.31" stroke="#848484" stroke-width="1"/>
<text x="276.6" y="504.16" class="tk" text-anchor="end">0</text>
<line x1="279.4" y1="483.98" x2="282.6" y2="483.98" stroke="#848484" stroke-width="1"/>
<line x1="345.4" y1="483.98" x2="348.6" y2="483.98" stroke="#848484" stroke-width="1"/>
<text x="276.6" y="485.83" class="tk" text-anchor="end">5</text>
<line x1="279.4" y1="465.64" x2="282.6" y2="465.64" stroke="#848484" stroke-width="1"/>
<line x1="345.4" y1="465.64" x2="348.6" y2="465.64" stroke="#848484" stroke-width="1"/>
<text x="276.6" y="467.49" class="tk" text-anchor="end">10</text>
<line x1="279.4" y1="447.31" x2="282.6" y2="447.31" stroke="#848484" stroke-width="1"/>
<line x1="345.4" y1="447.31" x2="348.6" y2="447.31" stroke="#848484" stroke-width="1"/>
<text x="276.6" y="449.16" class="tk" text-anchor="end">15</text>
<line x1="279.4" y1="428.97" x2="282.6" y2="428.97" stroke="#848484" stroke-width="1"/>
<line x1="345.4" y1="428.97" x2="348.6" y2="428.97" stroke="#848484" stroke-width="1"/>
<text x="276.6" y="430.82" class="tk" text-anchor="end">20</text>
<line x1="279.4" y1="410.64" x2="282.6" y2="410.64" stroke="#848484" stroke-width="1"/>
<line x1="345.4" y1="410.64" x2="348.6" y2="410.64" stroke="#848484" stroke-width="1"/>
<text x="276.6" y="412.49" class="tk" text-anchor="end">25</text>
<line x1="279.4" y1="392.3" x2="282.6" y2="392.3" stroke="#848484" stroke-width="1"/>
<line x1="345.4" y1="392.3" x2="348.6" y2="392.3" stroke="#848484" stroke-width="1"/>
<text x="276.6" y="394.15" class="tk" text-anchor="end">30</text>
<line x1="314.2" y1="389.1" x2="314.2" y2="392.3" stroke="#848484" stroke-width="1"/>
<line x1="314.2" y1="509.5" x2="314.2" y2="512.7" stroke="#848484" stroke-width="1"/>
<text x="314.2" y="520.8" class="ct" text-anchor="middle">Title</text>
<rect x="366.6" y="392.3" width="63" height="117" fill="none" stroke="#848484" stroke-width="1"/>
<line x1="363.4" y1="509.3" x2="366.6" y2="509.3" stroke="#848484" stroke-width="1"/>
<line x1="429.6" y1="509.3" x2="432.8" y2="509.3" stroke="#848484" stroke-width="1"/>
<text x="360.5" y="511.15" class="tk" text-anchor="end">0</text>
<line x1="363.4" y1="485.9" x2="366.6" y2="485.9" stroke="#848484" stroke-width="1"/>
<line x1="429.6" y1="485.9" x2="432.8" y2="485.9" stroke="#848484" stroke-width="1"/>
<text x="360.5" y="487.75" class="tk" text-anchor="end">10</text>
<line x1="363.4" y1="462.5" x2="366.6" y2="462.5" stroke="#848484" stroke-width="1"/>
<line x1="429.6" y1="462.5" x2="432.8" y2="462.5" stroke="#848484" stroke-width="1"/>
<text x="360.5" y="464.35" class="tk" text-anchor="end">20</text>
<line x1="363.4" y1="439.1" x2="366.6" y2="439.1" stroke="#848484" stroke-width="1"/>
<line x1="429.6" y1="439.1" x2="432.8" y2="439.1" stroke="#848484" stroke-width="1"/>
<text x="360.5" y="440.95" class="tk" text-anchor="end">30</text>
<line x1="363.4" y1="415.7" x2="366.6" y2="415.7" stroke="#848484" stroke-width="1"/>
<line x1="429.6" y1="415.7" x2="432.8" y2="415.7" stroke="#848484" stroke-width="1"/>
<text x="360.5" y="417.55" class="tk" text-anchor="end">40</text>
<line x1="363.4" y1="392.3" x2="366.6" y2="392.3" stroke="#848484" stroke-width="1"/>
<line x1="429.6" y1="392.3" x2="432.8" y2="392.3" stroke="#848484" stroke-width="1"/>
<text x="360.5" y="394.15" class="tk" text-anchor="end">50</text>
<line x1="398.1" y1="389.1" x2="398.1" y2="392.3" stroke="#848484" stroke-width="1"/>
<line x1="398.1" y1="509.3" x2="398.1" y2="512.5" stroke="#848484" stroke-width="1"/>
<text x="398.1" y="520.6" class="ct" text-anchor="middle">Abstract</text>
<rect x="454.6" y="392.1" width="62.6" height="117.2" fill="none" stroke="#848484" stroke-width="1"/>
<line x1="451.4" y1="509.3" x2="454.6" y2="509.3" stroke="#848484" stroke-width="1"/>
<line x1="517.2" y1="509.3" x2="520.4" y2="509.3" stroke="#848484" stroke-width="1"/>
<text x="448.2" y="511.15" class="tk" text-anchor="end">0</text>
<line x1="451.4" y1="485.86" x2="454.6" y2="485.86" stroke="#848484" stroke-width="1"/>
<line x1="517.2" y1="485.86" x2="520.4" y2="485.86" stroke="#848484" stroke-width="1"/>
<text x="448.2" y="487.71" class="tk" text-anchor="end">20</text>
<line x1="451.4" y1="462.42" x2="454.6" y2="462.42" stroke="#848484" stroke-width="1"/>
<line x1="517.2" y1="462.42" x2="520.4" y2="462.42" stroke="#848484" stroke-width="1"/>
<text x="448.2" y="464.27" class="tk" text-anchor="end">40</text>
<line x1="451.4" y1="438.98" x2="454.6" y2="438.98" stroke="#848484" stroke-width="1"/>
<line x1="517.2" y1="438.98" x2="520.4" y2="438.98" stroke="#848484" stroke-width="1"/>
<text x="448.2" y="440.83" class="tk" text-anchor="end">60</text>
<line x1="451.4" y1="415.54" x2="454.6" y2="415.54" stroke="#848484" stroke-width="1"/>
<line x1="517.2" y1="415.54" x2="520.4" y2="415.54" stroke="#848484" stroke-width="1"/>
<text x="448.2" y="417.39" class="tk" text-anchor="end">80</text>
<line x1="451.4" y1="392.1" x2="454.6" y2="392.1" stroke="#848484" stroke-width="1"/>
<line x1="517.2" y1="392.1" x2="520.4" y2="392.1" stroke="#848484" stroke-width="1"/>
<text x="448.2" y="393.95" class="tk" text-anchor="end">100</text>
<line x1="485.7" y1="388.9" x2="485.7" y2="392.1" stroke="#848484" stroke-width="1"/>
<line x1="485.7" y1="509.3" x2="485.7" y2="512.5" stroke="#848484" stroke-width="1"/>
<text x="485.7" y="520.6" class="ct" text-anchor="middle">Body</text>
<rect x="29.7" y="573.2" width="223.4" height="114.8" fill="none" stroke="#848484" stroke-width="1"/>
<line x1="26.5" y1="688" x2="29.7" y2="688" stroke="#848484" stroke-width="1"/>
<line x1="253.1" y1="688" x2="256.3" y2="688" stroke="#848484" stroke-width="1"/>
<text x="23.2" y="689.85" class="tkl" text-anchor="end">0</text>
<line x1="26.5" y1="665.04" x2="29.7" y2="665.04" stroke="#848484" stroke-width="1"/>
<line x1="253.1" y1="665.04" x2="256.3" y2="665.04" stroke="#848484" stroke-width="1"/>
<text x="23.2" y="666.89" class="tkl" text-anchor="end">200</text>
<line x1="26.5" y1="642.08" x2="29.7" y2="642.08" stroke="#848484" stroke-width="1"/>
<line x1="253.1" y1="642.08" x2="256.3" y2="642.08" stroke="#848484" stroke-width="1"/>
<text x="23.2" y="643.93" class="tkl" text-anchor="end">400</text>
<line x1="26.5" y1="619.12" x2="29.7" y2="619.12" stroke="#848484" stroke-width="1"/>
<line x1="253.1" y1="619.12" x2="256.3" y2="619.12" stroke="#848484" stroke-width="1"/>
<text x="23.2" y="620.97" class="tkl" text-anchor="end">600</text>
<line x1="26.5" y1="596.16" x2="29.7" y2="596.16" stroke="#848484" stroke-width="1"/>
<line x1="253.1" y1="596.16" x2="256.3" y2="596.16" stroke="#848484" stroke-width="1"/>
<text x="23.2" y="598.01" class="tkl" text-anchor="end">800</text>
<line x1="26.5" y1="573.2" x2="29.7" y2="573.2" stroke="#848484" stroke-width="1"/>
<line x1="253.1" y1="573.2" x2="256.3" y2="573.2" stroke="#848484" stroke-width="1"/>
<text x="23.2" y="575.05" class="tkl" text-anchor="end">1000</text>
<line x1="66.5" y1="570" x2="66.5" y2="573.2" stroke="#848484" stroke-width="1"/>
<line x1="66.5" y1="688" x2="66.5" y2="691.2" stroke="#848484" stroke-width="1"/>
<text x="66.5" y="699.3" class="ct" text-anchor="middle">Title</text>
<line x1="140.8" y1="570" x2="140.8" y2="573.2" stroke="#848484" stroke-width="1"/>
<line x1="140.8" y1="688" x2="140.8" y2="691.2" stroke="#848484" stroke-width="1"/>
<text x="140.8" y="699.3" class="ct" text-anchor="middle">Abstract</text>
<line x1="215.3" y1="570" x2="215.3" y2="573.2" stroke="#848484" stroke-width="1"/>
<line x1="215.3" y1="688" x2="215.3" y2="691.2" stroke="#848484" stroke-width="1"/>
<text x="215.3" y="699.3" class="ct" text-anchor="middle">Body</text>
<rect x="282.8" y="570.2" width="62.6" height="117.5" fill="none" stroke="#848484" stroke-width="1"/>
<line x1="279.6" y1="687.7" x2="282.8" y2="687.7" stroke="#848484" stroke-width="1"/>
<line x1="345.4" y1="687.7" x2="348.6" y2="687.7" stroke="#848484" stroke-width="1"/>
<text x="276.2" y="689.55" class="tk" text-anchor="end">−1</text>
<line x1="279.6" y1="674.64" x2="282.8" y2="674.64" stroke="#848484" stroke-width="1"/>
<line x1="345.4" y1="674.64" x2="348.6" y2="674.64" stroke="#848484" stroke-width="1"/>
<text x="276.2" y="676.49" class="tk" text-anchor="end">0</text>
<line x1="279.6" y1="661.59" x2="282.8" y2="661.59" stroke="#848484" stroke-width="1"/>
<line x1="345.4" y1="661.59" x2="348.6" y2="661.59" stroke="#848484" stroke-width="1"/>
<text x="276.2" y="663.44" class="tk" text-anchor="end">1</text>
<line x1="279.6" y1="648.53" x2="282.8" y2="648.53" stroke="#848484" stroke-width="1"/>
<line x1="345.4" y1="648.53" x2="348.6" y2="648.53" stroke="#848484" stroke-width="1"/>
<text x="276.2" y="650.38" class="tk" text-anchor="end">2</text>
<line x1="279.6" y1="635.48" x2="282.8" y2="635.48" stroke="#848484" stroke-width="1"/>
<line x1="345.4" y1="635.48" x2="348.6" y2="635.48" stroke="#848484" stroke-width="1"/>
<text x="276.2" y="637.33" class="tk" text-anchor="end">3</text>
<line x1="279.6" y1="622.42" x2="282.8" y2="622.42" stroke="#848484" stroke-width="1"/>
<line x1="345.4" y1="622.42" x2="348.6" y2="622.42" stroke="#848484" stroke-width="1"/>
<text x="276.2" y="624.27" class="tk" text-anchor="end">4</text>
<line x1="279.6" y1="609.37" x2="282.8" y2="609.37" stroke="#848484" stroke-width="1"/>
<line x1="345.4" y1="609.37" x2="348.6" y2="609.37" stroke="#848484" stroke-width="1"/>
<text x="276.2" y="611.22" class="tk" text-anchor="end">5</text>
<line x1="279.6" y1="596.31" x2="282.8" y2="596.31" stroke="#848484" stroke-width="1"/>
<line x1="345.4" y1="596.31" x2="348.6" y2="596.31" stroke="#848484" stroke-width="1"/>
<text x="276.2" y="598.16" class="tk" text-anchor="end">6</text>
<line x1="279.6" y1="583.26" x2="282.8" y2="583.26" stroke="#848484" stroke-width="1"/>
<line x1="345.4" y1="583.26" x2="348.6" y2="583.26" stroke="#848484" stroke-width="1"/>
<text x="276.2" y="585.11" class="tk" text-anchor="end">7</text>
<line x1="279.6" y1="570.2" x2="282.8" y2="570.2" stroke="#848484" stroke-width="1"/>
<line x1="345.4" y1="570.2" x2="348.6" y2="570.2" stroke="#848484" stroke-width="1"/>
<text x="276.2" y="572.05" class="tk" text-anchor="end">8</text>
<line x1="313.8" y1="567" x2="313.8" y2="570.2" stroke="#848484" stroke-width="1"/>
<line x1="313.8" y1="687.7" x2="313.8" y2="690.9" stroke="#848484" stroke-width="1"/>
<text x="313.8" y="699" class="ct" text-anchor="middle">Title</text>
<rect x="368.2" y="569.4" width="63.2" height="118" fill="none" stroke="#848484" stroke-width="1"/>
<line x1="365" y1="676.43" x2="368.2" y2="676.43" stroke="#848484" stroke-width="1"/>
<line x1="431.4" y1="676.43" x2="434.6" y2="676.43" stroke="#848484" stroke-width="1"/>
<text x="361.7" y="678.28" class="tk" text-anchor="end">0.0</text>
<line x1="365" y1="663.05" x2="368.2" y2="663.05" stroke="#848484" stroke-width="1"/>
<line x1="431.4" y1="663.05" x2="434.6" y2="663.05" stroke="#848484" stroke-width="1"/>
<text x="361.7" y="664.9" class="tk" text-anchor="end">0.5</text>
<line x1="365" y1="649.67" x2="368.2" y2="649.67" stroke="#848484" stroke-width="1"/>
<line x1="431.4" y1="649.67" x2="434.6" y2="649.67" stroke="#848484" stroke-width="1"/>
<text x="361.7" y="651.52" class="tk" text-anchor="end">1.0</text>
<line x1="365" y1="636.29" x2="368.2" y2="636.29" stroke="#848484" stroke-width="1"/>
<line x1="431.4" y1="636.29" x2="434.6" y2="636.29" stroke="#848484" stroke-width="1"/>
<text x="361.7" y="638.14" class="tk" text-anchor="end">1.5</text>
<line x1="365" y1="622.91" x2="368.2" y2="622.91" stroke="#848484" stroke-width="1"/>
<line x1="431.4" y1="622.91" x2="434.6" y2="622.91" stroke="#848484" stroke-width="1"/>
<text x="361.7" y="624.76" class="tk" text-anchor="end">2.0</text>
<line x1="365" y1="609.54" x2="368.2" y2="609.54" stroke="#848484" stroke-width="1"/>
<line x1="431.4" y1="609.54" x2="434.6" y2="609.54" stroke="#848484" stroke-width="1"/>
<text x="361.7" y="611.39" class="tk" text-anchor="end">2.5</text>
<line x1="365" y1="596.16" x2="368.2" y2="596.16" stroke="#848484" stroke-width="1"/>
<line x1="431.4" y1="596.16" x2="434.6" y2="596.16" stroke="#848484" stroke-width="1"/>
<text x="361.7" y="598.01" class="tk" text-anchor="end">3.0</text>
<line x1="365" y1="582.78" x2="368.2" y2="582.78" stroke="#848484" stroke-width="1"/>
<line x1="431.4" y1="582.78" x2="434.6" y2="582.78" stroke="#848484" stroke-width="1"/>
<text x="361.7" y="584.63" class="tk" text-anchor="end">3.5</text>
<line x1="365" y1="569.4" x2="368.2" y2="569.4" stroke="#848484" stroke-width="1"/>
<line x1="431.4" y1="569.4" x2="434.6" y2="569.4" stroke="#848484" stroke-width="1"/>
<text x="361.7" y="571.25" class="tk" text-anchor="end">4.0</text>
<line x1="399.6" y1="566.2" x2="399.6" y2="569.4" stroke="#848484" stroke-width="1"/>
<line x1="399.6" y1="687.4" x2="399.6" y2="690.6" stroke="#848484" stroke-width="1"/>
<text x="399.6" y="698.7" class="ct" text-anchor="middle">Abstract</text>
<rect x="453.5" y="569.4" width="63.5" height="117.9" fill="none" stroke="#848484" stroke-width="1"/>
<line x1="450.3" y1="679.59" x2="453.5" y2="679.59" stroke="#848484" stroke-width="1"/>
<line x1="517" y1="679.59" x2="520.2" y2="679.59" stroke="#848484" stroke-width="1"/>
<text x="447.4" y="681.44" class="tk" text-anchor="end">0.0</text>
<line x1="450.3" y1="652.04" x2="453.5" y2="652.04" stroke="#848484" stroke-width="1"/>
<line x1="517" y1="652.04" x2="520.2" y2="652.04" stroke="#848484" stroke-width="1"/>
<text x="447.4" y="653.89" class="tk" text-anchor="end">0.5</text>
<line x1="450.3" y1="624.49" x2="453.5" y2="624.49" stroke="#848484" stroke-width="1"/>
<line x1="517" y1="624.49" x2="520.2" y2="624.49" stroke="#848484" stroke-width="1"/>
<text x="447.4" y="626.34" class="tk" text-anchor="end">1.0</text>
<line x1="450.3" y1="596.95" x2="453.5" y2="596.95" stroke="#848484" stroke-width="1"/>
<line x1="517" y1="596.95" x2="520.2" y2="596.95" stroke="#848484" stroke-width="1"/>
<text x="447.4" y="598.8" class="tk" text-anchor="end">1.5</text>
<line x1="450.3" y1="569.4" x2="453.5" y2="569.4" stroke="#848484" stroke-width="1"/>
<line x1="517" y1="569.4" x2="520.2" y2="569.4" stroke="#848484" stroke-width="1"/>
<text x="447.4" y="571.25" class="tk" text-anchor="end">2.0</text>
<line x1="485.6" y1="566.2" x2="485.6" y2="569.4" stroke="#848484" stroke-width="1"/>
<line x1="485.6" y1="687.3" x2="485.6" y2="690.5" stroke="#848484" stroke-width="1"/>
<text x="485.6" y="698.6" class="ct" text-anchor="middle">Body</text>
<text transform="translate(7.8,102.3) rotate(-90)" x="-28.9" y="0" class="yl" textLength="57.8" lengthAdjust="spacingAndGlyphs">Overlap Similarity</text>
<text transform="translate(267.2,99.85) rotate(-90)" x="-44.15" y="0" class="yl" textLength="88.3" lengthAdjust="spacingAndGlyphs">Retrieval Performance Score</text>
<text transform="translate(9.7,275.2) rotate(-90)" x="-21.05" y="0" class="yl" textLength="42.1" lengthAdjust="spacingAndGlyphs">Query Scope</text>
<text transform="translate(273.3,276.9) rotate(-90)" x="-11.5" y="0" class="yl" textLength="23" lengthAdjust="spacingAndGlyphs">Sum TF</text>
<text transform="translate(5.9,449.5) rotate(-90)" x="-29.65" y="0" class="yl" textLength="59.3" lengthAdjust="spacingAndGlyphs">SumTF-IDF Score</text>
<text transform="translate(265.8,450.4) rotate(-90)" x="-28.7" y="0" class="yl" textLength="57.4" lengthAdjust="spacingAndGlyphs">LMDirichlet Score</text>
<text transform="translate(5.2,630.5) rotate(-90)" x="-16.7" y="0" class="yl" textLength="33.4" lengthAdjust="spacingAndGlyphs">SCQ Score</text>
<text transform="translate(264.4,629.2) rotate(-90)" x="-21.05" y="0" class="yl" textLength="42.1" lengthAdjust="spacingAndGlyphs">Clarity Score</text>
<text x="1.2" y="35.2" class="pls">(a)</text>
<text x="262.6" y="35" class="pl">(b)</text>
<text x="1.2" y="210.6" class="pl">(c)</text>
<text x="262" y="210.6" class="pl">(d)</text>
<text x="1.2" y="381.6" class="pl">(e)</text>
<text x="263.4" y="381.6" class="pl">(f)</text>
<text x="1.2" y="560.8" class="pl">(g)</text>
<text x="262.6" y="560.6" class="pl">(h)</text>
<text x="86.1" y="192.7" class="cap" textLength="103.8" lengthAdjust="spacingAndGlyphs">Overlap distribution.</text>
<text x="294.6" y="192.7" class="cap" textLength="204.9" lengthAdjust="spacingAndGlyphs">Retrieval Performance Score distribution.</text>
<text x="78.1" y="366.7" class="cap" textLength="128.3" lengthAdjust="spacingAndGlyphs">Query Scope distribution.</text>
<text x="346.5" y="366.7" class="cap" textLength="106.8" lengthAdjust="spacingAndGlyphs">Sum TF distribution.</text>
<text x="71.9" y="542.6" class="cap" textLength="127.3" lengthAdjust="spacingAndGlyphs">Sum TFIDF distribution.</text>
<text x="319.1" y="542.5" class="cap" textLength="155.4" lengthAdjust="spacingAndGlyphs">LMDirichlet Score distribution.</text>
<text x="75.8" y="715.2" class="cap" textLength="119.4" lengthAdjust="spacingAndGlyphs">SCQ Score distribution.</text>
<text x="332.7" y="715.2" class="cap" textLength="129.8" lengthAdjust="spacingAndGlyphs">Clarity Score distribution.</text>
<text x="132.5" y="5.9" class="hd" text-anchor="middle">Dead records Rm4</text>
<text x="132.4" y="15.9" class="hd" text-anchor="middle">(Literature inconsistency)</text>
<rect x="110.3" y="20.1" width="44.6" height="9.6" fill="#5b80cc" stroke="#2c3d6c" stroke-width="1"/>
<text x="417.6" y="11.1" class="hd" text-anchor="middle">Alive records</text>
<rect x="395.8" y="19.8" width="44.5" height="9.9" fill="#6cc482" stroke="#2d5c3a" stroke-width="1"/>
</svg>
</body></html>
